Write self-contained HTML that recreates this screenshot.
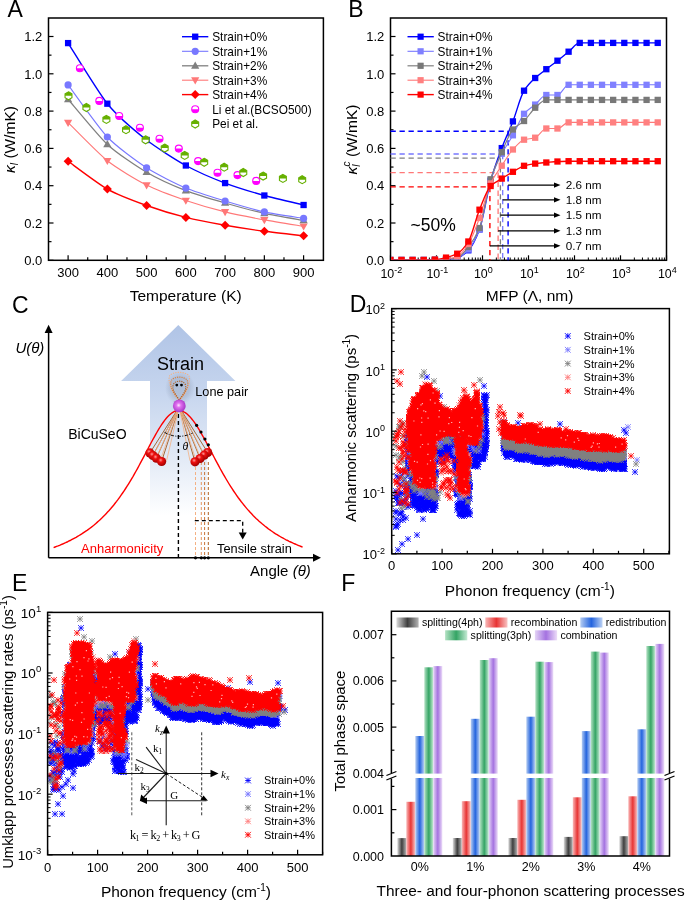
<!DOCTYPE html>
<html><head><meta charset="utf-8"><style>
html,body{margin:0;padding:0;background:#fff;}
svg{display:block;will-change:transform;}
svg text{font-family:"Liberation Sans", sans-serif;fill:#000;}
</style></head><body>
<svg width="685" height="901" viewBox="0 0 685 901">
<text x="7.4" y="16.6" font-size="23" text-anchor="start" >A</text>
<line x1="48.5" y1="260.3" x2="53.5" y2="260.3" stroke="#000" stroke-width="1.2" />
<text x="42.3" y="265" font-size="13" text-anchor="end" >0.0</text>
<line x1="48.5" y1="223" x2="53.5" y2="223" stroke="#000" stroke-width="1.2" />
<text x="42.3" y="227.7" font-size="13" text-anchor="end" >0.2</text>
<line x1="48.5" y1="185.7" x2="53.5" y2="185.7" stroke="#000" stroke-width="1.2" />
<text x="42.3" y="190.4" font-size="13" text-anchor="end" >0.4</text>
<line x1="48.5" y1="148.4" x2="53.5" y2="148.4" stroke="#000" stroke-width="1.2" />
<text x="42.3" y="153.1" font-size="13" text-anchor="end" >0.6</text>
<line x1="48.5" y1="111.1" x2="53.5" y2="111.1" stroke="#000" stroke-width="1.2" />
<text x="42.3" y="115.8" font-size="13" text-anchor="end" >0.8</text>
<line x1="48.5" y1="73.8" x2="53.5" y2="73.8" stroke="#000" stroke-width="1.2" />
<text x="42.3" y="78.5" font-size="13" text-anchor="end" >1.0</text>
<line x1="48.5" y1="36.5" x2="53.5" y2="36.5" stroke="#000" stroke-width="1.2" />
<text x="42.3" y="41.2" font-size="13" text-anchor="end" >1.2</text>
<line x1="48.5" y1="241.65" x2="51.5" y2="241.65" stroke="#000" stroke-width="1.2" />
<line x1="48.5" y1="204.35" x2="51.5" y2="204.35" stroke="#000" stroke-width="1.2" />
<line x1="48.5" y1="167.05" x2="51.5" y2="167.05" stroke="#000" stroke-width="1.2" />
<line x1="48.5" y1="129.75" x2="51.5" y2="129.75" stroke="#000" stroke-width="1.2" />
<line x1="48.5" y1="92.45" x2="51.5" y2="92.45" stroke="#000" stroke-width="1.2" />
<line x1="48.5" y1="55.15" x2="51.5" y2="55.15" stroke="#000" stroke-width="1.2" />
<line x1="68.1" y1="260.3" x2="68.1" y2="255.3" stroke="#000" stroke-width="1.2" />
<text x="68.1" y="277.1" font-size="13" text-anchor="middle" >300</text>
<line x1="107.35" y1="260.3" x2="107.35" y2="255.3" stroke="#000" stroke-width="1.2" />
<text x="107.35" y="277.1" font-size="13" text-anchor="middle" >400</text>
<line x1="146.6" y1="260.3" x2="146.6" y2="255.3" stroke="#000" stroke-width="1.2" />
<text x="146.6" y="277.1" font-size="13" text-anchor="middle" >500</text>
<line x1="185.85" y1="260.3" x2="185.85" y2="255.3" stroke="#000" stroke-width="1.2" />
<text x="185.85" y="277.1" font-size="13" text-anchor="middle" >600</text>
<line x1="225.1" y1="260.3" x2="225.1" y2="255.3" stroke="#000" stroke-width="1.2" />
<text x="225.1" y="277.1" font-size="13" text-anchor="middle" >700</text>
<line x1="264.35" y1="260.3" x2="264.35" y2="255.3" stroke="#000" stroke-width="1.2" />
<text x="264.35" y="277.1" font-size="13" text-anchor="middle" >800</text>
<line x1="303.6" y1="260.3" x2="303.6" y2="255.3" stroke="#000" stroke-width="1.2" />
<text x="303.6" y="277.1" font-size="13" text-anchor="middle" >900</text>
<line x1="87.72" y1="260.3" x2="87.72" y2="257.3" stroke="#000" stroke-width="1.2" />
<line x1="126.97" y1="260.3" x2="126.97" y2="257.3" stroke="#000" stroke-width="1.2" />
<line x1="166.22" y1="260.3" x2="166.22" y2="257.3" stroke="#000" stroke-width="1.2" />
<line x1="205.47" y1="260.3" x2="205.47" y2="257.3" stroke="#000" stroke-width="1.2" />
<line x1="244.72" y1="260.3" x2="244.72" y2="257.3" stroke="#000" stroke-width="1.2" />
<line x1="283.98" y1="260.3" x2="283.98" y2="257.3" stroke="#000" stroke-width="1.2" />
<rect x="48.5" y="18" width="274.9" height="242.3" fill="none" stroke="#000" stroke-width="1.5"/>
<text x="129.7" y="300.7" font-size="15.5" text-anchor="start" >Temperature (K)</text>
<text transform="translate(15,139.5) rotate(-90)" font-size="15.5" text-anchor="middle"><tspan font-style="italic">κ</tspan><tspan font-style="italic" font-size="10" dy="3">l</tspan><tspan dy="-3"> (W/mK)</tspan></text>
<path d="M68.1,161.3C72.68,164.54 98.19,183.94 107.35,189.1C116.51,194.26 137.44,202.2 146.6,205.5C155.76,208.8 176.69,215.09 185.85,217.4C195.01,219.71 215.94,223.68 225.1,225.3C234.26,226.92 255.19,230.08 264.35,231.3C273.51,232.53 299.02,235.28 303.6,235.8" fill="none" stroke="#ff0000" stroke-width="1.4"/>
<polygon points="68.1,156.8 72.6,161.3 68.1,165.8 63.6,161.3" fill="#ff0000"/>
<polygon points="107.35,184.6 111.85,189.1 107.35,193.6 102.85,189.1" fill="#ff0000"/>
<polygon points="146.6,201 151.1,205.5 146.6,210 142.1,205.5" fill="#ff0000"/>
<polygon points="185.85,212.9 190.35,217.4 185.85,221.9 181.35,217.4" fill="#ff0000"/>
<polygon points="225.1,220.8 229.6,225.3 225.1,229.8 220.6,225.3" fill="#ff0000"/>
<polygon points="264.35,226.8 268.85,231.3 264.35,235.8 259.85,231.3" fill="#ff0000"/>
<polygon points="303.6,231.3 308.1,235.8 303.6,240.3 299.1,235.8" fill="#ff0000"/>
<path d="M68.1,122.6C72.68,127.06 98.19,153.51 107.35,160.8C116.51,168.09 137.44,180.47 146.6,185.1C155.76,189.73 176.69,197.37 185.85,200.5C195.01,203.63 215.94,209.64 225.1,211.9C234.26,214.16 255.19,218.22 264.35,219.9C273.51,221.58 299.02,225.55 303.6,226.3" fill="none" stroke="#ff7878" stroke-width="1.1"/>
<polygon points="68.1,126.88 72.2,119.75 64,119.75" fill="#ff7878"/>
<polygon points="107.35,165.08 111.45,157.95 103.25,157.95" fill="#ff7878"/>
<polygon points="146.6,189.38 150.7,182.25 142.5,182.25" fill="#ff7878"/>
<polygon points="185.85,204.78 189.95,197.65 181.75,197.65" fill="#ff7878"/>
<polygon points="225.1,216.18 229.2,209.05 221,209.05" fill="#ff7878"/>
<polygon points="264.35,224.18 268.45,217.05 260.25,217.05" fill="#ff7878"/>
<polygon points="303.6,230.58 307.7,223.45 299.5,223.45" fill="#ff7878"/>
<path d="M68.1,99.3C72.68,104.56 98.19,135.9 107.35,144.4C116.51,152.91 137.44,166.81 146.6,172.2C155.76,177.59 176.69,187.01 185.85,190.6C195.01,194.19 215.94,200.34 225.1,203C234.26,205.66 255.19,211.37 264.35,213.4C273.51,215.43 299.02,219.58 303.6,220.4" fill="none" stroke="#808080" stroke-width="1.3"/>
<polygon points="68.1,95.02 72.2,102.15 64,102.15" fill="#808080"/>
<polygon points="107.35,140.12 111.45,147.25 103.25,147.25" fill="#808080"/>
<polygon points="146.6,167.92 150.7,175.05 142.5,175.05" fill="#808080"/>
<polygon points="185.85,186.32 189.95,193.45 181.75,193.45" fill="#808080"/>
<polygon points="225.1,198.72 229.2,205.85 221,205.85" fill="#808080"/>
<polygon points="264.35,209.12 268.45,216.25 260.25,216.25" fill="#808080"/>
<polygon points="303.6,216.12 307.7,223.25 299.5,223.25" fill="#808080"/>
<path d="M68.1,84.9C72.68,90.98 98.19,127.33 107.35,137C116.51,146.67 137.44,161.84 146.6,167.8C155.76,173.76 176.69,184.23 185.85,188.1C195.01,191.97 215.94,198.22 225.1,201C234.26,203.78 255.19,209.87 264.35,211.9C273.51,213.93 299.02,217.64 303.6,218.4" fill="none" stroke="#7878ff" stroke-width="1.1"/>
<circle cx="68.1" cy="84.9" r="3.6" fill="#7878ff"/>
<circle cx="107.35" cy="137" r="3.6" fill="#7878ff"/>
<circle cx="146.6" cy="167.8" r="3.6" fill="#7878ff"/>
<circle cx="185.85" cy="188.1" r="3.6" fill="#7878ff"/>
<circle cx="225.1" cy="201" r="3.6" fill="#7878ff"/>
<circle cx="264.35" cy="211.9" r="3.6" fill="#7878ff"/>
<circle cx="303.6" cy="218.4" r="3.6" fill="#7878ff"/>
<path d="M68.1,43.1C72.68,50.17 98.19,92.4 107.35,103.7C116.51,115 137.44,132.79 146.6,140C155.76,147.21 176.69,160.47 185.85,165.5C195.01,170.53 215.94,179.6 225.1,183.1C234.26,186.6 255.19,192.94 264.35,195.5C273.51,198.06 299.02,203.89 303.6,205" fill="none" stroke="#0000ff" stroke-width="1.4"/>
<rect x="64.95" y="39.95" width="6.3" height="6.3" fill="#0000ff"/>
<rect x="104.2" y="100.55" width="6.3" height="6.3" fill="#0000ff"/>
<rect x="143.45" y="136.85" width="6.3" height="6.3" fill="#0000ff"/>
<rect x="182.7" y="162.35" width="6.3" height="6.3" fill="#0000ff"/>
<rect x="221.95" y="179.95" width="6.3" height="6.3" fill="#0000ff"/>
<rect x="261.2" y="192.35" width="6.3" height="6.3" fill="#0000ff"/>
<rect x="300.45" y="201.85" width="6.3" height="6.3" fill="#0000ff"/>
<circle cx="79.9" cy="68.2" r="3.5" fill="#fff" stroke="#ff00ff" stroke-width="1.1"/><path d="M76.4,68.2 A3.5,3.5 0 0 0 83.4,68.2Z" fill="#ff00ff"/>
<circle cx="99.3" cy="100.9" r="3.5" fill="#fff" stroke="#ff00ff" stroke-width="1.1"/><path d="M95.8,100.9 A3.5,3.5 0 0 0 102.8,100.9Z" fill="#ff00ff"/>
<circle cx="119.2" cy="116" r="3.5" fill="#fff" stroke="#ff00ff" stroke-width="1.1"/><path d="M115.7,116 A3.5,3.5 0 0 0 122.7,116Z" fill="#ff00ff"/>
<circle cx="139.9" cy="127.7" r="3.5" fill="#fff" stroke="#ff00ff" stroke-width="1.1"/><path d="M136.4,127.7 A3.5,3.5 0 0 0 143.4,127.7Z" fill="#ff00ff"/>
<circle cx="159.5" cy="138.8" r="3.5" fill="#fff" stroke="#ff00ff" stroke-width="1.1"/><path d="M156,138.8 A3.5,3.5 0 0 0 163,138.8Z" fill="#ff00ff"/>
<circle cx="178.8" cy="148.6" r="3.5" fill="#fff" stroke="#ff00ff" stroke-width="1.1"/><path d="M175.3,148.6 A3.5,3.5 0 0 0 182.3,148.6Z" fill="#ff00ff"/>
<circle cx="198.1" cy="161.1" r="3.5" fill="#fff" stroke="#ff00ff" stroke-width="1.1"/><path d="M194.6,161.1 A3.5,3.5 0 0 0 201.6,161.1Z" fill="#ff00ff"/>
<circle cx="217.5" cy="172.8" r="3.5" fill="#fff" stroke="#ff00ff" stroke-width="1.1"/><path d="M214,172.8 A3.5,3.5 0 0 0 221,172.8Z" fill="#ff00ff"/>
<circle cx="237.5" cy="175.1" r="3.5" fill="#fff" stroke="#ff00ff" stroke-width="1.1"/><path d="M234,175.1 A3.5,3.5 0 0 0 241,175.1Z" fill="#ff00ff"/>
<circle cx="256.2" cy="180.9" r="3.5" fill="#fff" stroke="#ff00ff" stroke-width="1.1"/><path d="M252.7,180.9 A3.5,3.5 0 0 0 259.7,180.9Z" fill="#ff00ff"/>
<polygon points="68.5,91.8 71.96,93.8 71.96,97.8 68.5,99.8 65.04,97.8 65.04,93.8" fill="#fff" stroke="#66b000" stroke-width="1.1"/><polygon points="65.04,95.8 65.04,93.8 68.5,91.8 71.96,93.8 71.96,95.8" fill="#66b000"/>
<polygon points="86.4,103.5 89.86,105.5 89.86,109.5 86.4,111.5 82.94,109.5 82.94,105.5" fill="#fff" stroke="#66b000" stroke-width="1.1"/><polygon points="82.94,107.5 82.94,105.5 86.4,103.5 89.86,105.5 89.86,107.5" fill="#66b000"/>
<polygon points="106.4,115.4 109.86,117.4 109.86,121.4 106.4,123.4 102.94,121.4 102.94,117.4" fill="#fff" stroke="#66b000" stroke-width="1.1"/><polygon points="102.94,119.4 102.94,117.4 106.4,115.4 109.86,117.4 109.86,119.4" fill="#66b000"/>
<polygon points="126,125.7 129.46,127.7 129.46,131.7 126,133.7 122.54,131.7 122.54,127.7" fill="#fff" stroke="#66b000" stroke-width="1.1"/><polygon points="122.54,129.7 122.54,127.7 126,125.7 129.46,127.7 129.46,129.7" fill="#66b000"/>
<polygon points="145.6,135.8 149.06,137.8 149.06,141.8 145.6,143.8 142.14,141.8 142.14,137.8" fill="#fff" stroke="#66b000" stroke-width="1.1"/><polygon points="142.14,139.8 142.14,137.8 145.6,135.8 149.06,137.8 149.06,139.8" fill="#66b000"/>
<polygon points="164.7,144.1 168.16,146.1 168.16,150.1 164.7,152.1 161.24,150.1 161.24,146.1" fill="#fff" stroke="#66b000" stroke-width="1.1"/><polygon points="161.24,148.1 161.24,146.1 164.7,144.1 168.16,146.1 168.16,148.1" fill="#66b000"/>
<polygon points="184.7,151.4 188.16,153.4 188.16,157.4 184.7,159.4 181.24,157.4 181.24,153.4" fill="#fff" stroke="#66b000" stroke-width="1.1"/><polygon points="181.24,155.4 181.24,153.4 184.7,151.4 188.16,153.4 188.16,155.4" fill="#66b000"/>
<polygon points="204.2,158.3 207.66,160.3 207.66,164.3 204.2,166.3 200.74,164.3 200.74,160.3" fill="#fff" stroke="#66b000" stroke-width="1.1"/><polygon points="200.74,162.3 200.74,160.3 204.2,158.3 207.66,160.3 207.66,162.3" fill="#66b000"/>
<polygon points="224.2,163.2 227.66,165.2 227.66,169.2 224.2,171.2 220.74,169.2 220.74,165.2" fill="#fff" stroke="#66b000" stroke-width="1.1"/><polygon points="220.74,167.2 220.74,165.2 224.2,163.2 227.66,165.2 227.66,167.2" fill="#66b000"/>
<polygon points="243.3,168.5 246.76,170.5 246.76,174.5 243.3,176.5 239.84,174.5 239.84,170.5" fill="#fff" stroke="#66b000" stroke-width="1.1"/><polygon points="239.84,172.5 239.84,170.5 243.3,168.5 246.76,170.5 246.76,172.5" fill="#66b000"/>
<polygon points="263.1,172.1 266.56,174.1 266.56,178.1 263.1,180.1 259.64,178.1 259.64,174.1" fill="#fff" stroke="#66b000" stroke-width="1.1"/><polygon points="259.64,176.1 259.64,174.1 263.1,172.1 266.56,174.1 266.56,176.1" fill="#66b000"/>
<polygon points="282.9,174.4 286.36,176.4 286.36,180.4 282.9,182.4 279.44,180.4 279.44,176.4" fill="#fff" stroke="#66b000" stroke-width="1.1"/><polygon points="279.44,178.4 279.44,176.4 282.9,174.4 286.36,176.4 286.36,178.4" fill="#66b000"/>
<polygon points="302.2,175.7 305.66,177.7 305.66,181.7 302.2,183.7 298.74,181.7 298.74,177.7" fill="#fff" stroke="#66b000" stroke-width="1.1"/><polygon points="298.74,179.7 298.74,177.7 302.2,175.7 305.66,177.7 305.66,179.7" fill="#66b000"/>
<line x1="182" y1="36.7" x2="208.3" y2="36.7" stroke="#0000ff" stroke-width="1.4" />
<rect x="192.05" y="33.55" width="6.3" height="6.3" fill="#0000ff"/>
<line x1="182" y1="51.3" x2="208.3" y2="51.3" stroke="#7878ff" stroke-width="1.1" />
<circle cx="195.2" cy="51.3" r="3.6" fill="#7878ff"/>
<line x1="182" y1="65.8" x2="208.3" y2="65.8" stroke="#808080" stroke-width="1.3" />
<polygon points="195.2,61.52 199.3,68.65 191.1,68.65" fill="#808080"/>
<line x1="182" y1="80.2" x2="208.3" y2="80.2" stroke="#ff7878" stroke-width="1.1" />
<polygon points="195.2,84.48 199.3,77.35 191.1,77.35" fill="#ff7878"/>
<line x1="182" y1="94.6" x2="208.3" y2="94.6" stroke="#ff0000" stroke-width="1.4" />
<polygon points="195.2,90.1 199.7,94.6 195.2,99.1 190.7,94.6" fill="#ff0000"/>
<circle cx="195.2" cy="109.2" r="3.5" fill="#fff" stroke="#ff00ff" stroke-width="1.1"/><path d="M191.7,109.2 A3.5,3.5 0 0 0 198.7,109.2Z" fill="#ff00ff"/>
<polygon points="195.2,120 198.66,122 198.66,126 195.2,128 191.74,126 191.74,122" fill="#fff" stroke="#66b000" stroke-width="1.1"/><polygon points="191.74,124 191.74,122 195.2,120 198.66,122 198.66,124" fill="#66b000"/>
<text x="212.2" y="41" font-size="11.85" text-anchor="start" >Strain+0%</text>
<text x="212.2" y="55.6" font-size="11.85" text-anchor="start" >Strain+1%</text>
<text x="212.2" y="70.1" font-size="11.85" text-anchor="start" >Strain+2%</text>
<text x="212.2" y="84.5" font-size="11.85" text-anchor="start" >Strain+3%</text>
<text x="212.2" y="98.9" font-size="11.85" text-anchor="start" >Strain+4%</text>
<text x="212.2" y="113.5" font-size="11.85" text-anchor="start" >Li et al.(BCSO500)</text>
<text x="212.2" y="128.3" font-size="11.85" text-anchor="start" >Pei et al.</text>
<text x="348.3" y="16.6" font-size="23" text-anchor="start" >B</text>
<line x1="390.5" y1="260.3" x2="395.5" y2="260.3" stroke="#000" stroke-width="1.2" />
<text x="384.3" y="265" font-size="13" text-anchor="end" >0.0</text>
<line x1="390.5" y1="223" x2="395.5" y2="223" stroke="#000" stroke-width="1.2" />
<text x="384.3" y="227.7" font-size="13" text-anchor="end" >0.2</text>
<line x1="390.5" y1="185.7" x2="395.5" y2="185.7" stroke="#000" stroke-width="1.2" />
<text x="384.3" y="190.4" font-size="13" text-anchor="end" >0.4</text>
<line x1="390.5" y1="148.4" x2="395.5" y2="148.4" stroke="#000" stroke-width="1.2" />
<text x="384.3" y="153.1" font-size="13" text-anchor="end" >0.6</text>
<line x1="390.5" y1="111.1" x2="395.5" y2="111.1" stroke="#000" stroke-width="1.2" />
<text x="384.3" y="115.8" font-size="13" text-anchor="end" >0.8</text>
<line x1="390.5" y1="73.8" x2="395.5" y2="73.8" stroke="#000" stroke-width="1.2" />
<text x="384.3" y="78.5" font-size="13" text-anchor="end" >1.0</text>
<line x1="390.5" y1="36.5" x2="395.5" y2="36.5" stroke="#000" stroke-width="1.2" />
<text x="384.3" y="41.2" font-size="13" text-anchor="end" >1.2</text>
<line x1="390.5" y1="241.65" x2="393.5" y2="241.65" stroke="#000" stroke-width="1.2" />
<line x1="390.5" y1="204.35" x2="393.5" y2="204.35" stroke="#000" stroke-width="1.2" />
<line x1="390.5" y1="167.05" x2="393.5" y2="167.05" stroke="#000" stroke-width="1.2" />
<line x1="390.5" y1="129.75" x2="393.5" y2="129.75" stroke="#000" stroke-width="1.2" />
<line x1="390.5" y1="92.45" x2="393.5" y2="92.45" stroke="#000" stroke-width="1.2" />
<line x1="390.5" y1="55.15" x2="393.5" y2="55.15" stroke="#000" stroke-width="1.2" />
<line x1="390.5" y1="260.3" x2="390.5" y2="255.3" stroke="#000" stroke-width="1.2" />
<line x1="404.35" y1="260.3" x2="404.35" y2="257.5" stroke="#000" stroke-width="1" />
<line x1="412.45" y1="260.3" x2="412.45" y2="257.5" stroke="#000" stroke-width="1" />
<line x1="418.19" y1="260.3" x2="418.19" y2="257.5" stroke="#000" stroke-width="1" />
<line x1="422.65" y1="260.3" x2="422.65" y2="257.5" stroke="#000" stroke-width="1" />
<line x1="426.29" y1="260.3" x2="426.29" y2="257.5" stroke="#000" stroke-width="1" />
<line x1="429.37" y1="260.3" x2="429.37" y2="257.5" stroke="#000" stroke-width="1" />
<line x1="432.04" y1="260.3" x2="432.04" y2="257.5" stroke="#000" stroke-width="1" />
<line x1="434.4" y1="260.3" x2="434.4" y2="257.5" stroke="#000" stroke-width="1" />
<text x="391.3" y="278.2" font-size="12.4" text-anchor="middle">10<tspan font-size="9" dy="-5">-2</tspan></text>
<line x1="436.5" y1="260.3" x2="436.5" y2="255.3" stroke="#000" stroke-width="1.2" />
<line x1="450.35" y1="260.3" x2="450.35" y2="257.5" stroke="#000" stroke-width="1" />
<line x1="458.45" y1="260.3" x2="458.45" y2="257.5" stroke="#000" stroke-width="1" />
<line x1="464.19" y1="260.3" x2="464.19" y2="257.5" stroke="#000" stroke-width="1" />
<line x1="468.65" y1="260.3" x2="468.65" y2="257.5" stroke="#000" stroke-width="1" />
<line x1="472.29" y1="260.3" x2="472.29" y2="257.5" stroke="#000" stroke-width="1" />
<line x1="475.37" y1="260.3" x2="475.37" y2="257.5" stroke="#000" stroke-width="1" />
<line x1="478.04" y1="260.3" x2="478.04" y2="257.5" stroke="#000" stroke-width="1" />
<line x1="480.4" y1="260.3" x2="480.4" y2="257.5" stroke="#000" stroke-width="1" />
<text x="437.3" y="278.2" font-size="12.4" text-anchor="middle">10<tspan font-size="9" dy="-5">-1</tspan></text>
<line x1="482.5" y1="260.3" x2="482.5" y2="255.3" stroke="#000" stroke-width="1.2" />
<line x1="496.35" y1="260.3" x2="496.35" y2="257.5" stroke="#000" stroke-width="1" />
<line x1="504.45" y1="260.3" x2="504.45" y2="257.5" stroke="#000" stroke-width="1" />
<line x1="510.19" y1="260.3" x2="510.19" y2="257.5" stroke="#000" stroke-width="1" />
<line x1="514.65" y1="260.3" x2="514.65" y2="257.5" stroke="#000" stroke-width="1" />
<line x1="518.29" y1="260.3" x2="518.29" y2="257.5" stroke="#000" stroke-width="1" />
<line x1="521.37" y1="260.3" x2="521.37" y2="257.5" stroke="#000" stroke-width="1" />
<line x1="524.04" y1="260.3" x2="524.04" y2="257.5" stroke="#000" stroke-width="1" />
<line x1="526.4" y1="260.3" x2="526.4" y2="257.5" stroke="#000" stroke-width="1" />
<text x="483.3" y="278.2" font-size="12.4" text-anchor="middle">10<tspan font-size="9" dy="-5">0</tspan></text>
<line x1="528.5" y1="260.3" x2="528.5" y2="255.3" stroke="#000" stroke-width="1.2" />
<line x1="542.35" y1="260.3" x2="542.35" y2="257.5" stroke="#000" stroke-width="1" />
<line x1="550.45" y1="260.3" x2="550.45" y2="257.5" stroke="#000" stroke-width="1" />
<line x1="556.19" y1="260.3" x2="556.19" y2="257.5" stroke="#000" stroke-width="1" />
<line x1="560.65" y1="260.3" x2="560.65" y2="257.5" stroke="#000" stroke-width="1" />
<line x1="564.29" y1="260.3" x2="564.29" y2="257.5" stroke="#000" stroke-width="1" />
<line x1="567.37" y1="260.3" x2="567.37" y2="257.5" stroke="#000" stroke-width="1" />
<line x1="570.04" y1="260.3" x2="570.04" y2="257.5" stroke="#000" stroke-width="1" />
<line x1="572.4" y1="260.3" x2="572.4" y2="257.5" stroke="#000" stroke-width="1" />
<text x="529.3" y="278.2" font-size="12.4" text-anchor="middle">10<tspan font-size="9" dy="-5">1</tspan></text>
<line x1="574.5" y1="260.3" x2="574.5" y2="255.3" stroke="#000" stroke-width="1.2" />
<line x1="588.35" y1="260.3" x2="588.35" y2="257.5" stroke="#000" stroke-width="1" />
<line x1="596.45" y1="260.3" x2="596.45" y2="257.5" stroke="#000" stroke-width="1" />
<line x1="602.19" y1="260.3" x2="602.19" y2="257.5" stroke="#000" stroke-width="1" />
<line x1="606.65" y1="260.3" x2="606.65" y2="257.5" stroke="#000" stroke-width="1" />
<line x1="610.29" y1="260.3" x2="610.29" y2="257.5" stroke="#000" stroke-width="1" />
<line x1="613.37" y1="260.3" x2="613.37" y2="257.5" stroke="#000" stroke-width="1" />
<line x1="616.04" y1="260.3" x2="616.04" y2="257.5" stroke="#000" stroke-width="1" />
<line x1="618.4" y1="260.3" x2="618.4" y2="257.5" stroke="#000" stroke-width="1" />
<text x="575.3" y="278.2" font-size="12.4" text-anchor="middle">10<tspan font-size="9" dy="-5">2</tspan></text>
<line x1="620.5" y1="260.3" x2="620.5" y2="255.3" stroke="#000" stroke-width="1.2" />
<line x1="634.35" y1="260.3" x2="634.35" y2="257.5" stroke="#000" stroke-width="1" />
<line x1="642.45" y1="260.3" x2="642.45" y2="257.5" stroke="#000" stroke-width="1" />
<line x1="648.19" y1="260.3" x2="648.19" y2="257.5" stroke="#000" stroke-width="1" />
<line x1="652.65" y1="260.3" x2="652.65" y2="257.5" stroke="#000" stroke-width="1" />
<line x1="656.29" y1="260.3" x2="656.29" y2="257.5" stroke="#000" stroke-width="1" />
<line x1="659.37" y1="260.3" x2="659.37" y2="257.5" stroke="#000" stroke-width="1" />
<line x1="662.04" y1="260.3" x2="662.04" y2="257.5" stroke="#000" stroke-width="1" />
<line x1="664.4" y1="260.3" x2="664.4" y2="257.5" stroke="#000" stroke-width="1" />
<text x="621.3" y="278.2" font-size="12.4" text-anchor="middle">10<tspan font-size="9" dy="-5">3</tspan></text>
<line x1="666.5" y1="260.3" x2="666.5" y2="255.3" stroke="#000" stroke-width="1.2" />
<text x="667.3" y="278.2" font-size="12.4" text-anchor="middle">10<tspan font-size="9" dy="-5">4</tspan></text>
<rect x="390.5" y="18" width="276" height="242.3" fill="none" stroke="#000" stroke-width="1.5"/>
<text x="485.8" y="301.1" font-size="15.5" text-anchor="start" >MFP (Λ, nm)</text>
<text transform="translate(357,139.5) rotate(-90)" font-size="15.5" text-anchor="middle"><tspan font-style="italic">κ</tspan><tspan font-style="italic" font-size="10" dy="3">l</tspan><tspan font-style="italic" font-size="10" dy="-10" dx="-2">c</tspan><tspan dy="7"> (W/mK)</tspan></text>
<line x1="390.5" y1="131.3" x2="508.1" y2="131.3" stroke="#0000ff" stroke-width="1.4" stroke-dasharray="5.3,3.7"/>
<line x1="508.1" y1="131.3" x2="508.1" y2="260.3" stroke="#0000ff" stroke-width="1.4" stroke-dasharray="5.3,3.7"/>
<line x1="390.5" y1="154" x2="502.7" y2="154" stroke="#7878ff" stroke-width="1.3" stroke-dasharray="5.3,3.7"/>
<line x1="502.7" y1="154" x2="502.7" y2="260.3" stroke="#7878ff" stroke-width="1.3" stroke-dasharray="5.3,3.7"/>
<line x1="390.5" y1="158.2" x2="500.4" y2="158.2" stroke="#808080" stroke-width="1.3" stroke-dasharray="5.3,3.7"/>
<line x1="500.4" y1="158.2" x2="500.4" y2="260.3" stroke="#808080" stroke-width="1.3" stroke-dasharray="5.3,3.7"/>
<line x1="390.5" y1="172.6" x2="498.1" y2="172.6" stroke="#ff7878" stroke-width="1.3" stroke-dasharray="5.3,3.7"/>
<line x1="498.1" y1="172.6" x2="498.1" y2="260.3" stroke="#ff7878" stroke-width="1.3" stroke-dasharray="5.3,3.7"/>
<line x1="390.5" y1="186.9" x2="489.9" y2="186.9" stroke="#ff0000" stroke-width="1.4" stroke-dasharray="5.3,3.7"/>
<line x1="489.9" y1="186.9" x2="489.9" y2="260.3" stroke="#ff0000" stroke-width="1.4" stroke-dasharray="5.3,3.7"/>
<defs><clipPath id="clipB"><rect x="391.25" y="18" width="274.5" height="241.55"/></clipPath></defs>
<g clip-path="url(#clipB)">
<path d="M390.36,260C394.07,260 397.79,260 401.5,260C405.21,260 408.93,260 412.64,260C416.35,260 420.07,260 423.78,260C427.49,260 431.21,259.88 434.92,259.8C438.63,259.72 442.35,259.67 446.06,259.5C449.77,259.33 453.49,258.84 457.2,258C460.91,257.16 464.63,254.05 468.34,250.3C472.05,246.55 475.77,239.13 479.48,229.4C483.19,219.67 486.91,194.06 490.62,181C494.33,167.94 498.05,157.93 501.76,148.1C505.47,138.27 509.19,130.92 512.9,121.4C516.61,111.88 520.33,96.69 524.04,90.7C527.75,84.71 531.47,81.47 535.18,78C538.89,74.53 542.61,72.08 546.32,69.2C550.03,66.32 553.75,63.61 557.46,60.7C561.17,57.79 564.89,54.67 568.6,51.7C572.31,48.73 576.03,42.9 579.74,42.9C583.45,42.9 587.17,42.9 590.88,42.9C594.59,42.9 598.31,42.9 602.02,42.9C605.73,42.9 609.45,42.9 613.16,42.9C616.87,42.9 620.59,42.9 624.3,42.9C628.01,42.9 631.73,42.9 635.44,42.9C639.15,42.9 642.87,42.9 646.58,42.9C650.29,42.9 654.01,42.9 657.72,42.9" fill="none" stroke="#0000ff" stroke-width="1.4"/>
<rect x="387.21" y="256.85" width="6.3" height="6.3" fill="#0000ff"/>
<rect x="398.35" y="256.85" width="6.3" height="6.3" fill="#0000ff"/>
<rect x="409.49" y="256.85" width="6.3" height="6.3" fill="#0000ff"/>
<rect x="420.63" y="256.85" width="6.3" height="6.3" fill="#0000ff"/>
<rect x="431.77" y="256.65" width="6.3" height="6.3" fill="#0000ff"/>
<rect x="442.91" y="256.35" width="6.3" height="6.3" fill="#0000ff"/>
<rect x="454.05" y="254.85" width="6.3" height="6.3" fill="#0000ff"/>
<rect x="465.19" y="247.15" width="6.3" height="6.3" fill="#0000ff"/>
<rect x="476.33" y="226.25" width="6.3" height="6.3" fill="#0000ff"/>
<rect x="487.47" y="177.85" width="6.3" height="6.3" fill="#0000ff"/>
<rect x="498.61" y="144.95" width="6.3" height="6.3" fill="#0000ff"/>
<rect x="509.75" y="118.25" width="6.3" height="6.3" fill="#0000ff"/>
<rect x="520.89" y="87.55" width="6.3" height="6.3" fill="#0000ff"/>
<rect x="532.03" y="74.85" width="6.3" height="6.3" fill="#0000ff"/>
<rect x="543.17" y="66.05" width="6.3" height="6.3" fill="#0000ff"/>
<rect x="554.31" y="57.55" width="6.3" height="6.3" fill="#0000ff"/>
<rect x="565.45" y="48.55" width="6.3" height="6.3" fill="#0000ff"/>
<rect x="576.59" y="39.75" width="6.3" height="6.3" fill="#0000ff"/>
<rect x="587.73" y="39.75" width="6.3" height="6.3" fill="#0000ff"/>
<rect x="598.87" y="39.75" width="6.3" height="6.3" fill="#0000ff"/>
<rect x="610.01" y="39.75" width="6.3" height="6.3" fill="#0000ff"/>
<rect x="621.15" y="39.75" width="6.3" height="6.3" fill="#0000ff"/>
<rect x="632.29" y="39.75" width="6.3" height="6.3" fill="#0000ff"/>
<rect x="643.43" y="39.75" width="6.3" height="6.3" fill="#0000ff"/>
<rect x="654.57" y="39.75" width="6.3" height="6.3" fill="#0000ff"/>
<path d="M390.36,260C394.07,260 397.79,260 401.5,260C405.21,260 408.93,260 412.64,260C416.35,260 420.07,260 423.78,260C427.49,260 431.21,259.88 434.92,259.8C438.63,259.72 442.35,259.67 446.06,259.5C449.77,259.33 453.49,258.85 457.2,258C460.91,257.15 464.63,253.47 468.34,249.5C472.05,245.53 475.77,239.07 479.48,229.6C483.19,220.13 486.91,191.43 490.62,180C494.33,168.57 498.05,161.03 501.76,153.8C505.47,146.57 509.19,141.93 512.9,135.3C516.61,128.67 520.33,118.1 524.04,113.8C527.75,109.5 531.47,107.73 535.18,104.6C538.89,101.47 542.61,95 546.32,95C550.03,95 553.75,95 557.46,95C561.17,95 564.89,84.8 568.6,84.8C572.31,84.8 576.03,84.8 579.74,84.8C583.45,84.8 587.17,84.8 590.88,84.8C594.59,84.8 598.31,84.8 602.02,84.8C605.73,84.8 609.45,84.8 613.16,84.8C616.87,84.8 620.59,84.8 624.3,84.8C628.01,84.8 631.73,84.8 635.44,84.8C639.15,84.8 642.87,84.8 646.58,84.8C650.29,84.8 654.01,84.8 657.72,84.8" fill="none" stroke="#7878ff" stroke-width="1.1"/>
<rect x="387.21" y="256.85" width="6.3" height="6.3" fill="#8080ff"/>
<rect x="398.35" y="256.85" width="6.3" height="6.3" fill="#8080ff"/>
<rect x="409.49" y="256.85" width="6.3" height="6.3" fill="#8080ff"/>
<rect x="420.63" y="256.85" width="6.3" height="6.3" fill="#8080ff"/>
<rect x="431.77" y="256.65" width="6.3" height="6.3" fill="#8080ff"/>
<rect x="442.91" y="256.35" width="6.3" height="6.3" fill="#8080ff"/>
<rect x="454.05" y="254.85" width="6.3" height="6.3" fill="#8080ff"/>
<rect x="465.19" y="246.35" width="6.3" height="6.3" fill="#8080ff"/>
<rect x="476.33" y="226.45" width="6.3" height="6.3" fill="#8080ff"/>
<rect x="487.47" y="176.85" width="6.3" height="6.3" fill="#8080ff"/>
<rect x="498.61" y="150.65" width="6.3" height="6.3" fill="#8080ff"/>
<rect x="509.75" y="132.15" width="6.3" height="6.3" fill="#8080ff"/>
<rect x="520.89" y="110.65" width="6.3" height="6.3" fill="#8080ff"/>
<rect x="532.03" y="101.45" width="6.3" height="6.3" fill="#8080ff"/>
<rect x="543.17" y="91.85" width="6.3" height="6.3" fill="#8080ff"/>
<rect x="554.31" y="91.85" width="6.3" height="6.3" fill="#8080ff"/>
<rect x="565.45" y="81.65" width="6.3" height="6.3" fill="#8080ff"/>
<rect x="576.59" y="81.65" width="6.3" height="6.3" fill="#8080ff"/>
<rect x="587.73" y="81.65" width="6.3" height="6.3" fill="#8080ff"/>
<rect x="598.87" y="81.65" width="6.3" height="6.3" fill="#8080ff"/>
<rect x="610.01" y="81.65" width="6.3" height="6.3" fill="#8080ff"/>
<rect x="621.15" y="81.65" width="6.3" height="6.3" fill="#8080ff"/>
<rect x="632.29" y="81.65" width="6.3" height="6.3" fill="#8080ff"/>
<rect x="643.43" y="81.65" width="6.3" height="6.3" fill="#8080ff"/>
<rect x="654.57" y="81.65" width="6.3" height="6.3" fill="#8080ff"/>
<path d="M390.36,260C394.07,260 397.79,260 401.5,260C405.21,260 408.93,260 412.64,260C416.35,260 420.07,260 423.78,260C427.49,260 431.21,259.9 434.92,259.8C438.63,259.7 442.35,259.55 446.06,259.3C449.77,259.05 453.49,258.68 457.2,257.8C460.91,256.92 464.63,251.59 468.34,247C472.05,242.41 475.77,237.11 479.48,228C483.19,218.89 486.91,190.91 490.62,179.3C494.33,167.69 498.05,160.44 501.76,152.2C505.47,143.96 509.19,133.62 512.9,129.5C516.61,125.38 520.33,124.46 524.04,121C527.75,117.54 531.47,110.98 535.18,107.7C538.89,104.42 542.61,99.9 546.32,99.9C550.03,99.9 553.75,99.9 557.46,99.9C561.17,99.9 564.89,99.9 568.6,99.9C572.31,99.9 576.03,99.9 579.74,99.9C583.45,99.9 587.17,99.9 590.88,99.9C594.59,99.9 598.31,99.9 602.02,99.9C605.73,99.9 609.45,99.9 613.16,99.9C616.87,99.9 620.59,99.9 624.3,99.9C628.01,99.9 631.73,99.9 635.44,99.9C639.15,99.9 642.87,99.9 646.58,99.9C650.29,99.9 654.01,99.9 657.72,99.9" fill="none" stroke="#808080" stroke-width="1.2"/>
<rect x="387.21" y="256.85" width="6.3" height="6.3" fill="#787878"/>
<rect x="398.35" y="256.85" width="6.3" height="6.3" fill="#787878"/>
<rect x="409.49" y="256.85" width="6.3" height="6.3" fill="#787878"/>
<rect x="420.63" y="256.85" width="6.3" height="6.3" fill="#787878"/>
<rect x="431.77" y="256.65" width="6.3" height="6.3" fill="#787878"/>
<rect x="442.91" y="256.15" width="6.3" height="6.3" fill="#787878"/>
<rect x="454.05" y="254.65" width="6.3" height="6.3" fill="#787878"/>
<rect x="465.19" y="243.85" width="6.3" height="6.3" fill="#787878"/>
<rect x="476.33" y="224.85" width="6.3" height="6.3" fill="#787878"/>
<rect x="487.47" y="176.15" width="6.3" height="6.3" fill="#787878"/>
<rect x="498.61" y="149.05" width="6.3" height="6.3" fill="#787878"/>
<rect x="509.75" y="126.35" width="6.3" height="6.3" fill="#787878"/>
<rect x="520.89" y="117.85" width="6.3" height="6.3" fill="#787878"/>
<rect x="532.03" y="104.55" width="6.3" height="6.3" fill="#787878"/>
<rect x="543.17" y="96.75" width="6.3" height="6.3" fill="#787878"/>
<rect x="554.31" y="96.75" width="6.3" height="6.3" fill="#787878"/>
<rect x="565.45" y="96.75" width="6.3" height="6.3" fill="#787878"/>
<rect x="576.59" y="96.75" width="6.3" height="6.3" fill="#787878"/>
<rect x="587.73" y="96.75" width="6.3" height="6.3" fill="#787878"/>
<rect x="598.87" y="96.75" width="6.3" height="6.3" fill="#787878"/>
<rect x="610.01" y="96.75" width="6.3" height="6.3" fill="#787878"/>
<rect x="621.15" y="96.75" width="6.3" height="6.3" fill="#787878"/>
<rect x="632.29" y="96.75" width="6.3" height="6.3" fill="#787878"/>
<rect x="643.43" y="96.75" width="6.3" height="6.3" fill="#787878"/>
<rect x="654.57" y="96.75" width="6.3" height="6.3" fill="#787878"/>
<path d="M390.36,260C394.07,260 397.79,260 401.5,260C405.21,260 408.93,260 412.64,260C416.35,260 420.07,260 423.78,260C427.49,260 431.21,259.91 434.92,259.8C438.63,259.69 442.35,259.4 446.06,259C449.77,258.6 453.49,257.89 457.2,256.5C460.91,255.11 464.63,249.63 468.34,244C472.05,238.37 475.77,227.88 479.48,218C483.19,208.12 486.91,191.33 490.62,183.5C494.33,175.67 498.05,171.35 501.76,165.7C505.47,160.05 509.19,153.57 512.9,149.5C516.61,145.43 520.33,140.81 524.04,139.7C527.75,138.59 531.47,138.8 535.18,137.7C538.89,136.6 542.61,128.5 546.32,128.5C550.03,128.5 553.75,128.5 557.46,128.5C561.17,128.5 564.89,122.4 568.6,122.4C572.31,122.4 576.03,122.4 579.74,122.4C583.45,122.4 587.17,122.4 590.88,122.4C594.59,122.4 598.31,122.4 602.02,122.4C605.73,122.4 609.45,122.4 613.16,122.4C616.87,122.4 620.59,122.4 624.3,122.4C628.01,122.4 631.73,122.4 635.44,122.4C639.15,122.4 642.87,122.4 646.58,122.4C650.29,122.4 654.01,122.4 657.72,122.4" fill="none" stroke="#ff7878" stroke-width="1.1"/>
<rect x="387.21" y="256.85" width="6.3" height="6.3" fill="#ff8080"/>
<rect x="398.35" y="256.85" width="6.3" height="6.3" fill="#ff8080"/>
<rect x="409.49" y="256.85" width="6.3" height="6.3" fill="#ff8080"/>
<rect x="420.63" y="256.85" width="6.3" height="6.3" fill="#ff8080"/>
<rect x="431.77" y="256.65" width="6.3" height="6.3" fill="#ff8080"/>
<rect x="442.91" y="255.85" width="6.3" height="6.3" fill="#ff8080"/>
<rect x="454.05" y="253.35" width="6.3" height="6.3" fill="#ff8080"/>
<rect x="465.19" y="240.85" width="6.3" height="6.3" fill="#ff8080"/>
<rect x="476.33" y="214.85" width="6.3" height="6.3" fill="#ff8080"/>
<rect x="487.47" y="180.35" width="6.3" height="6.3" fill="#ff8080"/>
<rect x="498.61" y="162.55" width="6.3" height="6.3" fill="#ff8080"/>
<rect x="509.75" y="146.35" width="6.3" height="6.3" fill="#ff8080"/>
<rect x="520.89" y="136.55" width="6.3" height="6.3" fill="#ff8080"/>
<rect x="532.03" y="134.55" width="6.3" height="6.3" fill="#ff8080"/>
<rect x="543.17" y="125.35" width="6.3" height="6.3" fill="#ff8080"/>
<rect x="554.31" y="125.35" width="6.3" height="6.3" fill="#ff8080"/>
<rect x="565.45" y="119.25" width="6.3" height="6.3" fill="#ff8080"/>
<rect x="576.59" y="119.25" width="6.3" height="6.3" fill="#ff8080"/>
<rect x="587.73" y="119.25" width="6.3" height="6.3" fill="#ff8080"/>
<rect x="598.87" y="119.25" width="6.3" height="6.3" fill="#ff8080"/>
<rect x="610.01" y="119.25" width="6.3" height="6.3" fill="#ff8080"/>
<rect x="621.15" y="119.25" width="6.3" height="6.3" fill="#ff8080"/>
<rect x="632.29" y="119.25" width="6.3" height="6.3" fill="#ff8080"/>
<rect x="643.43" y="119.25" width="6.3" height="6.3" fill="#ff8080"/>
<rect x="654.57" y="119.25" width="6.3" height="6.3" fill="#ff8080"/>
<path d="M390.36,260C394.07,260 397.79,260 401.5,260C405.21,260 408.93,260 412.64,260C416.35,260 420.07,260 423.78,260C427.49,260 431.21,259.88 434.92,259.7C438.63,259.52 442.35,258.51 446.06,257.6C449.77,256.69 453.49,255.67 457.2,253.7C460.91,251.73 464.63,247.38 468.34,241.5C472.05,235.62 475.77,218.75 479.48,209.7C483.19,200.65 486.91,189.76 490.62,186C494.33,182.24 498.05,180.96 501.76,178.6C505.47,176.24 509.19,173.93 512.9,171.8C516.61,169.68 520.33,166.87 524.04,165.8C527.75,164.73 531.47,164.09 535.18,163.6C538.89,163.11 542.61,162.85 546.32,162.5C550.03,162.15 553.75,161.65 557.46,161.5C561.17,161.35 564.89,161.2 568.6,161.2C572.31,161.2 576.03,161.2 579.74,161.2C583.45,161.2 587.17,161.2 590.88,161.2C594.59,161.2 598.31,161.2 602.02,161.2C605.73,161.2 609.45,161.2 613.16,161.2C616.87,161.2 620.59,161.2 624.3,161.2C628.01,161.2 631.73,161.2 635.44,161.2C639.15,161.2 642.87,161.2 646.58,161.2C650.29,161.2 654.01,161.2 657.72,161.2" fill="none" stroke="#ff0000" stroke-width="1.4"/>
<rect x="387.21" y="256.85" width="6.3" height="6.3" fill="#ff0000"/>
<rect x="398.35" y="256.85" width="6.3" height="6.3" fill="#ff0000"/>
<rect x="409.49" y="256.85" width="6.3" height="6.3" fill="#ff0000"/>
<rect x="420.63" y="256.85" width="6.3" height="6.3" fill="#ff0000"/>
<rect x="431.77" y="256.55" width="6.3" height="6.3" fill="#ff0000"/>
<rect x="442.91" y="254.45" width="6.3" height="6.3" fill="#ff0000"/>
<rect x="454.05" y="250.55" width="6.3" height="6.3" fill="#ff0000"/>
<rect x="465.19" y="238.35" width="6.3" height="6.3" fill="#ff0000"/>
<rect x="476.33" y="206.55" width="6.3" height="6.3" fill="#ff0000"/>
<rect x="487.47" y="182.85" width="6.3" height="6.3" fill="#ff0000"/>
<rect x="498.61" y="175.45" width="6.3" height="6.3" fill="#ff0000"/>
<rect x="509.75" y="168.65" width="6.3" height="6.3" fill="#ff0000"/>
<rect x="520.89" y="162.65" width="6.3" height="6.3" fill="#ff0000"/>
<rect x="532.03" y="160.45" width="6.3" height="6.3" fill="#ff0000"/>
<rect x="543.17" y="159.35" width="6.3" height="6.3" fill="#ff0000"/>
<rect x="554.31" y="158.35" width="6.3" height="6.3" fill="#ff0000"/>
<rect x="565.45" y="158.05" width="6.3" height="6.3" fill="#ff0000"/>
<rect x="576.59" y="158.05" width="6.3" height="6.3" fill="#ff0000"/>
<rect x="587.73" y="158.05" width="6.3" height="6.3" fill="#ff0000"/>
<rect x="598.87" y="158.05" width="6.3" height="6.3" fill="#ff0000"/>
<rect x="610.01" y="158.05" width="6.3" height="6.3" fill="#ff0000"/>
<rect x="621.15" y="158.05" width="6.3" height="6.3" fill="#ff0000"/>
<rect x="632.29" y="158.05" width="6.3" height="6.3" fill="#ff0000"/>
<rect x="643.43" y="158.05" width="6.3" height="6.3" fill="#ff0000"/>
<rect x="654.57" y="158.05" width="6.3" height="6.3" fill="#ff0000"/>
</g>
<line x1="508.1" y1="185.1" x2="556" y2="185.1" stroke="#000" stroke-width="1.2" />
<polygon points="554,182.5 560.5,185.1 554,187.7" fill="#000"/>
<text x="565.7" y="189.3" font-size="11.7" text-anchor="start" >2.6 nm</text>
<line x1="502.7" y1="199.8" x2="556" y2="199.8" stroke="#000" stroke-width="1.2" />
<polygon points="554,197.2 560.5,199.8 554,202.4" fill="#000"/>
<text x="565.7" y="204" font-size="11.7" text-anchor="start" >1.8 nm</text>
<line x1="500.4" y1="215.2" x2="556" y2="215.2" stroke="#000" stroke-width="1.2" />
<polygon points="554,212.6 560.5,215.2 554,217.8" fill="#000"/>
<text x="565.7" y="219.4" font-size="11.7" text-anchor="start" >1.5 nm</text>
<line x1="498.1" y1="230.8" x2="556" y2="230.8" stroke="#000" stroke-width="1.2" />
<polygon points="554,228.2 560.5,230.8 554,233.4" fill="#000"/>
<text x="565.7" y="235" font-size="11.7" text-anchor="start" >1.3 nm</text>
<line x1="489.9" y1="245.8" x2="556" y2="245.8" stroke="#000" stroke-width="1.2" />
<polygon points="554,243.2 560.5,245.8 554,248.4" fill="#000"/>
<text x="565.7" y="250" font-size="11.7" text-anchor="start" >0.7 nm</text>
<text x="410.5" y="230.6" font-size="17.5" text-anchor="start" >~50%</text>
<line x1="407.5" y1="36.7" x2="433.8" y2="36.7" stroke="#0000ff" stroke-width="1.4" />
<rect x="417.5" y="33.6" width="6.2" height="6.2" fill="#0000ff"/>
<text x="437.5" y="41" font-size="11.85" text-anchor="start" >Strain+0%</text>
<line x1="407.5" y1="51.3" x2="433.8" y2="51.3" stroke="#7878ff" stroke-width="1.1" />
<rect x="417.5" y="48.2" width="6.2" height="6.2" fill="#8080ff"/>
<text x="437.5" y="55.6" font-size="11.85" text-anchor="start" >Strain+1%</text>
<line x1="407.5" y1="65.8" x2="433.8" y2="65.8" stroke="#808080" stroke-width="1.2" />
<rect x="417.5" y="62.7" width="6.2" height="6.2" fill="#787878"/>
<text x="437.5" y="70.1" font-size="11.85" text-anchor="start" >Strain+2%</text>
<line x1="407.5" y1="80.2" x2="433.8" y2="80.2" stroke="#ff7878" stroke-width="1.1" />
<rect x="417.5" y="77.1" width="6.2" height="6.2" fill="#ff8080"/>
<text x="437.5" y="84.5" font-size="11.85" text-anchor="start" >Strain+3%</text>
<line x1="407.5" y1="94.6" x2="433.8" y2="94.6" stroke="#ff0000" stroke-width="1.4" />
<rect x="417.5" y="91.5" width="6.2" height="6.2" fill="#ff0000"/>
<text x="437.5" y="98.9" font-size="11.85" text-anchor="start" >Strain+4%</text>
<text x="12" y="312.7" font-size="23" text-anchor="start" >C</text>
<defs>
<linearGradient id="arrG" x1="0" y1="325" x2="0" y2="515" gradientUnits="userSpaceOnUse">
<stop offset="0" stop-color="#b0c4e6"/><stop offset="0.35" stop-color="#c6d5ee"/><stop offset="0.7" stop-color="#e2eaf6"/><stop offset="1" stop-color="#ffffff"/></linearGradient>
<radialGradient id="purp" cx="0.45" cy="0.45" r="0.6"><stop offset="0" stop-color="#ffe6ff"/><stop offset="0.3" stop-color="#e070f0"/><stop offset="1" stop-color="#a030c0"/></radialGradient>
<radialGradient id="redb" cx="0.4" cy="0.35" r="0.65"><stop offset="0" stop-color="#ff9a9a"/><stop offset="0.35" stop-color="#ee1010"/><stop offset="1" stop-color="#a00000"/></radialGradient>
<radialGradient id="lpshadow" cx="0.5" cy="0.5" r="0.5"><stop offset="0.6" stop-color="#8898b0" stop-opacity="0.35"/><stop offset="1" stop-color="#8898b0" stop-opacity="0"/></radialGradient>
</defs>
<polygon points="178.3,324.9 235.4,381 207,381 207,515 150,515 150,381 121.1,381" fill="url(#arrG)"/>
<text x="157" y="369.6" font-size="18" text-anchor="start" >Strain</text>
<line x1="48.6" y1="557.8" x2="48.6" y2="331" stroke="#000" stroke-width="1.5" />
<polygon points="48.6,324.8 44.6,333 52.6,333" fill="#000"/>
<line x1="48.6" y1="557.8" x2="314" y2="557.8" stroke="#000" stroke-width="1.5" />
<polygon points="321,557.8 313,553.8 313,561.8" fill="#000"/>
<text x="15.4" y="353.3" font-size="15" font-style="italic">U(θ)</text>
<text x="250.1" y="576.4" font-size="15">Angle <tspan font-style="italic">(θ)</tspan></text>
<polyline points="53.6,547.6 55.1,547.0 56.6,546.4 58.1,545.9 59.6,545.3 61.1,544.6 62.6,544.0 64.1,543.3 65.6,542.7 67.1,542.0 68.6,541.2 70.1,540.5 71.6,539.7 73.1,538.9 74.6,538.1 76.1,537.3 77.6,536.4 79.1,535.5 80.6,534.6 82.1,533.7 83.6,532.7 85.1,531.7 86.6,530.7 88.1,529.6 89.6,528.5 91.1,527.4 92.6,526.2 94.1,525.0 95.6,523.7 97.1,522.4 98.6,521.1 100.1,519.7 101.6,518.3 103.1,516.8 104.6,515.3 106.1,513.7 107.6,512.1 109.1,510.5 110.6,508.8 112.1,507.0 113.6,505.2 115.1,503.3 116.6,501.4 118.1,499.4 119.6,497.3 121.1,495.2 122.6,493.0 124.1,490.8 125.6,488.5 127.1,486.2 128.6,483.8 130.1,481.3 131.6,478.8 133.1,476.3 134.6,473.6 136.1,471.0 137.6,468.3 139.1,465.5 140.6,462.7 142.1,459.9 143.6,457.1 145.1,454.2 146.6,451.4 148.1,448.5 149.6,445.7 151.1,442.8 152.6,440.0 154.1,437.3 155.6,434.6 157.1,432.0 158.6,429.4 160.1,427.0 161.6,424.7 163.1,422.5 164.6,420.4 166.1,418.5 167.6,416.8 169.1,415.3 170.6,414.0 172.1,412.8 173.6,411.9 175.1,411.2 176.6,410.8 178.1,410.5 179.6,410.5 181.1,410.8 182.6,411.3 184.1,412.0 185.6,412.9 187.1,414.0 188.6,415.4 190.1,416.9 191.6,418.7 193.1,420.6 194.6,422.6 196.1,424.8 197.6,427.2 199.1,429.6 200.6,432.1 202.1,434.8 203.6,437.5 205.1,440.2 206.6,443.0 208.1,445.9 209.6,448.7 211.1,451.6 212.6,454.4 214.1,457.3 215.6,460.1 217.1,462.9 218.6,465.7 220.1,468.5 221.6,471.2 223.1,473.8 224.6,476.4 226.1,479.0 227.6,481.5 229.1,484.0 230.6,486.4 232.1,488.7 233.6,491.0 235.1,493.2 236.6,495.4 238.1,497.5 239.6,499.5 241.1,501.5 242.6,503.4 244.1,505.3 245.6,507.1 247.1,508.9 248.6,510.6 250.1,512.2 251.6,513.8 253.1,515.4 254.6,516.9 256.1,518.4 257.6,519.8 259.1,521.2 260.6,522.5 262.1,523.8 263.6,525.0 265.1,526.3 266.6,527.4 268.1,528.6 269.6,529.7 271.1,530.7 272.6,531.8 274.1,532.8 275.6,533.8 277.1,534.7 278.6,535.6 280.1,536.5 281.6,537.4 283.1,538.2 284.6,539.0 286.1,539.8 287.6,540.5 289.1,541.3 290.6,542.0 292.1,542.7 293.6,543.4 295.1,544.0 296.6,544.7 298.1,545.3 299.6,545.9 301.1,546.5 302.6,547.1" fill="none" stroke="#ff0000" stroke-width="1.4"/>
<line x1="178.4" y1="414" x2="178.4" y2="557.8" stroke="#000" stroke-width="1.4" stroke-dasharray="4,3"/>
<line x1="195.5" y1="462" x2="195.5" y2="557.8" stroke="#f4b183" stroke-width="1" stroke-dasharray="3,2"/>
<circle cx="195.5" cy="557.8" r="1.6" fill="#000"/>
<line x1="201.3" y1="462" x2="201.3" y2="557.8" stroke="#e59560" stroke-width="1" stroke-dasharray="3,2"/>
<circle cx="201.3" cy="557.8" r="1.6" fill="#000"/>
<line x1="204.6" y1="462" x2="204.6" y2="557.8" stroke="#c8743c" stroke-width="1" stroke-dasharray="3,2"/>
<circle cx="204.6" cy="557.8" r="1.6" fill="#000"/>
<line x1="208.3" y1="462" x2="208.3" y2="557.8" stroke="#b06020" stroke-width="1" stroke-dasharray="3,2"/>
<circle cx="208.3" cy="557.8" r="1.6" fill="#000"/>
<polyline points="194.8,520.6 242.7,520.6 242.7,533" fill="none" stroke="#000" stroke-width="1.3" stroke-dasharray="4,3"/>
<polygon points="238.7,532.5 246.7,532.5 242.7,539.5" fill="#000"/>
<line x1="179.2" y1="407" x2="149.9" y2="452.9" stroke="#9c5a24" stroke-width="0.9" />
<line x1="179.2" y1="407" x2="152.8" y2="455.5" stroke="#9c5a24" stroke-width="0.9" />
<line x1="179.2" y1="407" x2="156.4" y2="458.2" stroke="#9c5a24" stroke-width="0.9" />
<line x1="179.2" y1="407" x2="161.6" y2="461.5" stroke="#9c5a24" stroke-width="0.9" />
<line x1="179.2" y1="407" x2="207.7" y2="452.5" stroke="#9c5a24" stroke-width="0.9" />
<line x1="179.2" y1="407" x2="204.2" y2="455.2" stroke="#9c5a24" stroke-width="0.9" />
<line x1="179.2" y1="407" x2="200.1" y2="458.5" stroke="#9c5a24" stroke-width="0.9" />
<line x1="179.2" y1="407" x2="195" y2="461.8" stroke="#9c5a24" stroke-width="0.9" />
<line x1="179.2" y1="407" x2="154.9" y2="451.9" stroke="#f4b183" stroke-width="0.8" />
<line x1="179.2" y1="407" x2="157.8" y2="454.5" stroke="#f4b183" stroke-width="0.8" />
<line x1="179.2" y1="407" x2="161.4" y2="457.2" stroke="#f4b183" stroke-width="0.8" />
<line x1="179.2" y1="407" x2="166.6" y2="460.5" stroke="#f4b183" stroke-width="0.8" />
<line x1="179.2" y1="407" x2="202.7" y2="451.5" stroke="#f4b183" stroke-width="0.8" />
<line x1="179.2" y1="407" x2="199.2" y2="454.2" stroke="#f4b183" stroke-width="0.8" />
<line x1="179.2" y1="407" x2="195.1" y2="457.5" stroke="#f4b183" stroke-width="0.8" />
<line x1="179.2" y1="407" x2="190" y2="460.8" stroke="#f4b183" stroke-width="0.8" />
<circle cx="149.9" cy="452.9" r="4.6" fill="url(#redb)"/>
<circle cx="152.8" cy="455.5" r="4.6" fill="url(#redb)"/>
<circle cx="156.4" cy="458.2" r="4.6" fill="url(#redb)"/>
<circle cx="161.6" cy="461.5" r="4.6" fill="url(#redb)"/>
<circle cx="207.7" cy="452.5" r="4.6" fill="url(#redb)"/>
<circle cx="204.2" cy="455.2" r="4.6" fill="url(#redb)"/>
<circle cx="200.1" cy="458.5" r="4.6" fill="url(#redb)"/>
<circle cx="195" cy="461.8" r="4.6" fill="url(#redb)"/>
<path d="M164.5,432.3 Q178,440 192.6,433" fill="none" stroke="#000" stroke-width="1" stroke-dasharray="3,1.5,1,1.5"/>
<text x="182.5" y="449.5" font-size="10.5" font-style="italic">θ</text>
<circle cx="196.6" cy="425.3" r="1.6" fill="#000"/>
<circle cx="201" cy="432" r="1.6" fill="#000"/>
<circle cx="204.9" cy="439" r="1.6" fill="#000"/>
<circle cx="208.3" cy="444.8" r="1.6" fill="#000"/>
<ellipse cx="180" cy="388" rx="15" ry="17" fill="url(#lpshadow)"/>
<path d="M179.3,400 C172.10000000000002,393 167.3,381.7 169.70000000000002,375.7 C173.3,371.2 185.3,371.2 188.9,375.7 C191.3,381.7 186.5,393 179.3,400" fill="none" stroke="#f4b183" stroke-width="1.1" stroke-dasharray="1.2,1.2"/>
<path d="M179.3,400 C173.3,393 169.3,386.5 171.3,380.5 C174.3,376.0 184.3,376.0 187.3,380.5 C189.3,386.5 185.3,393 179.3,400" fill="none" stroke="#d98040" stroke-width="1.2" stroke-dasharray="1.2,1.0"/>
<path d="M179.3,400 C174.8,393 171.8,390.5 173.3,384.5 C175.55,380.0 183.05,380.0 185.3,384.5 C186.8,390.5 183.8,393 179.3,400" fill="none" stroke="#b06020" stroke-width="1.1" stroke-dasharray="1.2,1.0"/>
<circle cx="176.8" cy="385.1" r="1.4" fill="#000"/><circle cx="181.5" cy="385.1" r="1.4" fill="#000"/>
<circle cx="179.3" cy="405.9" r="6.4" fill="url(#purp)"/>
<text x="195.3" y="396.4" font-size="12.7" text-anchor="start" >Lone pair</text>
<text x="68.2" y="439" font-size="14" text-anchor="start" >BiCuSeO</text>
<text x="81" y="553.3" font-size="13" text-anchor="start" fill="#ff0000" style="fill:#ff0000">Anharmonicity</text>
<text x="217.1" y="553.3" font-size="12.8" text-anchor="start" >Tensile strain</text>
<text x="349.8" y="312.3" font-size="23" text-anchor="start" >D</text>
<defs><clipPath id="clipmD"><rect x="392.45" y="309.35" width="276.2" height="243.69999999999993"/></clipPath><marker id="mD0" markerWidth="10" markerHeight="10" refX="0" refY="0" viewBox="-5 -5 10 10" markerUnits="userSpaceOnUse" overflow="visible"><path d="M-3,-3L3,3M-3,3L3,-3M0,-2.85V2.85M-2.85,0H2.85" stroke="#0000ff" stroke-width="0.75" fill="none"/></marker><marker id="mD1" markerWidth="10" markerHeight="10" refX="0" refY="0" viewBox="-5 -5 10 10" markerUnits="userSpaceOnUse" overflow="visible"><path d="M-3,-3L3,3M-3,3L3,-3M0,-2.85V2.85M-2.85,0H2.85" stroke="#7a7aff" stroke-width="0.75" fill="none"/></marker><marker id="mD2" markerWidth="10" markerHeight="10" refX="0" refY="0" viewBox="-5 -5 10 10" markerUnits="userSpaceOnUse" overflow="visible"><path d="M-3,-3L3,3M-3,3L3,-3M0,-2.85V2.85M-2.85,0H2.85" stroke="#808080" stroke-width="0.75" fill="none"/></marker><marker id="mD3" markerWidth="10" markerHeight="10" refX="0" refY="0" viewBox="-5 -5 10 10" markerUnits="userSpaceOnUse" overflow="visible"><path d="M-3,-3L3,3M-3,3L3,-3M0,-2.85V2.85M-2.85,0H2.85" stroke="#ff8080" stroke-width="0.75" fill="none"/></marker><marker id="mD4" markerWidth="10" markerHeight="10" refX="0" refY="0" viewBox="-5 -5 10 10" markerUnits="userSpaceOnUse" overflow="visible"><path d="M-3,-3L3,3M-3,3L3,-3M0,-2.85V2.85M-2.85,0H2.85" stroke="#ff0000" stroke-width="0.75" fill="none"/></marker></defs>
<g clip-path="url(#clipmD)">
<polygon points="502.7,431.7 502.8,432.1 503.4,435.1 503.8,439.0 505.8,442.2 509.2,445.3 513.1,445.8 516.7,446.4 520.5,445.8 523.9,444.4 526.9,443.7 530.1,443.5 532.8,444.0 535.4,444.9 538.1,446.5 541.2,448.1 544.9,448.5 547.9,448.2 550.8,448.6 554.1,448.6 556.9,448.2 559.2,449.0 562.2,450.5 565.6,451.1 568.9,451.3 572.0,451.1 574.7,451.4 577.6,452.2 580.6,452.6 583.5,453.6 586.9,454.2 590.1,453.6 592.6,453.8 595.6,455.0 599.3,454.8 602.4,453.7 605.0,453.5 607.2,454.5 610.1,456.6 613.8,457.2 616.6,457.1 619.4,458.5 623.3,459.3 624.2,458.8 624.3,459.5 624.6,462.7 625.3,465.7 625.1,468.4 624.7,469.5 623.0,469.4 620.1,469.6 616.9,469.2 613.6,469.1 610.2,468.5 606.5,468.5 603.0,469.4 600.0,469.6 597.2,469.3 594.3,468.8 591.2,468.2 588.0,468.0 585.1,468.0 582.4,467.4 579.3,466.4 576.1,466.3 573.3,466.2 570.5,465.3 567.2,464.7 564.0,464.4 560.9,464.0 557.6,463.9 554.4,463.9 551.1,464.0 548.1,464.2 545.1,463.8 541.9,463.7 539.1,463.2 536.0,462.0 532.7,461.8 529.8,461.3 526.6,460.3 523.1,460.2 520.2,460.3 517.1,459.3 513.6,458.0 509.8,457.3 506.3,457.1 503.2,455.4 502.9,452.7 502.9,449.2 503.6,446.1 503.6,442.7 503.7,439.7 504.3,436.6 504.3,433.0 503.2,430.1" fill="#0000ff"/>
<polygon points="483.8,394.1 486.7,394.5 486.7,445.9 485.4,459.2 479.6,459.2 477.9,446.4 482.8,437.5" fill="#0000ff"/>
<polyline points="425,505 434,499 428,506 411,452 413,481 413,451 407,440 423,502 413,503 431,490 428,504 435,464 414,455 439,451 426,494 433,510 420,494 434,473 409,484 413,452 417,508 410,447 436,475 435,499 435,473 435,492 412,461 426,494 429,500 433,479 410,433 437,471 436,437 409,433 433,479 415,506 412,461 439,459 416,501 419,495 442,436 418,505 421,507 431,502 435,453 436,474 418,484 415,502 429,500 436,449 409,434 442,455 422,504 432,487 416,503 441,455 433,504 415,486 418,507 433,506 409,447 443,440 414,505 421,493 439,451 409,455 421,503 423,492 442,432 414,485 408,464 419,510 410,458 434,452 436,495 413,499 425,492 408,436 443,444 440,453 417,488 407,440 413,479 419,507 423,492 422,499 432,502 410,471 427,504 411,457 443,446 422,495 435,501 408,465 412,451 410,452 435,488 435,492 426,507 409,442 442,434 426,503 413,505 433,501 413,489 411,461 429,499 421,487 432,510 427,501 410,473 416,501 408,461 409,488 436,454 436,453 420,485 434,495 437,461 436,506 436,439 441,440 416,502 433,510 425,495 434,496 434,472 434,484 409,468 421,492 431,493 408,449 424,487 426,490 420,494 417,506 434,458 411,473 410,489 434,489 442,458 421,499 427,485 436,474 413,495 412,454 441,430 434,495 435,451 414,473 422,489 434,458 412,469 442,451 435,499 410,449 433,504 414,475 437,446 426,509 408,463 413,488 443,460 411,466 439,460 423,506 415,478 422,486 407,449 415,484 415,490 412,488 439,442 412,494 416,488 413,500 430,488 433,500 414,479 424,499 428,497 433,495 433,504 420,510 435,472 420,497 427,487 439,448 426,509 432,489 431,489 409,437 432,489 434,468 432,505 409,465 442,452 407,446 430,505 409,488 434,496 425,505 413,497 412,490 422,489 434,493 423,500 430,501 433,503 428,490 414,485 417,485 437,454 410,491 429,501 441,460 414,480 411,472 440,457 437,450 428,498 425,506 432,507 432,510 430,486 415,505 412,452 439,456 434,464 439,440 413,457 419,501 438,441 439,461 414,487 435,448 438,440 442,456 441,433 414,494 411,481 416,492 430,497 439,461 422,505 437,441 424,510 409,460 428,504 411,468 410,463 415,481 407,442 440,430 418,487 441,452 409,446 431,496 439,460 435,484 436,455 426,508 442,439 423,502 433,446 420,506 433,461 429,499 427,492 441,450 423,489 407,437 427,493 431,491 437,439 435,442 429,507 419,501 430,507 426,506 419,498 426,490 411,493 413,480 410,433 424,494 421,507 417,487 414,496 411,465 412,481 440,442 408,438 411,489 415,503 434,447 436,493 444,450 435,494 434,491 409,443 434,476 443,442 418,499 420,492 428,486 413,476 409,435 414,480 411,457 431,505 414,473 413,489 439,439 421,494 424,509 437,450 433,493 420,499 411,459 424,497 434,450 413,484 420,486 433,493 435,506 428,491 411,490 441,462 434,491 426,498 414,492 433,447 440,447 410,440 415,500 427,507 429,487 419,486 435,459 409,441 435,464 443,441 421,488 423,498 409,456 442,434 430,497 435,508 419,485 409,449 438,450 434,486 437,438 427,505 437,443 409,458 443,444 435,503 438,454 419,501 411,483 422,497 409,465 423,503 436,473 413,497 441,433 436,493 426,500 413,478 429,499 415,499 421,488 413,483 420,503 435,499 416,489 419,499 411,457 412,450 414,478 412,484 442,442 408,459 433,475 434,510 423,509 430,504 419,509 440,459 436,445 434,447 417,502 443,461 413,493 422,494 438,460 434,453 425,490 433,444 431,497 438,442 436,445 408,468 439,449 425,500 427,493 433,464 434,456 409,437 409,438 417,490 424,505 424,499 409,451 438,458 433,477 417,502 442,439 466,442 441,445 471,457 479,456 453,457 439,456 461,456 439,452 459,454 472,452 436,447 475,462 452,441 466,440 436,442 450,453 478,437 460,453 464,448 478,449 471,443 439,451 470,449 447,439 472,447 479,416 465,441 438,435 467,460 438,440 478,464 455,451 480,443 481,435 441,457 460,441 439,438 438,442 481,455 440,442 469,445 447,436 454,440 471,457 452,453 481,446 476,464 436,455 466,455 460,445 447,457 481,449 456,435 438,427 478,451 455,442 481,441 472,463 465,450 445,447 469,444 458,435 476,457 435,439 480,434 467,461 437,439 446,453 480,454 465,445 460,455 437,439 441,453 463,445 480,415 464,453 438,453 465,453 456,436 452,455 450,454 479,436 460,441 465,452 462,441 446,441 438,448 459,442 476,447 480,450 479,418 479,456 482,454 454,441 461,443 464,453 453,450 460,439 448,433 436,433 462,450 460,454 467,439 472,464 446,448 456,437 446,450 443,436 448,449 470,466 482,435 469,454 438,446 436,453 474,466 454,435 474,466 471,451 475,463 481,441 473,449 467,439 439,458 462,457 459,438 458,453 478,464 452,436 470,452 477,452 445,439 458,437 482,447 443,455 453,445 462,453 449,449 452,455 459,448 460,448 475,461 454,452 451,435 462,447 449,454 466,437 447,453 452,453 461,444 468,442 482,446 478,445 435,446 455,444 453,447 452,449 463,452 480,450 442,434 479,454 466,444 459,448 459,434 454,450 482,431 456,434 463,455 440,439 444,448 477,456 454,437 444,437 468,440 474,452 447,445 462,455 468,438 450,442 463,437 474,451 459,442 462,453 471,446 443,442 457,437 435,441 470,461 466,454 442,452 479,462 482,450 481,435 438,456 453,450 470,448 436,450 455,445 477,461 467,450 466,456 474,447 481,449 480,427 458,440 480,428 478,452 478,453 445,448 440,448 475,459 480,446 471,450 458,458 480,450 443,437 441,438 439,452 440,447 465,442 437,438 460,436 449,437 475,454 438,429 460,454 454,443 471,455 436,450 457,441 471,452 472,451 462,453 468,457 478,455 453,437 463,457 445,441 462,446 454,456 461,450 467,460 475,466 482,434 467,445 454,452 456,451 444,457 478,453 447,434 455,451 455,453 451,443 446,433 439,443 461,434 464,454 468,443 451,450 479,438 470,451 479,435 438,457 447,452 458,436 478,457 453,438 467,447 439,444 452,436 478,455 452,457 456,433 466,450 440,435 451,438 452,450 443,442 468,458 462,446 441,458 466,448 449,454 468,459 478,458 464,438 457,436 437,429 458,444 445,448 471,457 463,459 465,445 455,458 459,438 444,449 475,448 459,450 443,445 460,452 471,460 443,452 453,451 481,436 457,452 470,453 437,444 438,452 474,448 469,449 465,440 481,454 478,467 459,439 453,456 454,438 446,458 456,453 483,450 447,434 438,434 443,442 478,448 440,436 446,457 455,436 449,442 475,443 470,444 458,451 477,440 456,455 457,452 460,453 459,444 446,455 447,451 448,445 462,453 446,447 454,454 464,448 446,449 470,446 453,450 472,450 479,436 446,439 480,432 475,457 466,442 452,451 445,446 474,454 456,437 442,443 480,451 475,463 441,435 461,442 473,460 440,451 447,452 457,444 449,445 440,435 442,442 463,446 478,446 477,464 463,458 461,436 442,438 469,456 478,440 481,432 435,435 461,455 476,443 441,441 442,445 468,445 437,442 452,434 448,450 469,450 461,448 474,460 455,458 437,445 482,452 448,455 479,423 454,455 456,437 478,456 475,465 482,427 480,436 475,449 444,443 457,446 475,466 474,464 482,432 461,435 445,437 439,441 464,458 450,445 466,452 468,449 453,452 439,442 460,442 454,442 436,435 465,436 473,450 440,442 447,453 455,436 468,455 482,429 478,444 459,457 455,446 462,512 469,475 456,462 467,512 457,491 465,514 455,469 462,512 458,478 458,466 460,499 457,464 468,489 458,486 461,514 470,499 464,497 457,494 462,505 464,516 455,465 462,505 466,483 457,461 467,488 463,499 467,482 460,513 459,477 468,501 459,476 458,494 462,516 469,495 469,487 462,499 457,493 468,475 458,507 458,462 458,470 461,493 463,499 469,466 458,458 470,511 461,508 463,514 469,477 458,482 470,486 460,459 460,513 461,505 469,514 468,502 459,485 458,464 458,476 464,501 461,501 464,506 466,504 460,466 465,505 460,508 463,499 468,499 469,485 466,511 462,507 458,467 469,491 458,464 456,489 466,492 470,487 459,503 466,500 458,475 459,478 469,482 461,506 468,513 467,488 461,501 457,510 467,481 467,490 467,497 461,504 458,504 458,479 467,496 460,499 469,489 465,509 460,490 468,464 464,498 460,462 461,495 460,501 459,507 457,493 456,467 465,496 467,486 468,510 469,480 467,479 459,464 458,474 464,516 454,463 462,491 468,461 455,463 460,514 457,477 458,475 457,478 464,491 461,515 464,501 466,510 467,486 470,515 459,460 458,504 459,492 469,496 468,514 458,468 459,513 455,471 469,463 467,465 462,492 463,510 469,489 458,506 467,504 468,487 463,509 459,459 458,479 470,486 464,502 460,473 459,476 456,493 456,470 466,470 468,514 459,506 469,498 465,514 462,510 457,492 454,463 466,503 468,490 467,505 464,507 458,479 457,464 469,477 465,506 457,490 458,468 457,505 470,483 457,468 459,480 469,489 462,495 459,492 456,457 467,509 458,480 461,492 457,471 456,471 457,488 463,506 458,495 460,488 467,503 467,483 584,466 611,460 575,459 557,451 584,455 516,446 521,458 624,464 605,468 517,456 623,462 509,448 527,444 600,455 591,468 523,447 573,465 598,458 543,449 546,450 589,455 503,448 617,460 514,449 540,460 559,449 588,454 599,468 535,445 602,467 618,466 618,469 571,465 546,463 584,457 541,448 533,451 574,463 624,466 522,459 552,461 614,469 567,462 618,460 583,467 555,451 511,448 601,455 540,449 530,450 578,465 550,461 504,445 567,464 564,454 600,469 609,457 593,455 540,462 585,457 506,456 603,466 517,459 566,462 575,465 592,466 527,446 605,454 519,457 530,451 613,465 504,444 518,449 592,466 612,466 541,460 598,457 583,465 505,446 538,462 539,462 545,450 583,464 567,454 606,466 555,461 596,465 587,456 587,467 572,453 526,446 564,461 552,463 593,457 504,445 514,447 562,452 592,456 521,457 547,451 543,451 618,463 545,461 539,448 540,461 504,453 578,456 617,468 588,466 567,463 504,449 530,460 525,447 508,455 578,464 575,452 550,463 540,451 589,466 540,461 581,456 613,468 611,467 589,466 576,463 582,466 505,446 618,460 529,458 545,462 557,462 619,460 621,460 615,458 592,466 524,445 516,448 540,450 622,463 624,468 582,456 563,453 601,468 516,450 570,451 583,464 597,456 551,455 623,463 584,457 565,453 607,466 596,466 537,461 567,454 616,458 566,462 623,469 593,457 569,462 602,457 546,461 535,461 519,446 514,457 592,464 552,463 563,463 605,456 612,466 568,453 564,452 593,455 614,459 576,454 566,457 576,466 558,463 598,467 573,465 612,468 528,448 578,454 551,464 566,455 622,467 518,458 603,468 595,468 525,445 513,447 524,459 573,453 567,454 621,467 591,467 616,458 512,446 513,448 603,455 538,461 592,467 569,453 565,460 523,445 519,457 561,452 594,463 529,445 550,451 589,457 600,458 600,458 508,448 591,467 521,459 614,458 617,461 511,446 546,449 614,467 591,467 519,459 516,449 596,457 616,460 545,460 587,457 595,455 625,469 602,467 545,464 546,463 621,467 518,458 516,449 521,448 530,446 603,456 603,457 549,462 624,469 609,460 617,466 596,457 516,459 599,455 585,466 525,448 603,454 612,467 519,459 537,462 550,450 562,463 602,454 614,468 573,464 566,461 624,464 623,460 515,448 568,453 504,448 602,469 535,462 624,463 575,452 604,469 588,465 544,462 509,445 508,457 581,464 544,450 604,455 534,461 524,448 579,452 538,449 517,453 621,460 561,462 592,455 510,446 620,459 614,457 621,467 624,463 575,454 515,452 568,465 585,457 604,469 523,454 623,468 519,458 585,457 619,459 546,452 540,461 525,457 538,450 601,467 575,453 622,468 543,462 575,452 562,463 510,454 546,449 504,437 509,446 506,453 571,453 506,443 560,451 613,458 616,467 522,460 599,457 599,467 585,460 602,469 519,446 556,451 558,449 525,446 531,447 531,460 563,461 526,460 589,457 613,467 590,465 518,450 575,465 508,455 533,461 596,466 512,456 519,449 539,449 602,468 569,462 623,468 617,467 544,461 511,447 622,469 506,449 551,450 614,469 615,459 553,450 574,452 580,465 547,461 592,465 541,462 565,451 624,462 569,453 573,465 526,449 515,449 569,451 564,454 524,454 532,459 594,457 618,466 594,468 537,449 614,463 613,466 507,454 507,457 569,454 523,458 545,450 519,449 624,461 547,464 538,447 582,456 600,466 543,452 527,446 597,455 536,445 510,447 605,454 525,459 542,451 522,448 538,446 581,464 552,450 590,467 606,466 565,453 514,449 578,464 518,449 579,455 527,446 520,457 565,463 536,445 621,467 554,461 505,444 569,454 570,464 561,452 505,443 515,448 596,458 521,449 538,462 519,450 553,462 505,447 486,446 484,431 484,450 486,413 482,449 485,407 484,399 484,422 483,455 483,419 487,395 486,420 485,423 483,457 486,438 484,451 480,455 483,439 484,396 482,458 485,441 481,459 484,438 483,421 484,441 478,447 483,453 483,424 484,442 484,402 482,456 485,397 481,451 483,453 485,409 482,449 482,442 484,439 483,439 486,431 478,449 480,444 481,448 486,449 486,417 485,457 487,434 484,411 481,451 483,459 485,444 479,450 486,438 481,451 484,418 485,429 483,458 486,445 481,455 480,445 484,399 486,400 485,435 485,425 481,454 485,452 487,410 484,446 485,403 483,421 484,416 484,423 485,422 486,396 486,415 484,395 483,433 485,397 482,442 486,443 487,443 484,418 486,423 484,413 481,450 483,458 484,422 485,425 485,419 487,439 478,445 486,423 485,422 481,453 485,400 485,414 486,429 483,448 482,456 486,433 485,439 481,459 485,453 484,449 485,452 484,410 484,422 483,435 486,445 484,440 484,443 486,435 482,442 482,459 481,448 486,449 484,447 484,448 486,407 481,459 484,432 481,445 484,430 486,438 484,446 485,449 487,431 485,444 485,435 485,434 484,445 405,485 397,525 397,499 408,495 409,505 402,475 396,511 396,491 399,495 396,527 403,517 400,493 406,518 398,503 403,501 402,503 405,502 406,499 405,471 400,520 402,493 397,476 398,497 396,519 397,494 399,502 403,471 397,499 396,513 398,478 408,484 404,494 396,526 395,497 405,488 403,520 402,512 408,496 401,514 404,480 408,507 400,484 400,513 408,476 399,503 427,377 398,550 402,544 408,539 417,535 423,519 398,524 484,386 560,424 624,430 626,433 635,472 612,466 518,423 440,396" fill="none" stroke="none" marker-start="url(#mD0)" marker-mid="url(#mD0)" marker-end="url(#mD0)"/>
<polygon points="502.7,420.7 502.8,421.1 503.4,424.1 503.8,428.0 505.8,431.2 509.2,434.3 513.1,434.8 516.7,435.4 520.5,434.8 523.9,433.4 526.9,432.7 530.1,432.5 532.8,433.0 535.4,433.9 538.1,435.5 541.2,437.1 544.9,437.5 547.9,437.2 550.8,437.6 554.1,437.6 556.9,437.2 559.2,438.0 562.2,439.5 565.6,440.1 568.9,440.3 572.0,440.1 574.7,440.4 577.6,441.2 580.6,441.6 583.5,442.6 586.9,443.2 590.1,442.6 592.6,442.8 595.6,444.0 599.3,443.8 602.4,442.7 605.0,442.5 607.2,443.5 610.1,445.6 613.8,446.2 616.6,446.1 619.4,447.5 623.3,448.3 624.2,447.8 624.3,448.5 624.6,451.7 625.3,454.7 625.1,457.4 624.7,458.5 623.0,458.4 620.1,458.6 616.9,458.2 613.6,458.1 610.2,457.5 606.5,457.5 603.0,458.4 600.0,458.6 597.2,458.3 594.3,457.8 591.2,457.2 588.0,457.0 585.1,457.0 582.4,456.4 579.3,455.4 576.1,455.3 573.3,455.2 570.5,454.3 567.2,453.7 564.0,453.4 560.9,453.0 557.6,452.9 554.4,452.9 551.1,453.0 548.1,453.2 545.1,452.8 541.9,452.7 539.1,452.2 536.0,451.0 532.7,450.8 529.8,450.3 526.6,449.3 523.1,449.2 520.2,449.3 517.1,448.3 513.6,447.0 509.8,446.3 506.3,446.1 503.2,444.4 502.9,441.7 502.9,438.2 503.6,435.1 503.6,431.7 503.7,428.7 504.3,425.6 504.3,422.0 503.2,419.1" fill="#7a7aff"/>
<polyline points="410,438 436,442 417,484 430,492 420,490 414,473 408,444 410,458 412,450 441,440 416,482 408,431 438,438 443,433 420,493 436,457 410,465 436,403 426,486 433,465 411,462 444,427 415,484 411,448 440,444 421,488 410,455 424,491 442,442 421,493 412,451 421,492 434,463 480,425 457,433 437,424 480,435 469,439 470,444 437,413 479,440 481,417 467,446 452,434 479,451 473,448 458,442 439,437 472,442 468,441 481,421 439,436 448,441 483,434 449,440 474,450 456,452 459,475 456,474 457,491 460,498 459,453 466,445 457,479 460,478 458,449 466,492 455,452 456,450 456,443 461,498 454,450 467,477 459,491 605,445 509,434 524,437 538,450 553,452 522,446 602,458 609,446 504,436 530,435 508,435 549,451 575,443 562,453 526,447 545,439 595,446 508,435 522,435 586,454 614,455 538,450 605,443 567,452 552,440 618,458 522,437 534,435 530,436 549,441 572,454 618,458 503,441 554,450 594,445 567,452 538,439 571,443 556,451 596,446 513,445 621,455 575,443 574,452 570,443 544,438 573,454 556,451 573,452 558,452 571,453 539,449 575,443 511,438 533,435 579,442 512,437 544,439 617,447 620,449 589,444 541,438 537,436 617,449 609,457 531,447 533,450 520,435 570,442 620,456 594,445 548,452 593,443 537,448 552,450 521,437 506,443 521,447 559,440 550,440 553,452 536,449 604,443 605,457 573,454 618,450 612,448 505,435 520,435 602,445 545,440 618,458 617,455 568,441 598,447 507,446 598,450 624,456 546,451 511,435 580,444 505,441 611,455 621,458 609,454 548,452 618,455 596,457 583,443 524,436 518,447 622,450 521,441 580,453 576,442 611,455 505,445 584,454 587,447 527,449 621,458 597,451 598,456 574,452 606,444 514,445 541,452 598,447 623,452 550,453 624,457 504,436 616,449 508,446 537,437 591,445 624,452 584,443 599,444 525,445 521,447 551,440 607,454 552,438 604,456 549,441 590,445 606,454 546,438 521,437 504,432 534,449 534,449 522,448 506,437 539,450 540,438 504,422 557,451 535,434 559,451 549,451 587,445 547,438 596,444 609,447 556,439 617,449 544,444 505,443 561,442 527,435 555,452 575,445 565,442 506,439 528,434 548,450 588,446 522,446 538,439 512,445 536,438 609,445 542,452 575,449 573,455 594,456 617,456 528,447 578,443 593,446 545,450 515,446 577,441 562,452 595,457 550,446 553,439 506,432 511,443 530,437 583,455 549,453 598,447 567,453 570,451 521,438 614,449 518,437 551,439 581,455 579,454 593,456 514,447 613,448 623,457 623,453 624,457 540,451 543,452 506,439 527,442 525,446 529,448 559,451 599,446 516,436 535,434 576,453 610,455 506,433 568,443 611,449 617,447 559,451 578,443 575,443 573,447 616,457 522,448 554,439 623,457 588,455 524,434 612,456 587,456 544,441 547,451 507,437 522,449 537,436 568,453 571,442 579,455 557,448 567,441 515,445 506,440 557,438 607,447 586,445 534,436 610,448 574,441 581,444 615,456 537,435 590,457 537,448 609,446 548,438 601,446 527,448 503,443 613,458 546,438 510,437 557,450 584,454 624,454 591,456 571,443 600,458 580,442 504,429 537,451 535,450 551,440 528,435 605,446 527,434 617,447 551,442 587,455 619,457 576,452 518,436 542,452 561,440 506,444 538,449 515,446 572,442 543,438 578,444 506,440 541,440 574,441 534,435 616,458 565,441 599,456 506,442 591,456 604,444 547,437 542,452 531,441 573,440 534,447 601,458 533,434 578,454 578,449 608,444 519,448 587,454 506,444 517,437 614,456 538,445 621,448 546,439 520,447 553,438 567,442 558,439 608,448 607,444 594,446 610,457 567,452 564,452 547,439 623,449 541,450 576,454 617,449 582,454 514,437 525,433 617,448 621,449 619,448 534,450 580,455 581,442 568,441 505,442 594,446 533,450 559,440 614,447 572,454 504,424 567,450 520,435 576,443 561,451 562,452 619,458 617,457 561,448 523,437 601,456 528,447 539,452 507,445 559,441 549,450 564,451 609,448 540,440 586,455 614,457 530,434 592,457 532,448 554,445 565,453 595,445 620,449 506,440 624,448 623,457 550,440 518,448 545,450 504,423 532,434 514,437 541,440 516,445 602,458 572,443 564,451 505,441 565,440 609,446 605,456 522,435 605,444 545,451 578,445 510,436 537,450 622,456 607,447 568,440 610,447 576,449 637,460 628,427" fill="none" stroke="none" marker-start="url(#mD1)" marker-mid="url(#mD1)" marker-end="url(#mD1)"/>
<polygon points="502.7,422.7 502.8,423.1 503.4,426.1 503.8,430.0 505.8,433.2 509.2,436.3 513.1,436.8 516.7,437.4 520.5,436.8 523.9,435.4 526.9,434.7 530.1,434.5 532.8,435.0 535.4,435.9 538.1,437.5 541.2,439.1 544.9,439.5 547.9,439.2 550.8,439.6 554.1,439.6 556.9,439.2 559.2,440.0 562.2,441.5 565.6,442.1 568.9,442.3 572.0,442.1 574.7,442.4 577.6,443.2 580.6,443.6 583.5,444.6 586.9,445.2 590.1,444.6 592.6,444.8 595.6,446.0 599.3,445.8 602.4,444.7 605.0,444.5 607.2,445.5 610.1,447.6 613.8,448.2 616.6,448.1 619.4,449.5 623.3,450.3 624.2,449.8 624.3,450.5 624.6,453.7 625.3,456.7 625.1,459.4 624.7,460.5 623.0,460.4 620.1,460.6 616.9,460.2 613.6,460.1 610.2,459.5 606.5,459.5 603.0,460.4 600.0,460.6 597.2,460.3 594.3,459.8 591.2,459.2 588.0,459.0 585.1,459.0 582.4,458.4 579.3,457.4 576.1,457.3 573.3,457.2 570.5,456.3 567.2,455.7 564.0,455.4 560.9,455.0 557.6,454.9 554.4,454.9 551.1,455.0 548.1,455.2 545.1,454.8 541.9,454.7 539.1,454.2 536.0,453.0 532.7,452.8 529.8,452.3 526.6,451.3 523.1,451.2 520.2,451.3 517.1,450.3 513.6,449.0 509.8,448.3 506.3,448.1 503.2,446.4 502.9,443.7 502.9,440.2 503.6,437.1 503.6,433.7 503.7,430.7 504.3,427.6 504.3,424.0 503.2,421.1" fill="#808080"/>
<polyline points="415,487 436,440 421,488 420,490 409,448 432,493 414,483 433,486 409,434 436,443 436,478 434,455 433,494 409,437 415,475 415,480 438,447 408,444 415,483 435,467 435,457 413,457 421,486 438,438 413,473 434,491 441,447 409,424 442,430 411,453 433,466 412,487 416,489 442,418 436,401 414,476 411,474 435,481 430,494 434,454 432,488 435,475 433,481 414,491 410,437 438,447 428,490 423,488 434,493 418,487 435,496 433,464 443,426 445,431 412,474 454,436 448,438 457,441 446,441 445,435 483,418 467,440 465,442 479,417 461,434 460,436 435,428 446,441 441,438 479,447 482,440 445,436 480,444 451,443 453,436 473,443 482,416 438,432 446,440 438,417 466,440 476,451 437,438 447,437 482,421 465,438 477,400 453,438 442,437 446,442 477,398 446,435 458,439 441,438 456,453 469,479 458,481 468,501 468,469 469,478 467,483 456,477 469,494 460,464 460,458 457,447 460,492 468,470 468,488 469,464 458,487 466,453 464,497 461,494 459,457 460,492 467,453 468,502 459,490 466,480 469,462 535,452 554,441 600,457 583,458 585,445 571,444 562,453 519,448 530,451 518,449 580,446 588,448 594,446 565,445 542,441 619,451 562,442 514,446 561,453 519,438 511,448 546,455 598,446 566,453 510,439 612,459 602,445 599,449 555,452 525,435 511,438 583,458 624,454 514,446 547,442 582,446 538,450 506,445 571,456 523,438 611,449 596,458 517,449 594,459 512,438 545,442 595,447 579,456 598,457 607,448 524,450 513,445 607,447 534,436 609,458 563,444 528,436 608,459 505,432 581,446 616,450 525,449 503,423 506,448 551,454 544,454 541,441 606,448 511,447 610,449 616,458 587,459 607,447 575,445 618,452 616,451 504,438 603,460 578,447 556,442 612,449 618,449 549,452 610,450 559,453 559,452 552,440 566,454 575,454 624,452 613,459 568,455 550,451 532,437 539,454 544,443 587,447 592,445 508,445 599,460 611,458 590,457 505,437 569,452 607,446 566,445 519,438 541,454 593,459 503,422 547,455 506,444 580,456 538,440 624,453 619,451 619,452 617,452 598,447 521,450 574,445 582,444 582,446 605,445 589,456 550,453 532,452 622,452 600,449 522,449 557,455 590,448 605,446 515,439 611,449 534,451 521,439 582,446 616,459 531,435 597,459 603,451 615,449 612,458 513,447 593,446 621,452 561,454 532,449 558,440 527,437 504,431 548,440 540,439 540,441 581,445 559,454 544,442 517,441 576,455 540,439 530,436 539,452 539,454 504,441 507,447 525,437 528,451 583,446 516,438 570,453 503,443 619,450 540,442 597,449 612,448 620,451 513,440 575,457 583,458 587,447 507,445 623,452 540,451 573,445 529,448 519,447 554,443 520,450 584,445 568,453 580,455 513,437 522,437 574,454 575,457 532,435 612,450 616,457 573,453 524,436 539,439 546,453 564,443 512,447 506,448 525,438 542,442 580,447 603,457 542,452 516,439 556,452 605,460 504,441 506,436 578,444 599,460 616,450 555,440 544,452 586,456 537,440 597,449 503,443 575,443 557,441 515,448 533,436 544,454 580,444 541,452 533,452 526,438 593,447 570,443 562,453 504,442 547,442 567,455 559,454 525,442 520,451 601,448 615,460 561,444 524,438 599,459 587,457 610,458 586,447 535,437 598,449 624,457 563,442 544,442 520,449 560,441 553,453 577,454 518,450 590,448 619,451 623,455 530,436 549,441 506,439 622,452 602,458 547,451 560,441 537,438 557,452 542,452 619,460 600,461 561,443 519,447 622,453 570,455 504,427 519,439 586,458 579,445 607,449 620,451 513,447 528,437 576,445 578,454 599,458 550,442 506,445 546,453 534,438 533,438 565,453 603,446 557,440 568,454 507,435 577,445 566,442 611,448 575,443 552,454 596,447 606,445 511,438 571,445 598,458 506,442 504,437 582,448 537,452 570,445 509,446 531,436 601,447 600,446 539,438 510,439 585,450 623,453 512,437 555,441 541,452 504,424 522,448 551,442 540,453 613,457 519,440 508,435 569,444 579,444 524,449 621,460 520,439 603,446 616,457 579,446 617,459 548,454 518,449 505,441 584,457 568,445 563,453 578,454 586,447 548,442 610,448 526,448 539,440 599,447 594,446 544,442 552,450 595,446 539,439 526,435 619,450 572,455 623,455 559,440 602,455 511,439 523,439 564,444 582,445 559,453 611,449 534,437 591,445 591,459 575,456 592,446 573,455 541,453 598,459 570,455 569,456 573,456 526,446 535,436 623,458 505,445 602,447 598,458 612,448 576,455 611,449 621,458 608,450 581,445 515,447 510,447 605,456 574,445 504,437 572,454 591,458 608,456 594,458 612,459 619,451 525,451 535,451 585,456 538,441 572,444 584,447 612,459 545,442 603,450 553,443 571,445 594,459 560,454 406,484 419,487 425,490 412,484 405,484 432,491 431,492 437,498 438,498 425,494 409,483 419,485 427,497 407,494 433,496 412,487 407,493 434,499 431,497 416,489 440,492 404,446 400,427 399,427 401,499 405,468 396,446 404,479 403,424 403,462 401,456 402,423 403,436 399,458 404,507 401,477 408,474 401,508 424,372 422,376 434,381 437,391 480,380 396,455 636,464 608,452 444,407" fill="none" stroke="none" marker-start="url(#mD2)" marker-mid="url(#mD2)" marker-end="url(#mD2)"/>
<polyline points="436,443 440,405 410,411 443,432 435,390 436,440 412,469 439,404 408,423 413,471 412,408 443,426 411,409 410,462 433,468 433,459 423,486 442,407 412,406 410,445 425,384 421,486 434,486 413,457 412,403 413,407 435,485 409,448 435,439 437,394 409,424 434,465 482,427 465,393 435,419 438,429 467,396 459,405 469,440 436,430 477,391 455,411 479,438 479,406 467,439 461,400 472,400 438,427 438,426 437,403 471,404 441,436 480,419 472,401 481,425 468,487 466,485 469,455 470,441 457,488 463,493 466,446 468,455 461,490 467,479 460,467 470,460 457,454 457,473 467,494 459,454 459,466 464,495 459,472 448,481 451,472 442,469 450,462 447,483 441,473 449,481 450,471 441,460 448,495 446,472 446,494" fill="none" stroke="none" marker-start="url(#mD3)" marker-mid="url(#mD3)" marker-end="url(#mD3)"/>
<polygon points="408.9,444.8 409.1,442.2 409.5,439.0 409.2,436.0 409.5,433.0 409.2,429.8 408.7,426.9 408.9,424.0 408.7,420.9 408.7,417.8 408.5,414.8 408.8,412.4 410.7,409.9 412.8,406.2 412.6,402.2 413.4,399.5 416.5,396.4 419.0,392.9 420.5,389.3 422.0,386.9 424.4,385.9 426.3,384.4 430.4,386.1 433.4,389.0 435.9,391.2 437.2,393.9 436.7,397.4 436.5,402.3 439.6,405.6 441.2,408.4 440.8,411.2 441.3,414.7 442.0,418.1 443.3,421.3 443.7,423.8 442.7,426.5 441.2,430.1 441.4,433.8 441.8,436.7 441.5,438.4 440.0,438.5 436.1,438.1 434.1,442.6 434.3,446.3 435.3,449.2 435.0,451.6 434.0,454.4 432.9,457.8 433.5,461.2 433.9,464.0 433.7,467.2 434.7,470.2 434.4,473.0 433.4,476.5 433.9,480.3 434.2,483.4 433.8,486.2 433.2,487.5 430.6,486.5 426.0,485.9 422.7,486.2 420.6,486.8 418.8,485.2 416.1,482.9 414.0,481.8 413.8,480.0 414.5,476.8 414.2,473.1 412.5,470.0 410.9,467.3 410.1,464.9 410.8,462.2 412.2,458.8 412.9,454.9 411.8,450.9 409.8,447.6" fill="#ff0000"/>
<polygon points="439.3,406.5 439.2,406.4 442.3,409.1 448.1,409.3 451.6,414.7 454.6,410.0 457.0,408.7 460.2,405.8 461.4,402.2 461.9,399.0 464.0,396.1 464.3,394.9 466.4,395.9 467.8,398.1 471.1,403.7 474.6,397.7 476.2,393.5 475.6,392.0 477.6,391.5 478.1,392.8 478.0,395.5 477.0,399.2 478.1,402.8 480.3,406.0 481.2,408.6 481.1,411.4 480.7,414.4 479.8,417.6 479.7,421.4 481.0,424.8 481.5,427.4 480.9,430.2 480.2,433.3 479.3,436.1 477.5,439.0 477.1,442.8 477.2,443.3 476.1,443.1 472.6,443.2 470.5,442.4 468.7,440.0 466.2,437.4 463.1,435.6 459.7,434.6 455.9,434.2 452.6,434.9 449.8,434.6 446.4,434.0 442.9,434.6 440.3,434.8 437.0,433.0 437.2,430.9 437.2,427.4 436.5,424.1 436.2,421.2 436.5,418.2 436.9,415.0 437.1,411.8 437.7,408.9 439.1,405.4" fill="#ff0000"/>
<polygon points="456.3,437.1 458.5,437.5 461.9,438.2 465.1,439.6 468.3,441.1 468.1,442.3 466.0,445.2 465.0,449.2 466.7,452.8 468.1,455.7 469.2,458.4 469.4,460.9 468.8,463.5 467.7,466.5 467.0,470.2 468.4,473.6 468.4,476.0 466.2,479.3 466.7,483.4 467.9,486.6 468.0,489.6 468.1,492.4 467.6,493.6 464.2,492.1 463.6,493.2 461.9,491.7 458.9,489.0 458.2,486.9 458.3,484.4 459.3,481.3 459.6,477.8 458.9,474.3 457.4,471.5 457.1,469.4 458.6,466.6 459.7,462.9 459.2,459.7 458.8,456.9 458.7,453.6 457.5,450.3 456.3,447.6 456.2,444.8 455.6,441.7 455.3,439.3" fill="#ff0000"/>
<polygon points="502.7,412.7 502.8,413.1 503.4,416.1 503.8,420.0 505.8,423.2 509.2,426.3 513.1,426.8 516.7,427.4 520.5,426.8 523.9,425.4 526.9,424.7 530.1,424.5 532.8,425.0 535.4,425.9 538.1,427.5 541.2,429.1 544.9,429.5 547.9,429.2 550.8,429.6 554.1,429.6 556.9,429.2 559.2,430.0 562.2,431.5 565.6,432.1 568.9,432.3 572.0,432.1 574.7,432.4 577.6,433.2 580.6,433.6 583.5,434.6 586.9,435.2 590.1,434.6 592.6,434.8 595.6,436.0 599.3,435.8 602.4,434.7 605.0,434.5 607.2,435.5 610.1,437.6 613.8,438.2 616.6,438.1 619.4,439.5 623.3,440.3 624.2,439.8 624.3,440.5 624.6,443.7 625.3,446.7 625.1,449.4 624.7,450.5 623.0,450.4 620.1,450.6 616.9,450.2 613.6,450.1 610.2,449.5 606.5,449.5 603.0,450.4 600.0,450.6 597.2,450.3 594.3,449.8 591.2,449.2 588.0,449.0 585.1,449.0 582.4,448.4 579.3,447.4 576.1,447.3 573.3,447.2 570.5,446.3 567.2,445.7 564.0,445.4 560.9,445.0 557.6,444.9 554.4,444.9 551.1,445.0 548.1,445.2 545.1,444.8 541.9,444.7 539.1,444.2 536.0,443.0 532.7,442.8 529.8,442.3 526.6,441.3 523.1,441.2 520.2,441.3 517.1,440.3 513.6,439.0 509.8,438.3 506.3,438.1 503.2,436.4 502.9,433.7 502.9,430.2 503.6,427.1 503.6,423.7 503.7,420.7 504.3,417.6 504.3,414.0 503.2,411.1" fill="#ff0000"/>
<polyline points="412,425 410,414 436,398 413,409 425,483 434,398 412,468 439,418 415,461 417,478 417,479 432,452 435,405 440,433 419,475 429,470 410,445 437,407 434,480 437,403 431,467 409,420 414,407 424,485 433,484 441,426 409,418 414,456 414,408 411,412 422,394 430,485 433,449 432,484 421,485 424,425 433,402 415,400 411,439 414,402 436,438 423,483 414,473 414,463 436,395 418,396 439,430 434,451 412,435 435,399 432,390 435,398 410,434 415,399 441,433 439,430 414,455 414,399 443,424 431,442 419,484 433,480 410,428 429,385 415,470 443,426 433,391 412,461 418,400 434,441 417,399 414,400 438,409 412,434 432,470 411,419 417,400 414,449 411,437 420,395 433,487 411,440 412,436 426,404 433,456 429,485 437,396 434,396 436,438 417,480 433,469 432,454 431,456 432,484 420,396 420,485 415,401 409,425 416,473 441,408 413,406 417,473 422,388 410,424 437,395 412,432 433,438 416,475 442,423 413,452 442,422 432,453 424,426 415,451 432,441 430,388 438,438 433,439 439,405 440,419 409,419 438,410 442,422 421,406 441,433 415,459 412,413 432,468 412,427 416,474 429,451 426,410 419,432 434,396 420,396 433,465 415,426 440,426 432,442 438,433 432,452 409,430 413,460 443,424 431,470 418,396 410,431 439,405 423,388 434,391 409,423 413,433 435,395 442,427 433,445 412,467 413,437 440,413 430,404 425,458 412,433 431,455 442,425 433,461 415,482 438,409 439,412 414,400 420,395 414,458 416,472 443,423 415,457 441,423 412,419 433,480 431,453 412,448 433,476 411,431 423,483 433,484 429,386 412,460 413,446 433,482 409,417 431,467 409,412 414,471 420,401 433,444 413,467 416,481 437,408 433,472 440,409 433,454 413,465 412,413 411,462 411,410 432,474 410,420 434,465 439,411 418,395 413,450 441,434 439,427 434,394 421,396 411,438 415,481 424,485 440,409 432,455 411,441 410,435 415,403 412,419 417,471 443,423 428,424 428,462 426,388 432,406 434,405 412,420 415,460 413,462 409,418 440,413 423,486 415,458 410,413 437,394 413,407 441,419 423,483 421,484 409,435 430,386 441,430 416,400 439,428 425,451 409,418 420,397 423,388 441,434 431,465 432,445 433,467 413,446 432,433 417,480 434,397 415,459 420,482 442,418 440,438 414,404 413,406 416,403 411,411 416,469 433,476 440,415 431,455 410,448 415,409 440,433 409,417 436,398 433,396 433,466 413,401 437,393 413,411 427,395 433,466 414,470 440,421 432,450 436,400 427,464 418,483 427,483 411,443 421,485 432,442 410,432 409,421 421,446 411,440 427,483 409,427 427,486 434,453 416,473 441,430 434,398 429,486 437,403 412,449 412,461 413,448 431,461 431,474 435,449 410,429 439,427 442,421 426,388 427,386 412,459 436,397 429,486 433,438 433,476 419,397 434,448 431,481 415,412 426,385 435,435 440,432 416,469 422,392 411,464 416,473 422,395 437,403 417,400 411,421 411,464 442,425 434,450 419,395 428,484 429,484 431,446 422,451 440,407 411,427 436,397 440,421 440,434 418,400 434,437 414,409 434,440 426,484 440,431 412,431 439,408 411,424 443,421 412,444 410,412 431,484 413,466 413,407 413,447 412,466 436,438 413,407 412,410 421,484 429,486 435,436 411,450 429,395 442,435 433,446 410,431 414,457 431,468 412,432 411,442 420,400 425,389 432,451 433,402 440,435 468,401 477,422 446,433 439,422 442,432 457,432 445,410 479,409 469,406 463,405 472,403 462,434 474,401 463,402 475,436 460,409 468,438 455,434 450,417 461,433 455,413 470,436 455,434 448,432 448,412 475,440 442,409 447,431 469,403 454,415 448,411 481,413 463,406 456,433 476,435 455,411 452,418 439,416 479,436 439,421 462,428 477,395 474,408 439,416 439,411 448,413 454,414 470,432 438,427 476,404 478,428 452,416 479,423 476,402 462,433 481,411 475,404 447,434 461,403 475,439 478,422 443,411 437,425 480,424 457,412 467,437 472,441 438,415 466,400 439,420 480,425 475,400 444,422 479,416 475,442 478,423 476,399 455,411 456,413 455,414 477,438 449,415 439,408 463,403 460,428 437,417 467,435 452,420 449,416 463,408 457,421 476,438 437,415 479,421 459,412 472,404 474,440 470,407 439,418 440,415 477,400 454,420 458,409 438,418 452,430 438,419 447,409 473,443 479,428 478,424 471,409 477,432 477,423 462,408 460,408 477,393 440,420 477,420 468,435 472,442 457,422 439,407 456,411 476,402 452,433 439,422 477,396 462,404 476,403 478,421 480,411 448,433 440,412 480,423 466,401 473,402 440,422 440,419 451,416 481,430 459,431 469,439 472,407 439,416 477,419 479,433 443,431 461,408 476,401 477,443 458,409 479,435 479,417 441,411 476,399 439,426 478,403 473,405 446,431 462,408 453,432 466,436 438,414 445,431 450,426 465,403 480,414 455,433 478,424 440,419 478,437 454,411 465,435 479,434 475,406 445,433 444,433 449,416 480,424 445,423 466,397 477,392 445,434 443,425 457,426 454,434 439,420 472,404 479,431 463,406 477,422 437,421 478,416 479,407 453,432 446,433 438,413 455,434 475,403 452,433 442,412 477,417 467,397 466,437 442,411 473,402 463,436 439,417 474,442 452,415 443,433 477,407 438,424 478,432 478,424 479,406 437,427 453,434 459,434 475,399 472,440 478,435 475,404 462,407 439,407 450,414 440,413 445,434 464,433 479,427 449,411 444,411 455,430 476,393 439,407 448,411 472,440 453,416 474,441 451,433 477,395 473,442 470,441 451,433 468,399 466,398 475,438 480,411 476,440 469,410 452,416 468,414 440,426 456,414 463,398 479,423 472,403 460,432 477,397 480,406 479,413 438,411 446,410 443,434 440,426 469,440 467,399 440,426 479,407 471,438 457,410 450,412 475,443 441,410 463,405 462,450 467,464 460,454 465,469 460,440 464,477 467,491 463,440 464,447 461,451 465,491 460,466 464,480 460,452 465,455 463,492 460,449 461,488 458,450 466,476 460,483 460,483 466,467 464,440 465,491 462,463 462,476 466,454 467,466 465,452 457,444 465,490 461,458 469,460 463,480 465,476 468,461 461,449 461,489 461,465 468,460 467,441 465,444 459,442 468,488 466,465 466,455 459,469 459,489 459,482 459,473 456,439 467,488 459,457 460,473 460,464 464,453 461,485 468,474 460,477 459,466 464,481 466,459 461,472 463,492 467,476 460,440 465,450 465,474 462,456 460,452 467,463 463,444 459,468 461,489 468,462 461,472 460,451 468,473 462,463 466,479 459,455 461,440 465,456 460,449 459,450 468,463 461,488 466,481 463,448 464,470 457,440 463,489 460,473 465,479 461,487 465,466 463,469 460,458 458,441 462,448 464,491 460,481 464,469 461,440 459,467 461,452 462,453 469,463 466,489 463,479 466,483 466,459 460,485 468,458 465,456 459,453 458,445 467,490 466,485 464,487 462,455 459,465 462,465 467,488 464,480 460,446 466,489 464,449 463,445 466,490 460,467 464,446 461,475 467,484 461,483 457,442 462,465 458,451 461,483 465,450 461,480 460,438 462,450 460,456 467,442 457,445 461,462 459,445 467,470 461,466 468,464 464,479 467,493 462,489 462,485 461,477 460,466 462,456 456,439 464,445 459,456 467,469 466,483 461,483 465,469 461,464 464,485 460,469 461,454 462,490 461,476 458,452 465,458 461,489 466,490 467,487 465,475 468,490 460,456 461,451 459,453 466,442 459,474 464,484 465,478 462,490 458,472 570,434 560,444 514,427 559,444 594,437 532,426 509,437 505,433 552,443 548,431 525,428 550,442 535,442 583,436 511,428 578,436 596,439 595,448 517,438 511,436 581,447 520,429 581,447 510,435 595,449 622,441 558,431 518,440 564,445 574,434 564,443 538,443 615,449 615,450 503,433 559,431 606,437 556,445 517,430 535,442 612,449 598,449 624,443 571,440 619,440 565,434 544,432 601,448 547,431 531,425 523,438 530,425 550,445 505,425 591,447 604,436 537,442 579,444 586,444 619,440 505,437 575,433 566,433 605,447 613,438 612,441 525,426 548,430 615,441 525,434 577,435 564,435 509,428 525,436 607,446 582,447 570,445 520,441 570,432 575,446 504,432 608,447 560,434 512,429 604,449 569,445 518,430 580,447 519,429 601,448 610,447 570,445 565,445 597,447 554,443 540,430 520,439 593,435 525,440 610,440 533,426 572,435 507,433 602,447 558,442 510,429 514,431 596,437 620,441 550,431 505,423 583,448 589,446 587,438 562,442 544,431 584,446 609,448 545,443 568,445 538,440 564,434 532,442 548,444 597,438 590,445 534,426 593,447 578,446 553,444 590,449 540,430 611,439 562,445 513,427 588,438 593,436 521,440 589,449 609,438 506,427 509,428 552,432 621,442 571,435 510,429 512,437 517,429 604,437 518,440 584,445 604,445 587,446 536,427 529,425 504,427 543,431 619,440 551,443 529,427 510,429 504,430 512,429 511,437 607,447 520,439 525,439 603,437 610,438 540,430 536,440 624,440 532,440 595,437 585,436 548,432 590,446 524,426 581,435 598,438 622,442 588,437 615,449 578,433 624,443 541,431 606,436 616,448 576,434 578,446 504,423 615,441 581,447 555,432 608,438 520,429 608,449 567,442 557,433 560,444 595,439 588,448 544,442 584,435 586,436 541,444 525,428 517,438 522,441 507,437 564,442 518,441 600,436 605,449 504,421 539,430 532,426 614,449 557,430 576,447 589,447 565,444 617,448 530,440 596,437 565,445 522,440 559,432 582,435 566,433 557,430 562,433 505,436 507,426 550,444 594,447 574,434 623,448 623,443 572,434 591,446 557,445 618,449 589,449 598,439 575,433 552,431 506,426 519,440 540,432 533,440 609,439 512,437 504,436 580,446 518,439 552,430 610,447 559,444 578,445 515,430 559,433 539,431 603,437 546,442 602,436 514,427 552,432 571,434 601,438 528,441 531,439 613,449 509,437 610,437 533,429 600,439 546,431 515,430 545,444 577,436 573,444 608,437 579,433 617,450 571,446 504,432 514,429 546,432 582,448 558,430 594,439 503,432 622,441 537,441 516,438 510,429 607,438 512,429 548,443 572,445 531,427 567,445 536,429 597,449 567,432 605,450 621,450 505,431 570,433 530,434 545,433 553,443 512,438 593,446 552,445 557,431 524,428 504,431 606,438 618,448 545,443 584,445 568,433 514,437 610,447 528,439 592,446 503,413 615,441 577,436 534,428 517,428 608,438 509,427 580,445 528,428 524,426 575,447 568,432 512,428 608,440 518,429 551,432 565,435 569,443 569,434 585,447 548,430 534,428 569,435 578,446 608,439 613,446 583,435 579,447 585,435 589,449 535,428 518,429 537,443 549,443 544,443 545,432 504,415 587,437 546,436 505,429 508,436 535,427 616,449 607,448 581,437 614,448 610,448 543,433 616,448 505,425 591,437 524,426 512,438 583,447 530,441 618,447 559,431 551,444 548,429 559,444 609,439 615,449 554,432 504,423 584,447 610,441 543,443 543,442 576,447 624,447 546,441 583,435 534,427 557,432 589,447 505,434 625,446 507,425 619,448 590,449 504,428 577,446 510,436 521,429 572,434 559,431 623,446 539,443 524,429 518,437 580,435 613,449 530,441 405,432 396,441 404,456 405,472 408,496 403,471 403,453 403,451 408,457 404,444 404,446 404,446 406,491 400,478 406,484 400,471 400,503 398,470 397,493 403,424 409,457 409,429 408,450 409,450 406,489 397,482 406,499 407,489 402,459 395,481 397,483 399,431 409,434 405,429 399,462 408,504 402,501 406,472 403,442 406,492 401,486 398,436 405,503 408,442 396,437 397,467 403,470 399,448 408,446 401,448 399,489 398,433 444,464 450,489 442,487 447,467 446,480 448,461 454,474 442,471 450,498 448,471 450,480 444,483 453,489 444,469 441,464 448,495 451,483 454,461 447,455 447,459 445,457 449,480 451,471 456,486 441,488 443,484 444,463 441,459 450,485 446,488 401,372 397,381 400,384 400,421 401,427 397,435 404,436 464,390 474,385 500,407 499,412 498,416 500,422 502,426 499,429 501,433 521,416 520,415 540,424 566,429 577,434 631,456" fill="none" stroke="none" marker-start="url(#mD4)" marker-mid="url(#mD4)" marker-end="url(#mD4)"/>
<path d="M429.9 460.1h1.2v1.2h-1.2zM425.1 411.1h1.2v1.2h-1.2zM427.5 443.5h1.2v1.2h-1.2zM419.2 477.4h1.2v1.2h-1.2zM434.4 402.5h1.2v1.2h-1.2zM429.8 399.3h1.2v1.2h-1.2zM417.0 408.0h1.2v1.2h-1.2zM419.5 481.8h1.2v1.2h-1.2zM427.3 453.8h1.2v1.2h-1.2zM416.9 479.8h1.2v1.2h-1.2zM432.0 482.3h1.2v1.2h-1.2zM438.4 416.3h1.2v1.2h-1.2zM421.8 403.1h1.2v1.2h-1.2zM419.9 446.4h1.2v1.2h-1.2zM421.0 417.4h1.2v1.2h-1.2zM436.0 434.3h1.2v1.2h-1.2zM420.3 434.3h1.2v1.2h-1.2zM432.5 392.4h1.2v1.2h-1.2zM421.9 443.9h1.2v1.2h-1.2zM416.6 461.5h1.2v1.2h-1.2zM421.2 421.8h1.2v1.2h-1.2zM426.9 463.4h1.2v1.2h-1.2zM413.9 460.8h1.2v1.2h-1.2zM413.3 420.4h1.2v1.2h-1.2zM429.5 477.5h1.2v1.2h-1.2zM421.1 478.1h1.2v1.2h-1.2zM427.5 417.6h1.2v1.2h-1.2zM420.4 404.3h1.2v1.2h-1.2zM432.0 485.3h1.2v1.2h-1.2zM423.2 410.2h1.2v1.2h-1.2zM462.6 430.0h1.2v1.2h-1.2zM476.9 425.4h1.2v1.2h-1.2zM459.0 421.7h1.2v1.2h-1.2zM458.8 426.8h1.2v1.2h-1.2zM474.7 408.0h1.2v1.2h-1.2zM448.2 423.1h1.2v1.2h-1.2zM471.3 417.0h1.2v1.2h-1.2zM448.8 417.1h1.2v1.2h-1.2zM468.3 435.2h1.2v1.2h-1.2zM451.1 421.9h1.2v1.2h-1.2zM443.5 430.7h1.2v1.2h-1.2zM458.2 431.7h1.2v1.2h-1.2zM439.5 430.4h1.2v1.2h-1.2zM470.4 435.9h1.2v1.2h-1.2zM438.8 410.1h1.2v1.2h-1.2zM463.6 478.4h1.2v1.2h-1.2zM465.3 489.0h1.2v1.2h-1.2zM464.7 487.9h1.2v1.2h-1.2zM577.2 437.8h1.2v1.2h-1.2zM598.4 446.5h1.2v1.2h-1.2zM591.6 445.6h1.2v1.2h-1.2zM502.2 414.9h1.2v1.2h-1.2zM621.5 443.5h1.2v1.2h-1.2zM566.9 435.0h1.2v1.2h-1.2zM537.6 431.7h1.2v1.2h-1.2zM592.8 442.3h1.2v1.2h-1.2zM524.7 438.4h1.2v1.2h-1.2zM615.0 446.5h1.2v1.2h-1.2zM565.1 439.2h1.2v1.2h-1.2zM598.7 442.9h1.2v1.2h-1.2zM573.7 441.5h1.2v1.2h-1.2zM590.6 446.8h1.2v1.2h-1.2zM578.2 439.8h1.2v1.2h-1.2zM560.6 437.2h1.2v1.2h-1.2zM596.8 443.3h1.2v1.2h-1.2z" fill="#ffb4b4"/>
</g>
<line x1="391.7" y1="308.6" x2="396.7" y2="308.6" stroke="#000" stroke-width="1.2" />
<text x="385" y="314.2" font-size="13" text-anchor="end">10<tspan font-size="9" dy="-5.5">2</tspan></text>
<line x1="391.7" y1="351.45" x2="394.7" y2="351.45" stroke="#000" stroke-width="1" />
<line x1="391.7" y1="340.65" x2="394.7" y2="340.65" stroke="#000" stroke-width="1" />
<line x1="391.7" y1="332.99" x2="394.7" y2="332.99" stroke="#000" stroke-width="1" />
<line x1="391.7" y1="327.05" x2="394.7" y2="327.05" stroke="#000" stroke-width="1" />
<line x1="391.7" y1="322.2" x2="394.7" y2="322.2" stroke="#000" stroke-width="1" />
<line x1="391.7" y1="318.1" x2="394.7" y2="318.1" stroke="#000" stroke-width="1" />
<line x1="391.7" y1="314.54" x2="394.7" y2="314.54" stroke="#000" stroke-width="1" />
<line x1="391.7" y1="311.4" x2="394.7" y2="311.4" stroke="#000" stroke-width="1" />
<line x1="391.7" y1="369.9" x2="396.7" y2="369.9" stroke="#000" stroke-width="1.2" />
<text x="385" y="375.5" font-size="13" text-anchor="end">10<tspan font-size="9" dy="-5.5">1</tspan></text>
<line x1="391.7" y1="412.75" x2="394.7" y2="412.75" stroke="#000" stroke-width="1" />
<line x1="391.7" y1="401.95" x2="394.7" y2="401.95" stroke="#000" stroke-width="1" />
<line x1="391.7" y1="394.29" x2="394.7" y2="394.29" stroke="#000" stroke-width="1" />
<line x1="391.7" y1="388.35" x2="394.7" y2="388.35" stroke="#000" stroke-width="1" />
<line x1="391.7" y1="383.5" x2="394.7" y2="383.5" stroke="#000" stroke-width="1" />
<line x1="391.7" y1="379.4" x2="394.7" y2="379.4" stroke="#000" stroke-width="1" />
<line x1="391.7" y1="375.84" x2="394.7" y2="375.84" stroke="#000" stroke-width="1" />
<line x1="391.7" y1="372.7" x2="394.7" y2="372.7" stroke="#000" stroke-width="1" />
<line x1="391.7" y1="431.2" x2="396.7" y2="431.2" stroke="#000" stroke-width="1.2" />
<text x="385" y="436.8" font-size="13" text-anchor="end">10<tspan font-size="9" dy="-5.5">0</tspan></text>
<line x1="391.7" y1="474.05" x2="394.7" y2="474.05" stroke="#000" stroke-width="1" />
<line x1="391.7" y1="463.25" x2="394.7" y2="463.25" stroke="#000" stroke-width="1" />
<line x1="391.7" y1="455.59" x2="394.7" y2="455.59" stroke="#000" stroke-width="1" />
<line x1="391.7" y1="449.65" x2="394.7" y2="449.65" stroke="#000" stroke-width="1" />
<line x1="391.7" y1="444.8" x2="394.7" y2="444.8" stroke="#000" stroke-width="1" />
<line x1="391.7" y1="440.7" x2="394.7" y2="440.7" stroke="#000" stroke-width="1" />
<line x1="391.7" y1="437.14" x2="394.7" y2="437.14" stroke="#000" stroke-width="1" />
<line x1="391.7" y1="434" x2="394.7" y2="434" stroke="#000" stroke-width="1" />
<line x1="391.7" y1="492.5" x2="396.7" y2="492.5" stroke="#000" stroke-width="1.2" />
<text x="385" y="498.1" font-size="13" text-anchor="end">10<tspan font-size="9" dy="-5.5">-1</tspan></text>
<line x1="391.7" y1="535.35" x2="394.7" y2="535.35" stroke="#000" stroke-width="1" />
<line x1="391.7" y1="524.55" x2="394.7" y2="524.55" stroke="#000" stroke-width="1" />
<line x1="391.7" y1="516.89" x2="394.7" y2="516.89" stroke="#000" stroke-width="1" />
<line x1="391.7" y1="510.95" x2="394.7" y2="510.95" stroke="#000" stroke-width="1" />
<line x1="391.7" y1="506.1" x2="394.7" y2="506.1" stroke="#000" stroke-width="1" />
<line x1="391.7" y1="502" x2="394.7" y2="502" stroke="#000" stroke-width="1" />
<line x1="391.7" y1="498.44" x2="394.7" y2="498.44" stroke="#000" stroke-width="1" />
<line x1="391.7" y1="495.3" x2="394.7" y2="495.3" stroke="#000" stroke-width="1" />
<line x1="391.7" y1="553.8" x2="396.7" y2="553.8" stroke="#000" stroke-width="1.2" />
<text x="385" y="559.4" font-size="13" text-anchor="end">10<tspan font-size="9" dy="-5.5">-2</tspan></text>
<line x1="391.7" y1="553.8" x2="391.7" y2="548.8" stroke="#000" stroke-width="1.2" />
<text x="391.7" y="570.3" font-size="13" text-anchor="middle" >0</text>
<line x1="442.1" y1="553.8" x2="442.1" y2="548.8" stroke="#000" stroke-width="1.2" />
<text x="442.1" y="570.3" font-size="13" text-anchor="middle" >100</text>
<line x1="492.5" y1="553.8" x2="492.5" y2="548.8" stroke="#000" stroke-width="1.2" />
<text x="492.5" y="570.3" font-size="13" text-anchor="middle" >200</text>
<line x1="542.9" y1="553.8" x2="542.9" y2="548.8" stroke="#000" stroke-width="1.2" />
<text x="542.9" y="570.3" font-size="13" text-anchor="middle" >300</text>
<line x1="593.3" y1="553.8" x2="593.3" y2="548.8" stroke="#000" stroke-width="1.2" />
<text x="593.3" y="570.3" font-size="13" text-anchor="middle" >400</text>
<line x1="643.7" y1="553.8" x2="643.7" y2="548.8" stroke="#000" stroke-width="1.2" />
<text x="643.7" y="570.3" font-size="13" text-anchor="middle" >500</text>
<line x1="416.9" y1="553.8" x2="416.9" y2="550.8" stroke="#000" stroke-width="1.2" />
<line x1="467.3" y1="553.8" x2="467.3" y2="550.8" stroke="#000" stroke-width="1.2" />
<line x1="517.7" y1="553.8" x2="517.7" y2="550.8" stroke="#000" stroke-width="1.2" />
<line x1="568.1" y1="553.8" x2="568.1" y2="550.8" stroke="#000" stroke-width="1.2" />
<line x1="618.5" y1="553.8" x2="618.5" y2="550.8" stroke="#000" stroke-width="1.2" />
<line x1="668.9" y1="553.8" x2="668.9" y2="550.8" stroke="#000" stroke-width="1.2" />
<rect x="391.7" y="308.6" width="277.7" height="245.2" fill="none" stroke="#000" stroke-width="1.5"/>
<text x="444.8" y="596.2" font-size="15.5">Phonon frequency (cm<tspan font-size="10" dy="-6">-1</tspan><tspan dy="6">)</tspan></text>
<text transform="translate(356.3,428) rotate(-90)" font-size="15" text-anchor="middle">Anharmonic scattering (ps<tspan font-size="10" dy="-6">-1</tspan><tspan dy="6">)</tspan></text>
<path d="M564.9 333.1l5.8 5.8m0-5.8l-5.8 5.8m2.9 -5.65v5.51m-2.75 -2.75h5.51" fill="none" stroke="#0000ff" stroke-width="0.9"/>
<text x="583.6" y="339.9" font-size="11" text-anchor="start" >Strain+0%</text>
<path d="M564.9 346.9l5.8 5.8m0-5.8l-5.8 5.8m2.9 -5.65v5.51m-2.75 -2.75h5.51" fill="none" stroke="#7a7aff" stroke-width="0.9"/>
<text x="583.6" y="353.7" font-size="11" text-anchor="start" >Strain+1%</text>
<path d="M564.9 360.7l5.8 5.8m0-5.8l-5.8 5.8m2.9 -5.65v5.51m-2.75 -2.75h5.51" fill="none" stroke="#808080" stroke-width="0.9"/>
<text x="583.6" y="367.5" font-size="11" text-anchor="start" >Strain+2%</text>
<path d="M564.9 374.4l5.8 5.8m0-5.8l-5.8 5.8m2.9 -5.65v5.51m-2.75 -2.75h5.51" fill="none" stroke="#ff8080" stroke-width="0.9"/>
<text x="583.6" y="381.2" font-size="11" text-anchor="start" >Strain+3%</text>
<path d="M564.9 388.1l5.8 5.8m0-5.8l-5.8 5.8m2.9 -5.65v5.51m-2.75 -2.75h5.51" fill="none" stroke="#ff0000" stroke-width="0.9"/>
<text x="583.6" y="394.9" font-size="11" text-anchor="start" >Strain+4%</text>
<text x="12" y="591" font-size="23" text-anchor="start" >E</text>
<defs><clipPath id="clipmE"><rect x="48.35" y="613.15" width="273.5" height="240.89999999999998"/></clipPath><marker id="mE0" markerWidth="10" markerHeight="10" refX="0" refY="0" viewBox="-5 -5 10 10" markerUnits="userSpaceOnUse" overflow="visible"><path d="M-3,-3L3,3M-3,3L3,-3M0,-2.85V2.85M-2.85,0H2.85" stroke="#0000ff" stroke-width="0.75" fill="none"/></marker><marker id="mE1" markerWidth="10" markerHeight="10" refX="0" refY="0" viewBox="-5 -5 10 10" markerUnits="userSpaceOnUse" overflow="visible"><path d="M-3,-3L3,3M-3,3L3,-3M0,-2.85V2.85M-2.85,0H2.85" stroke="#7a7aff" stroke-width="0.75" fill="none"/></marker><marker id="mE2" markerWidth="10" markerHeight="10" refX="0" refY="0" viewBox="-5 -5 10 10" markerUnits="userSpaceOnUse" overflow="visible"><path d="M-3,-3L3,3M-3,3L3,-3M0,-2.85V2.85M-2.85,0H2.85" stroke="#808080" stroke-width="0.75" fill="none"/></marker><marker id="mE3" markerWidth="10" markerHeight="10" refX="0" refY="0" viewBox="-5 -5 10 10" markerUnits="userSpaceOnUse" overflow="visible"><path d="M-3,-3L3,3M-3,3L3,-3M0,-2.85V2.85M-2.85,0H2.85" stroke="#ff8080" stroke-width="0.75" fill="none"/></marker><marker id="mE4" markerWidth="10" markerHeight="10" refX="0" refY="0" viewBox="-5 -5 10 10" markerUnits="userSpaceOnUse" overflow="visible"><path d="M-3,-3L3,3M-3,3L3,-3M0,-2.85V2.85M-2.85,0H2.85" stroke="#ff0000" stroke-width="0.75" fill="none"/></marker></defs>
<g clip-path="url(#clipmE)">
<polygon points="154.3,690.7 154.3,690.7 159.2,693.0 164.3,694.6 167.7,696.4 172.3,697.8 176.2,694.8 180.0,694.4 183.8,695.6 187.8,694.6 191.0,692.5 192.9,691.4 195.1,692.4 198.3,693.3 201.3,694.2 204.4,695.1 207.7,695.8 210.7,696.9 213.6,697.9 216.3,699.7 219.5,701.4 222.9,702.1 225.8,703.8 229.1,705.2 232.3,706.7 236.3,708.1 240.6,706.8 243.5,706.0 246.0,707.4 249.8,709.1 253.4,708.6 256.0,709.2 260.0,712.0 264.3,710.8 267.5,709.4 271.3,708.5 275.5,705.2 279.5,705.7 279.8,707.1 279.3,709.6 277.5,712.7 276.3,716.5 277.3,720.3 278.6,723.3 278.8,724.8 276.7,725.4 273.8,726.1 270.8,725.2 266.9,723.7 263.0,723.7 260.1,724.1 256.7,724.3 253.3,726.0 250.9,726.5 248.2,725.7 244.9,725.5 242.3,725.3 239.7,724.1 236.4,722.7 233.1,722.7 230.7,722.3 227.9,720.4 223.9,719.3 220.1,721.6 217.5,723.2 215.6,722.5 212.5,720.7 209.2,720.7 206.4,719.8 203.2,719.2 200.0,719.2 196.5,719.1 193.2,720.5 190.6,720.6 187.8,719.8 184.8,719.2 181.4,717.8 177.7,718.4 174.4,719.3 172.6,718.3 170.3,715.7 167.5,713.8 164.7,712.3 162.2,710.6 159.3,708.5 158.1,708.3 155.1,704.9 153.7,702.4 153.3,699.6 152.5,696.7 152.3,694.5 154.1,691.7" fill="#0000ff"/>
<polygon points="137.1,644.8 140.0,646.1 140.5,699.9 139.4,710.5 135.5,710.3 133.8,702.9" fill="#0000ff"/>
<polyline points="84,742 76,746 67,709 85,758 96,710 88,749 70,757 81,746 74,758 66,708 82,743 74,745 92,735 96,714 92,721 70,752 77,747 67,707 91,757 66,739 92,726 89,748 74,760 70,768 92,706 87,759 80,742 65,763 79,743 87,751 87,753 72,758 89,744 87,743 63,699 71,762 87,742 71,758 84,742 96,706 71,665 76,757 65,758 81,761 67,756 90,728 71,766 66,733 89,751 91,728 89,760 66,755 66,693 95,708 92,721 82,745 88,757 66,729 68,741 81,743 95,705 92,732 92,756 73,765 67,730 65,710 83,758 91,712 72,756 82,763 64,762 72,767 76,746 93,716 66,690 68,750 65,693 66,703 79,764 92,731 63,701 92,671 92,724 95,706 89,749 66,701 80,745 92,726 94,720 68,737 88,750 70,762 66,687 74,760 67,765 67,758 91,725 67,749 73,757 89,741 92,752 82,758 78,758 88,757 67,709 65,735 86,754 77,747 82,758 66,746 73,760 94,682 69,755 87,761 86,746 94,724 66,766 71,747 66,691 69,757 76,760 80,751 78,744 90,746 83,754 63,714 72,746 65,758 66,749 65,705 80,742 94,676 89,739 79,761 93,724 94,710 76,751 76,745 76,760 89,738 66,755 74,743 70,665 82,747 86,759 86,763 65,702 65,704 65,714 64,698 94,721 84,763 72,750 93,702 82,750 75,756 66,736 67,709 68,754 67,701 83,762 64,737 91,751 84,743 95,688 74,663 70,754 65,720 72,761 78,750 81,748 90,740 77,747 92,743 96,704 86,748 66,697 81,763 70,755 67,767 78,764 84,756 93,728 67,751 77,754 67,767 92,730 93,737 71,747 93,682 65,720 71,747 82,758 64,698 76,752 84,757 93,739 78,749 80,762 73,754 73,752 95,702 89,725 78,763 91,752 66,757 66,700 92,730 65,710 70,767 68,703 72,748 88,744 67,711 64,698 67,745 92,672 92,677 68,749 88,737 73,764 85,752 65,689 67,759 86,756 80,758 64,750 65,717 83,764 81,742 93,704 74,749 90,730 65,743 82,760 67,750 74,763 82,760 81,751 67,754 86,760 76,744 66,740 65,749 94,710 73,752 64,736 89,723 73,753 93,678 86,759 65,761 75,745 96,715 71,763 67,762 63,713 81,764 92,735 89,747 71,755 72,755 65,743 90,745 75,746 79,749 70,755 75,761 68,737 67,733 93,739 96,709 72,761 95,715 92,711 69,762 70,746 94,723 95,686 93,678 66,734 80,760 66,714 72,758 82,762 73,751 87,746 88,748 71,759 75,746 84,758 65,732 67,766 90,754 83,762 86,744 87,762 74,760 85,761 89,730 79,763 65,690 67,706 64,737 65,703 74,766 70,754 77,756 72,746 93,709 76,757 70,759 65,723 91,751 88,742 73,747 83,763 75,742 65,693 90,740 91,753 78,748 68,764 78,750 64,735 65,751 75,766 84,753 63,735 92,711 90,756 90,727 65,687 93,716 82,762 78,743 65,742 74,763 91,738 64,746 79,764 92,736 65,713 124,707 114,718 125,719 132,719 131,706 136,717 99,702 136,666 102,720 134,669 133,681 113,700 137,665 113,705 130,700 135,697 128,721 116,701 135,665 113,718 128,703 122,720 122,719 126,714 125,710 132,705 102,720 124,711 133,705 97,702 107,714 97,706 132,701 109,707 136,695 122,698 113,703 103,707 120,709 137,667 134,667 107,701 136,715 130,718 114,718 128,711 115,701 130,713 97,718 128,701 137,675 112,711 137,684 115,713 135,713 110,719 111,707 136,698 106,717 124,701 130,719 115,708 129,714 136,707 98,679 106,710 130,700 134,692 122,708 134,711 100,702 130,700 97,686 95,703 101,718 104,701 136,708 100,705 116,713 117,720 121,719 104,712 100,679 104,720 133,674 98,720 97,691 131,718 134,688 110,700 99,700 136,686 105,718 134,702 135,674 109,705 117,710 110,713 137,718 134,675 133,679 108,718 105,706 137,678 101,706 113,711 127,715 107,706 131,708 98,715 121,702 115,708 138,674 135,669 117,710 116,706 119,707 126,715 126,715 100,714 103,718 125,715 111,713 129,702 121,702 98,703 126,710 121,720 98,711 122,705 121,709 100,722 136,673 117,706 126,713 120,704 108,721 126,715 133,708 133,696 97,694 97,691 130,722 123,699 134,665 100,709 123,705 97,717 131,707 104,716 104,706 103,706 97,684 95,714 122,713 126,707 113,712 123,712 134,675 133,713 134,712 99,697 137,685 126,714 132,708 136,717 134,672 134,721 136,680 124,712 132,707 123,714 132,714 136,665 130,719 99,699 133,702 135,676 134,720 112,708 105,709 96,683 115,713 106,705 115,720 98,718 113,708 111,711 137,703 134,697 98,703 106,711 135,690 120,702 136,665 103,708 134,668 105,702 97,708 108,710 130,718 118,715 128,710 97,691 113,706 134,661 133,681 118,721 129,716 124,714 126,699 102,706 121,706 135,705 126,705 102,706 130,718 120,703 128,716 97,686 135,665 134,676 127,713 134,693 97,700 121,708 110,700 110,703 139,672 125,710 122,708 109,711 133,715 117,707 95,705 117,720 105,699 107,709 114,710 137,665 124,718 106,708 124,712 114,709 104,699 130,708 110,717 101,703 128,701 136,688 134,679 117,710 99,721 135,721 97,681 128,711 109,712 98,702 116,718 128,721 135,681 112,704 98,688 118,706 104,714 136,688 112,721 115,701 119,720 113,701 98,714 135,720 109,715 115,718 123,705 98,700 100,713 115,706 107,717 97,707 108,719 122,706 119,708 113,707 124,716 95,712 135,709 128,718 97,721 133,680 101,713 133,671 133,717 133,693 137,679 100,722 109,719 116,705 135,718 133,691 134,702 115,714 98,711 116,701 103,717 136,682 125,708 135,699 131,701 106,702 119,701 138,706 123,715 135,717 99,712 136,680 123,709 134,702 112,720 136,684 130,716 130,704 112,711 125,703 105,716 111,703 105,701 108,709 112,717 126,716 98,703 109,718 108,716 135,696 124,702 115,708 131,716 98,715 132,709 106,708 98,709 132,705 128,706 130,709 117,707 106,717 119,716 134,675 98,689 109,709 118,716 136,697 122,720 98,708 119,702 132,702 134,702 110,719 109,717 106,719 136,671 134,705 122,715 108,709 96,715 96,684 125,712 109,714 136,687 103,700 105,715 125,708 111,704 134,692 136,679 109,702 122,714 112,709 105,711 134,667 108,703 127,715 122,713 135,673 98,707 126,713 136,664 131,721 134,711 101,717 123,707 119,700 103,703 114,721 130,713 135,671 97,683 116,719 101,715 121,760 117,731 116,745 124,724 116,754 115,718 116,724 116,746 118,764 113,718 119,768 124,772 115,771 123,727 113,761 123,752 115,728 115,748 122,727 116,752 127,757 121,756 115,742 123,722 117,752 125,719 125,731 124,727 124,727 122,761 123,759 116,766 116,729 116,749 125,729 115,723 126,734 112,720 125,750 120,771 117,750 116,731 121,764 122,743 122,765 114,734 122,742 114,749 118,751 115,723 123,768 121,750 126,760 126,751 117,744 122,750 124,730 115,739 121,755 121,719 121,772 122,721 124,745 116,719 115,767 116,729 120,721 118,756 119,756 116,728 122,766 117,727 117,750 114,734 114,724 119,755 124,756 123,746 115,752 120,765 121,763 123,727 127,719 120,763 122,723 120,754 123,718 123,758 116,729 122,771 116,759 117,767 124,732 118,758 116,736 118,748 119,764 118,764 113,718 121,751 115,739 117,729 115,757 120,758 119,751 124,732 125,725 123,772 115,726 125,751 124,760 122,747 122,754 117,734 116,760 115,751 124,758 124,723 126,723 123,745 119,771 123,761 113,722 123,755 119,771 120,770 122,750 121,767 120,755 115,756 117,767 117,746 125,758 116,729 121,759 115,739 117,750 116,762 114,762 123,759 122,728 114,758 115,771 123,725 121,724 117,760 115,745 115,734 119,752 125,722 116,736 123,754 115,720 121,720 127,756 123,758 123,748 117,766 122,753 123,767 124,748 119,752 117,763 118,762 120,763 125,721 123,723 126,731 117,763 201,696 200,697 257,722 206,697 175,717 219,722 268,723 219,720 224,706 209,718 218,701 192,720 250,723 157,696 165,696 215,722 192,719 263,719 156,694 170,698 276,710 277,718 258,714 237,722 277,712 155,702 216,707 255,712 159,695 237,709 211,720 222,705 236,710 154,693 266,723 234,707 199,697 250,726 194,694 203,717 261,713 275,707 234,720 274,722 165,710 223,718 206,698 190,719 189,719 153,695 202,703 249,710 270,712 266,720 198,717 266,721 227,706 277,708 212,720 219,722 185,719 189,697 215,719 268,711 175,717 235,720 164,697 182,718 198,695 226,707 194,694 202,699 191,696 170,712 157,700 235,710 175,700 257,712 239,709 205,696 188,697 193,695 162,709 193,692 271,724 203,695 172,717 201,716 175,718 265,721 155,697 241,709 276,722 183,696 220,705 163,711 227,705 268,712 190,696 209,699 195,694 198,695 183,696 205,697 181,716 156,694 250,716 276,722 216,722 210,699 172,698 186,718 257,723 220,703 206,717 264,721 155,703 193,719 173,718 256,722 217,703 268,712 166,711 170,698 236,720 183,697 161,708 256,712 261,723 266,716 170,698 167,713 157,705 257,721 200,695 183,696 176,717 245,707 230,709 205,695 198,717 280,707 179,709 178,718 224,705 179,696 165,699 231,716 169,712 220,720 205,698 257,723 208,699 254,711 231,708 200,697 214,701 220,720 232,709 168,712 276,724 251,710 206,695 230,720 249,724 213,719 262,723 175,704 206,717 183,716 247,724 163,710 271,724 209,720 227,707 164,694 164,696 211,700 193,692 209,698 237,720 183,696 217,722 196,717 168,711 181,696 166,698 237,708 233,721 198,700 176,717 192,719 216,721 232,707 186,698 160,697 227,718 234,710 230,709 249,712 228,706 275,720 234,711 226,720 236,710 274,719 243,710 277,711 232,707 250,725 273,708 191,718 221,721 206,699 192,719 202,717 276,723 245,711 190,697 212,699 230,709 155,701 242,724 233,710 200,716 176,697 170,714 276,710 234,710 181,716 242,722 173,700 166,697 190,694 171,715 163,697 209,720 179,718 181,715 255,722 264,713 195,694 267,723 269,721 230,719 216,703 274,717 156,694 279,707 158,694 253,711 268,723 253,725 257,711 252,711 175,698 168,711 254,711 273,723 181,696 231,722 167,710 190,719 161,696 196,719 250,725 184,697 218,702 215,720 231,721 214,699 276,719 196,716 240,724 273,722 165,709 249,711 215,721 181,698 173,698 253,712 219,701 206,716 166,712 262,714 274,709 237,710 244,708 274,722 227,718 279,708 216,702 167,713 168,711 163,696 207,719 243,722 268,721 253,710 236,721 210,698 209,720 164,696 165,697 228,708 204,708 191,720 275,715 192,693 252,726 245,711 182,699 158,704 257,721 203,718 272,723 229,717 247,723 167,698 159,708 260,715 187,695 205,719 216,719 224,717 215,702 194,719 167,712 179,697 157,704 200,694 204,696 193,719 169,712 261,713 234,708 264,721 260,715 183,718 172,715 255,710 156,705 277,711 249,709 154,692 204,718 254,713 201,697 230,718 165,711 244,707 204,697 191,719 223,706 188,720 211,719 217,712 248,709 279,706 222,705 230,707 277,711 245,724 160,708 238,723 252,723 170,712 274,709 219,721 275,719 174,712 273,719 274,715 161,697 194,695 239,708 277,722 228,720 164,703 276,718 154,699 272,725 169,713 272,724 168,711 190,695 233,711 156,695 196,719 187,696 238,710 233,709 215,716 278,706 163,696 273,724 170,715 165,699 274,708 173,718 207,718 172,714 172,700 178,695 183,717 194,717 190,719 267,721 159,695 165,711 231,706 267,722 172,714 206,699 206,719 264,723 250,710 173,717 154,692 278,708 167,697 182,696 240,707 163,707 246,724 260,721 158,697 221,704 262,722 207,698 182,697 204,697 215,717 201,696 200,697 274,718 267,723 266,722 248,710 278,708 206,705 165,697 256,711 231,708 275,721 196,716 220,703 257,714 257,723 273,726 203,719 201,694 278,724 155,698 201,695 249,710 241,708 252,709 223,705 158,708 247,723 180,716 274,715 209,718 229,721 190,701 212,699 241,709 205,719 275,720 220,703 221,721 173,700 207,718 248,725 256,712 258,716 183,715 260,715 261,712 166,711 219,722 279,709 165,709 186,719 273,717 180,697 259,712 231,709 137,674 136,704 137,699 136,671 139,661 137,696 136,684 138,667 140,686 137,701 140,682 139,699 140,683 140,679 139,700 139,651 137,700 139,693 139,666 139,669 139,707 139,662 139,681 136,693 135,677 136,676 140,652 137,689 139,646 140,650 135,703 138,658 137,667 137,664 137,700 136,681 138,654 138,653 137,672 138,675 138,669 135,676 139,690 139,662 137,670 140,697 139,665 138,699 138,698 139,648 139,654 136,690 138,683 135,695 137,706 138,652 138,662 136,682 137,673 139,707 137,673 138,684 136,678 138,646 139,657 137,667 137,693 138,710 138,657 139,688 136,678 139,680 138,678 138,657 137,683 138,658 139,681 139,697 135,685 137,652 136,702 139,706 137,657 137,651 135,685 137,662 137,699 140,649 138,673 140,704 138,700 139,681 140,694 134,700 134,702 137,666 138,707 137,702 139,676 136,702 138,667 138,667 138,688 140,704 137,649 139,690 139,666 136,661 139,653 138,675 139,669 137,652 134,703 139,677 136,663 136,684 135,680 138,678 140,665 136,690 138,680 140,649 135,687 138,685 135,698 139,710 137,654 139,657 138,699 136,674 139,688 135,692 136,684 137,692 140,665 136,707 136,698 138,652 136,694 140,667 138,645 59,790 54,757 50,780 63,749 62,772 63,757 63,761 61,771 50,776 57,743 54,773 50,763 53,760 69,747 59,772 51,752 55,789 61,759 55,786 54,790 51,760 58,748 60,777 55,745 69,751 72,759 58,749 58,789 54,752 58,750 56,763 62,769 52,744 68,764 58,750 66,761 60,754 53,773 49,758 53,780 71,761 73,774 52,763 54,774 68,752 51,754 62,787 54,756 54,787 68,780 74,771 51,750 57,770 59,776 55,742 63,754 68,754 53,777 57,767 55,781 68,748 71,764 104,719 100,741 105,749 110,740 110,748 104,718 112,740 111,729 111,722 100,714 102,746 105,745 105,719 111,744 111,723 108,719 107,717 100,724 104,736 53,789 63,796 58,804 55,814 62,814 73,788 66,784 81,628 115,654 148,689 166,700 228,688 250,682 278,683 285,710 270,723 120,766" fill="none" stroke="none" marker-start="url(#mE0)" marker-mid="url(#mE0)" marker-end="url(#mE0)"/>
<polygon points="154.3,679.7 154.3,679.7 159.2,682.0 164.3,683.6 167.7,685.4 172.3,686.8 176.2,683.8 180.0,683.4 183.8,684.6 187.8,683.6 191.0,681.5 192.9,680.4 195.1,681.4 198.3,682.3 201.3,683.2 204.4,684.1 207.7,684.8 210.7,685.9 213.6,686.9 216.3,688.7 219.5,690.4 222.9,691.1 225.8,692.8 229.1,694.2 232.3,695.7 236.3,697.1 240.6,695.8 243.5,695.0 246.0,696.4 249.8,698.1 253.4,697.6 256.0,698.2 260.0,701.0 264.3,699.8 267.5,698.4 271.3,697.5 275.5,694.2 279.5,694.7 279.8,696.1 279.3,698.6 277.5,701.7 276.3,705.5 277.3,709.3 278.6,712.3 278.8,713.8 276.7,714.4 273.8,715.1 270.8,714.2 266.9,712.7 263.0,712.7 260.1,713.1 256.7,713.3 253.3,715.0 250.9,715.5 248.2,714.7 244.9,714.5 242.3,714.3 239.7,713.1 236.4,711.7 233.1,711.7 230.7,711.3 227.9,709.4 223.9,708.3 220.1,710.6 217.5,712.2 215.6,711.5 212.5,709.7 209.2,709.7 206.4,708.8 203.2,708.2 200.0,708.2 196.5,708.1 193.2,709.5 190.6,709.6 187.8,708.8 184.8,708.2 181.4,706.8 177.7,707.4 174.4,708.3 172.6,707.3 170.3,704.7 167.5,702.8 164.7,701.3 162.2,699.6 159.3,697.5 158.1,697.3 155.1,693.9 153.7,691.4 153.3,688.6 152.5,685.7 152.3,683.5 154.1,680.7" fill="#7a7aff"/>
<polyline points="74,662 83,744 65,738 89,723 65,734 92,710 67,676 68,707 94,709 89,730 87,745 67,751 89,739 86,749 68,689 90,652 72,752 91,719 75,659 94,705 76,744 94,697 65,718 65,745 64,700 68,704 89,727 66,731 99,703 96,675 99,706 110,706 120,703 98,705 135,698 133,681 134,670 114,700 135,674 99,697 134,671 136,668 104,701 129,652 111,702 104,705 121,705 113,705 135,681 120,699 126,700 129,706 99,701 137,669 136,654 119,702 117,699 116,744 116,732 118,754 125,742 127,745 115,724 121,720 118,752 124,754 124,753 116,723 113,722 113,710 123,746 118,751 115,754 124,757 266,700 205,708 155,680 221,693 177,705 214,707 249,712 256,700 263,711 192,683 223,708 201,684 171,689 197,690 161,696 232,696 155,687 224,695 200,685 269,700 223,694 222,691 232,697 273,700 275,710 227,694 155,688 197,706 265,711 221,706 217,692 198,707 272,714 178,685 216,689 263,711 222,694 199,689 215,690 177,705 275,706 163,686 208,709 200,686 260,703 215,709 206,693 157,683 156,691 209,689 187,706 261,704 153,683 271,712 175,706 165,698 238,709 156,695 188,706 228,696 163,699 234,710 230,695 178,704 238,710 158,684 251,712 242,712 233,710 237,698 276,707 234,698 245,698 203,707 227,695 217,711 191,684 178,704 253,698 199,683 187,707 170,704 251,699 213,700 172,688 257,700 238,711 183,688 259,709 161,685 276,714 154,687 208,689 203,702 187,692 185,687 254,714 243,714 171,688 276,710 186,708 179,685 252,714 275,698 259,711 257,711 256,701 161,696 165,687 169,703 194,682 259,713 155,683 213,709 250,712 160,694 187,685 230,710 260,704 209,685 156,683 271,699 223,691 221,706 236,709 249,713 175,688 156,686 191,683 274,710 224,707 234,709 239,696 198,683 274,709 261,704 158,682 221,708 199,683 240,696 177,705 257,703 239,697 195,683 273,700 160,684 226,696 186,701 260,703 236,709 230,696 253,698 192,682 245,711 157,689 217,693 262,712 185,691 153,684 192,682 189,692 175,707 198,708 208,706 170,688 277,696 175,685 234,696 188,686 179,684 260,712 174,686 214,692 170,702 266,699 188,707 268,710 165,699 157,695 278,695 181,707 229,707 230,710 205,687 208,686 274,715 155,688 193,682 202,685 178,690 162,699 238,698 250,707 204,685 224,693 187,706 229,697 245,709 154,682 272,713 242,698 155,683 247,700 238,701 248,698 246,714 262,712 274,706 276,697 273,699 256,712 155,684 168,687 240,710 221,692 191,707 251,699 234,700 156,684 223,706 240,712 260,702 189,686 167,702 271,711 248,712 201,694 254,714 242,697 176,707 254,712 232,709 194,706 176,707 261,703 168,702 177,687 239,712 163,697 249,699 154,682 159,683 156,681 214,709 168,701 263,700 273,707 174,704 242,712 269,710 275,698 276,706 243,696 270,699 173,697 185,687 258,712 256,702 177,685 218,711 197,688 197,707 275,709 163,697 233,699 163,684 224,707 273,699 262,713 259,713 220,693 185,687 264,700 189,708 157,681 178,684 168,699 153,685 266,702 183,686 275,715 246,698 238,709 158,693 248,712 225,708 158,681 189,707 244,711 220,692 205,708 178,684 167,686 168,688 252,715 225,706 266,702 216,692 179,686 195,684 237,710 213,709 221,706 214,710 171,702 273,704 211,709 177,685 184,708 215,688 236,699 273,706 223,707 167,700 237,711 246,706 205,692 251,701 196,705 164,697 217,691 231,709 219,693 165,686 280,696 199,685 173,687 231,699 189,685 235,711 208,708 192,682 168,688 272,711 269,713 266,702 154,689 276,695 278,697 239,698 201,705 162,683 275,704 217,693 277,697 277,694 189,709 239,711 273,713 262,701 204,684 243,695 243,713 269,712 190,686 241,698 237,702 197,683 236,697 193,681 238,711 244,698 238,698 254,700 266,701 200,685 215,709 274,714 184,685 175,708 155,693 185,687 229,696 264,701 213,689 158,685 197,685 178,685 274,698 184,706 200,684 184,706 254,712 187,687 170,701 191,685 230,708 248,700 252,713 202,707 208,709 217,689 263,710 164,697 255,701 170,696 213,708 203,687 161,695 279,698 155,685 254,698 159,685 159,693 187,708 206,686 276,708 236,710 171,690 174,707 217,692 194,684 202,684 245,714 279,699 235,700 196,686 266,710 169,686 176,705 203,706 191,684 211,706 250,700 175,686 158,695 200,706 188,709 167,700 241,713 214,711 238,697 267,700 234,706 179,707 272,712 277,697 230,694 250,700 256,712 155,688 185,687 176,707 178,684 261,711 155,691 260,704 218,690 240,713 248,712 220,694 234,697 233,697 252,713 162,698 244,714 203,686 165,697 263,702 193,682 254,698 192,707 273,714 278,713 256,700 211,686 205,687 155,690 266,709 245,700 239,711 172,689 238,710 189,686 277,700 161,696 214,709 157,692 236,711 199,684 241,711 227,695 193,682 197,684 158,697 179,704 254,711 255,700 270,700 270,698 188,686" fill="none" stroke="none" marker-start="url(#mE1)" marker-mid="url(#mE1)" marker-end="url(#mE1)"/>
<polygon points="154.3,680.7 154.3,680.7 159.2,683.0 164.3,684.6 167.7,686.4 172.3,687.8 176.2,684.8 180.0,684.4 183.8,685.6 187.8,684.6 191.0,682.5 192.9,681.4 195.1,682.4 198.3,683.3 201.3,684.2 204.4,685.1 207.7,685.8 210.7,686.9 213.6,687.9 216.3,689.7 219.5,691.4 222.9,692.1 225.8,693.8 229.1,695.2 232.3,696.7 236.3,698.1 240.6,696.8 243.5,696.0 246.0,697.4 249.8,699.1 253.4,698.6 256.0,699.2 260.0,702.0 264.3,700.8 267.5,699.4 271.3,698.5 275.5,695.2 279.5,695.7 279.8,697.1 279.3,699.6 277.5,702.7 276.3,706.5 277.3,710.3 278.6,713.3 278.8,714.8 276.7,715.4 273.8,716.1 270.8,715.2 266.9,713.7 263.0,713.7 260.1,714.1 256.7,714.3 253.3,716.0 250.9,716.5 248.2,715.7 244.9,715.5 242.3,715.3 239.7,714.1 236.4,712.7 233.1,712.7 230.7,712.3 227.9,710.4 223.9,709.3 220.1,711.6 217.5,713.2 215.6,712.5 212.5,710.7 209.2,710.7 206.4,709.8 203.2,709.2 200.0,709.2 196.5,709.1 193.2,710.5 190.6,710.6 187.8,709.8 184.8,709.2 181.4,707.8 177.7,708.4 174.4,709.3 172.6,708.3 170.3,705.7 167.5,703.8 164.7,702.3 162.2,700.6 159.3,698.5 158.1,698.3 155.1,694.9 153.7,692.4 153.3,689.6 152.5,686.7 152.3,684.5 154.1,681.7" fill="#808080"/>
<polyline points="90,710 75,750 75,745 93,707 67,732 66,705 90,734 66,741 65,674 95,668 94,697 67,683 64,687 66,691 68,709 90,725 90,674 84,749 92,719 93,700 91,653 72,651 90,735 94,724 84,743 64,697 76,747 88,740 66,722 95,702 64,697 75,657 90,742 72,657 89,728 68,750 65,724 80,742 97,694 94,723 86,743 93,711 92,713 97,695 67,710 75,751 91,728 93,725 68,707 67,750 65,717 66,708 65,741 104,706 110,702 134,691 137,669 122,705 113,706 135,695 107,702 100,707 105,706 101,705 137,668 129,708 97,674 135,657 111,706 99,671 110,700 122,703 98,667 96,668 128,707 133,700 126,699 132,702 116,699 113,701 116,703 124,697 97,672 111,706 113,704 97,701 98,682 132,702 135,682 118,700 122,702 97,688 115,701 135,667 116,729 123,730 127,741 123,708 116,726 115,711 116,706 124,749 119,753 118,750 116,727 123,720 112,703 115,725 124,704 122,724 117,751 122,743 115,708 116,746 115,738 267,713 241,713 256,702 221,694 210,690 250,699 259,702 158,683 200,708 156,691 263,713 189,707 225,697 164,701 174,709 237,700 255,711 239,700 253,701 187,687 224,693 218,712 208,708 212,710 187,686 221,708 201,685 264,703 225,709 252,713 225,706 273,715 221,694 208,687 256,714 208,688 182,705 278,696 251,715 236,700 271,714 267,703 186,688 175,687 154,684 268,713 225,699 248,716 220,708 180,706 177,688 278,701 154,690 244,698 174,688 198,707 239,708 174,709 258,702 163,699 261,702 170,697 204,708 226,709 196,683 178,687 242,714 223,695 190,685 169,695 205,708 270,713 157,682 204,708 267,701 191,683 158,684 153,686 174,687 227,707 218,711 200,708 261,713 156,694 190,710 197,708 244,704 159,696 269,699 200,696 254,714 177,707 184,706 208,687 275,707 179,703 246,713 271,713 204,707 163,698 259,704 241,698 179,688 155,688 213,688 178,685 276,708 267,701 206,709 198,684 274,707 165,700 246,712 240,703 162,687 175,687 194,708 229,710 228,707 207,688 233,699 205,686 199,707 189,690 213,707 154,685 189,687 244,705 159,683 171,689 227,709 269,701 263,702 236,712 258,702 240,700 227,709 262,711 245,714 176,707 195,685 194,708 273,699 255,713 158,697 203,688 249,701 259,712 237,701 210,689 186,709 211,710 256,711 269,700 279,699 260,704 275,711 242,698 160,698 204,709 198,707 228,696 275,705 170,688 235,712 276,701 183,685 184,707 200,685 186,707 182,699 195,709 166,686 157,696 279,701 225,695 227,695 179,690 194,709 180,685 214,691 176,700 274,700 257,714 212,710 277,711 158,698 266,712 236,701 195,690 162,684 195,685 184,705 252,715 223,692 164,688 218,706 266,713 176,706 216,691 276,712 205,688 241,713 266,711 212,710 170,705 243,697 238,711 182,686 154,684 247,713 266,708 237,712 246,699 195,707 253,716 170,703 221,693 225,707 195,689 230,699 210,690 168,690 199,686 276,711 221,711 213,691 216,691 272,714 275,696 169,703 234,713 183,705 228,696 273,698 164,685 198,685 184,707 156,689 212,687 268,713 269,714 166,689 230,696 277,701 274,706 169,687 260,711 245,698 258,702 240,714 255,715 217,692 277,706 176,708 195,709 236,700 192,710 184,687 277,703 273,701 257,702 212,689 173,707 234,701 233,699 193,708 182,689 167,686 160,687 212,691 245,713 155,686 247,713 183,708 239,698 205,687 154,683 255,703 259,704 187,687 189,709 243,703 267,703 225,707 248,701 242,699 218,710 188,709 232,697 160,684 239,701 173,706 181,687 181,685 190,686 241,711 257,713 166,703 187,708 275,705 220,692 202,688 201,706 245,714 209,709 175,708 269,700 227,698 270,712 190,684 224,706 176,686 157,695 172,703 215,711 166,700 162,686 161,687 157,684 171,693 200,693 221,695 225,695 235,699 244,715 218,697 278,696 259,713 184,687 272,701 175,687 260,705 277,696 264,711 156,696 179,707 234,712 245,697 165,686 227,696 272,699 162,697 208,688 222,707 244,698 197,690 265,704 176,708 179,696 176,706 240,712 229,708 238,712 260,713 217,692 211,709 276,699 211,709 166,702 273,714 254,700 229,709 242,697 182,707 278,701 223,693 264,711 155,692 186,709 264,713 255,703 168,689 155,682 252,713 189,684 220,694 200,708 227,697 225,694 200,687 235,712 167,702 220,711 266,700 162,697 168,701 172,691 198,708 207,688 220,708 215,690 158,694 252,713 242,699 192,684 219,695 165,686 164,701 238,700 250,700 163,700 233,700 166,700 224,693 244,715 159,686 216,693 236,712 210,688 276,700 176,708 193,689 272,700 238,713 192,683 187,690 178,688 195,683 237,713 173,705 194,707 237,699 156,690 262,702 279,714 212,688 277,697 155,682 172,704 245,699 193,683 243,698 153,687 166,687 268,712 276,712 242,713 164,688 175,687 223,707 234,710 241,714 209,707 179,688 224,708 247,700 246,714 216,691 181,705 165,700 255,706 237,711 210,709 189,686 176,707 167,687 212,707 207,707 191,710 155,693 246,715 232,710 158,693 211,699 218,712 266,702 159,683 274,710 266,702 224,696 261,705 217,712 247,700 239,710 167,702 154,684 154,682 193,682 229,708 261,711 198,695 259,712 52,717 50,695 55,704 55,782 50,782 50,760 54,702 56,724 59,727 52,776 53,781 57,761 59,757 57,736 55,777 53,780 60,767 51,696 49,723 53,703 54,753 80,619 84,637 92,641 88,645 136,639 110,657 284,712 148,700" fill="none" stroke="none" marker-start="url(#mE2)" marker-mid="url(#mE2)" marker-end="url(#mE2)"/>
<polyline points="78,644 71,664 76,743 68,744 88,742 66,715 67,741 92,735 96,663 66,727 67,710 91,729 68,673 65,713 96,695 65,690 66,685 91,720 92,706 93,700 72,646 95,663 93,657 75,743 66,724 64,680 67,688 72,662 100,676 118,698 108,666 99,667 135,667 137,659 98,668 134,676 107,666 134,641 136,677 97,689 135,646 96,703 97,699 134,663 133,673 98,660 106,700 137,659 110,702 101,701 136,698 102,663 96,665 117,729 122,747 114,720 114,697 118,749 116,742 116,747 124,705 115,715 116,731 125,738 109,735 100,751 107,739 100,714 104,735 111,738 107,714 110,751 113,727 103,727 100,713 110,733" fill="none" stroke="none" marker-start="url(#mE3)" marker-mid="url(#mE3)" marker-end="url(#mE3)"/>
<polygon points="65.4,712.5 66.6,709.5 67.2,705.9 66.4,702.6 66.0,699.8 65.7,696.7 65.1,694.0 65.5,691.5 66.7,688.3 66.4,684.6 65.1,681.4 64.6,679.0 65.2,676.7 67.1,673.5 66.9,669.8 66.6,667.7 69.7,665.7 74.1,660.8 73.4,656.3 72.5,652.5 71.5,649.1 71.8,645.8 74.7,643.4 77.2,642.9 80.2,642.4 83.3,642.8 86.4,643.2 89.3,644.4 90.3,647.0 90.3,650.0 91.1,653.2 92.0,656.0 92.6,658.9 93.3,662.0 94.4,664.7 94.2,667.1 92.5,670.2 91.6,674.0 92.3,677.7 93.5,681.2 94.9,684.3 95.5,687.2 95.8,690.1 95.4,692.9 94.3,696.1 93.6,699.6 93.5,702.7 92.9,705.7 91.4,709.2 91.5,713.4 93.0,716.9 92.3,719.3 90.3,722.2 89.5,725.6 89.1,729.1 90.3,732.5 90.8,734.8 89.4,737.4 89.1,739.4 86.6,741.3 83.7,742.8 80.2,742.5 75.4,743.2 73.8,745.6 71.3,746.2 68.8,746.0 65.8,744.3 66.1,742.5 67.0,739.1 66.5,735.8 66.2,732.8 65.8,729.8 65.6,727.0 65.9,724.0 65.6,720.9 65.4,717.8 65.1,715.0" fill="#ff0000"/>
<polygon points="97.8,663.8 98.1,660.8 99.2,659.8 100.6,662.8 108.2,666.1 111.0,662.0 112.9,660.3 115.7,659.5 118.8,659.8 123.6,659.9 128.3,656.7 128.8,652.9 130.7,650.0 130.7,646.2 131.6,643.6 134.4,642.6 135.8,644.0 136.9,646.7 137.6,649.3 137.2,651.9 136.0,655.1 135.7,658.5 135.4,661.7 135.4,664.7 134.8,667.6 133.5,671.1 134.2,674.5 134.3,677.5 134.3,681.1 136.3,684.2 136.3,686.2 133.9,689.0 133.2,693.4 135.0,697.2 134.9,699.6 134.2,700.5 131.8,700.2 129.1,701.1 127.2,700.2 123.6,698.5 119.4,699.1 115.6,699.9 113.2,700.5 110.2,700.3 106.2,699.0 102.3,699.8 99.0,700.8 98.5,700.9 98.7,700.1 98.3,696.4 96.7,693.5 96.7,691.2 97.3,687.9 96.2,684.7 96.2,682.5 98.0,679.8 99.5,676.1 98.4,672.6 98.0,670.1 98.8,666.9" fill="#ff0000"/>
<polygon points="113.9,699.1 115.3,698.7 118.2,699.3 121.5,699.6 125.0,700.4 125.0,701.8 124.1,704.9 123.9,708.4 124.5,711.4 123.9,713.8 121.9,717.0 121.3,720.8 122.2,724.2 122.8,727.4 123.8,730.7 125.4,733.8 126.2,736.3 125.4,738.6 123.1,741.7 121.7,745.7 122.8,749.3 123.1,750.6 122.3,750.5 118.6,749.7 117.0,749.9 116.8,748.7 116.3,745.3 114.8,742.6 114.7,740.3 116.0,737.3 116.5,733.7 116.1,730.3 115.9,727.4 116.2,724.2 115.7,720.6 114.7,717.7 115.1,715.1 116.1,711.7 115.5,708.0 114.6,704.9 114.2,701.9" fill="#ff0000"/>
<polygon points="154.3,674.7 154.3,674.7 159.2,677.0 164.3,678.6 167.7,680.4 172.3,681.8 176.2,678.8 180.0,678.4 183.8,679.6 187.8,678.6 191.0,676.5 192.9,675.4 195.1,676.4 198.3,677.3 201.3,678.2 204.4,679.1 207.7,679.8 210.7,680.9 213.6,681.9 216.3,683.7 219.5,685.4 222.9,686.1 225.8,687.8 229.1,689.2 232.3,690.7 236.3,692.1 240.6,690.8 243.5,690.0 246.0,691.4 249.8,693.1 253.4,692.6 256.0,693.2 260.0,696.0 264.3,694.8 267.5,693.4 271.3,692.5 275.5,689.2 279.5,689.7 279.8,691.1 279.3,693.6 277.5,696.7 276.3,700.5 277.3,704.3 278.6,707.3 278.8,708.8 276.7,709.4 273.8,710.1 270.8,709.2 266.9,707.7 263.0,707.7 260.1,708.1 256.7,708.3 253.3,710.0 250.9,710.5 248.2,709.7 244.9,709.5 242.3,709.3 239.7,708.1 236.4,706.7 233.1,706.7 230.7,706.3 227.9,704.4 223.9,703.3 220.1,705.6 217.5,707.2 215.6,706.5 212.5,704.7 209.2,704.7 206.4,703.8 203.2,703.2 200.0,703.2 196.5,703.1 193.2,704.5 190.6,704.6 187.8,703.8 184.8,703.2 181.4,701.8 177.7,702.4 174.4,703.3 172.6,702.3 170.3,699.7 167.5,697.8 164.7,696.3 162.2,694.6 159.3,692.5 158.1,692.3 155.1,688.9 153.7,686.4 153.3,683.6 152.5,680.7 152.3,678.5 154.1,675.7" fill="#ff0000"/>
<polyline points="67,712 95,692 76,660 92,661 67,732 93,689 68,698 75,741 83,671 70,666 89,726 72,744 83,697 67,745 90,671 91,704 93,693 90,671 83,652 96,690 67,709 67,699 69,713 87,729 89,653 69,695 73,740 94,689 85,738 68,694 94,692 89,649 91,698 84,687 89,726 76,644 89,671 68,682 69,669 78,740 92,661 83,742 94,691 69,669 86,661 70,684 67,725 92,716 94,685 84,643 88,650 91,708 69,712 77,742 74,742 81,712 74,661 74,654 68,718 89,695 68,687 67,740 70,709 68,722 92,699 88,645 91,695 85,739 90,710 67,718 68,720 67,680 91,708 67,731 91,721 84,724 83,740 92,678 84,742 66,724 88,729 89,649 79,648 67,701 73,720 88,725 75,648 68,733 67,724 89,708 88,655 68,738 76,657 67,686 79,644 69,695 70,673 93,665 79,742 65,715 91,665 67,733 67,668 70,686 68,717 90,705 86,738 67,706 71,667 92,717 73,653 70,669 86,727 68,696 89,719 67,709 67,675 85,741 84,738 69,706 69,688 67,701 76,643 66,723 76,664 87,651 91,714 65,679 69,733 68,688 71,668 66,699 72,745 89,719 85,645 75,647 74,652 69,682 67,737 82,660 90,734 69,734 67,702 90,652 79,741 88,652 68,736 67,698 75,741 89,675 68,700 92,671 91,670 67,677 90,673 85,645 89,712 81,644 81,646 68,741 69,710 91,675 87,740 88,724 82,645 94,687 89,710 89,719 91,659 66,716 90,662 91,721 70,737 93,688 91,676 90,646 70,666 65,682 91,667 88,711 67,691 90,713 73,741 80,741 78,713 95,693 79,743 89,732 66,694 68,718 92,699 83,740 92,692 88,738 93,666 69,706 75,661 67,689 69,738 68,715 67,698 75,741 68,674 68,690 94,694 92,667 89,646 82,687 88,711 73,663 81,643 84,646 74,644 68,667 70,666 82,698 89,674 75,674 93,704 74,744 81,687 93,693 90,669 92,699 67,680 68,736 66,734 81,710 91,669 76,643 87,728 88,654 68,734 89,658 85,646 91,698 92,717 68,668 69,730 89,673 68,729 93,689 91,717 88,647 68,697 69,730 67,691 74,662 70,740 92,684 89,722 75,664 79,740 75,741 88,726 79,741 78,741 74,696 68,737 67,681 81,697 67,689 90,712 66,728 66,696 70,674 74,658 91,680 66,693 94,701 69,671 90,670 82,713 69,685 68,703 95,689 80,646 73,653 69,707 67,731 81,644 69,721 65,713 91,709 90,654 75,664 90,708 72,647 85,701 73,650 73,666 78,645 75,743 70,686 74,659 82,650 91,722 70,745 87,645 85,742 68,712 86,646 89,710 90,717 76,644 96,689 71,726 88,708 88,733 67,714 70,709 83,741 92,670 93,680 70,707 66,721 70,733 90,679 71,744 69,743 69,667 70,672 73,654 67,737 69,745 93,692 81,645 92,689 68,682 67,727 88,739 79,741 92,679 89,732 74,644 92,698 69,667 94,667 68,719 69,667 67,690 92,700 93,683 85,645 72,745 76,645 67,740 88,714 90,659 67,701 87,729 90,716 69,673 71,667 67,735 75,661 68,742 70,675 73,745 68,715 80,645 84,704 87,739 91,697 66,720 80,741 93,690 90,712 74,654 83,646 89,733 69,733 90,663 90,660 75,667 70,706 77,644 81,711 66,713 68,710 92,716 88,652 89,673 88,710 90,654 89,737 93,680 68,694 83,714 77,658 125,697 131,657 99,683 119,697 132,673 136,649 132,671 128,699 104,698 129,660 101,695 99,671 126,697 104,667 114,663 119,696 112,662 115,663 130,700 98,664 123,690 110,698 134,645 132,696 135,652 102,677 122,699 125,698 133,653 133,671 126,661 132,645 125,660 101,674 133,690 133,651 132,682 101,668 103,681 129,652 133,669 132,675 127,661 134,657 127,683 124,662 135,654 133,692 132,650 130,670 132,687 132,672 131,654 127,671 99,695 100,678 100,668 118,698 101,679 134,696 123,698 101,669 127,658 99,693 108,666 134,656 100,675 131,692 104,698 106,666 122,696 101,678 131,693 105,697 125,698 118,697 106,665 132,664 133,650 135,662 135,654 110,664 97,691 137,649 108,666 99,669 100,673 133,677 97,689 121,697 109,698 104,667 136,685 103,666 132,677 99,671 135,648 127,660 134,650 116,700 98,691 134,666 130,693 125,697 119,661 101,666 113,661 135,657 131,697 105,697 108,696 133,681 131,692 128,688 133,681 115,695 131,649 98,662 128,684 135,643 117,683 136,647 102,679 104,692 106,695 97,687 129,657 134,653 110,664 98,685 101,697 133,682 131,699 132,678 99,698 133,695 108,682 101,697 131,697 121,698 133,644 125,662 131,692 101,668 131,670 112,664 100,663 119,661 119,677 113,673 103,666 130,658 132,699 126,666 132,670 108,698 134,681 101,679 105,668 100,662 116,661 124,663 108,699 130,670 128,697 97,692 99,685 112,700 99,689 134,698 132,697 133,666 121,662 136,651 132,682 136,651 136,684 101,687 105,665 114,699 129,658 100,663 100,681 136,655 128,660 131,670 114,661 116,661 126,696 101,696 125,699 133,681 104,668 98,670 100,678 102,667 100,674 113,698 113,663 130,653 114,678 109,696 125,697 133,667 101,674 101,664 113,662 111,665 133,679 126,699 103,677 132,692 132,676 101,671 128,660 115,698 111,663 99,689 124,661 126,660 132,697 100,688 100,685 132,677 133,694 100,674 101,676 111,663 134,678 137,648 124,698 120,661 133,652 100,666 127,697 124,661 107,668 134,688 134,646 133,677 101,664 129,659 101,695 130,698 102,698 131,677 102,697 135,685 98,672 116,697 132,689 136,645 127,698 131,675 132,663 112,671 100,678 110,667 134,654 111,698 120,698 131,700 133,666 99,661 106,668 133,694 132,673 125,688 132,695 101,680 97,686 112,665 115,661 115,660 119,685 134,643 113,698 118,663 133,654 100,698 103,666 108,667 101,666 131,674 101,668 131,668 128,690 132,658 112,662 119,699 135,665 111,684 100,685 99,661 133,650 98,682 130,693 133,656 132,694 134,664 134,681 133,658 113,664 124,697 131,657 101,666 132,666 126,659 134,679 131,654 126,680 135,687 130,699 98,689 121,697 119,698 100,667 111,699 124,736 124,733 119,744 122,713 120,743 118,740 116,710 116,700 119,715 121,747 118,747 122,731 116,738 116,739 122,731 116,740 121,702 117,723 124,732 121,712 117,723 122,713 116,702 122,728 121,750 123,731 118,730 124,735 123,732 120,709 121,708 116,727 121,712 116,729 124,707 118,744 124,736 122,750 123,709 120,749 117,743 123,733 115,699 122,740 117,739 122,734 119,714 118,733 122,718 116,717 121,704 116,744 118,720 116,701 120,724 121,719 117,744 125,736 117,744 123,710 118,708 119,725 118,724 118,713 116,702 117,723 116,699 121,750 117,727 120,742 117,732 121,713 125,737 117,719 121,748 119,723 119,748 116,703 122,744 121,748 123,703 117,707 117,708 117,730 118,726 120,734 117,749 118,710 115,718 117,739 117,745 116,710 115,716 125,734 121,719 123,706 123,740 123,711 123,737 120,748 122,726 119,715 117,711 117,706 123,713 118,714 119,709 116,718 118,738 116,731 118,706 121,715 118,729 122,743 124,702 116,703 118,712 122,710 116,712 118,722 121,728 119,724 120,702 123,715 120,744 118,712 120,733 116,723 116,708 116,742 117,703 118,719 121,726 121,722 116,700 118,734 117,727 118,720 116,703 119,737 116,737 117,732 120,743 120,724 120,720 121,706 116,743 122,750 123,742 118,739 118,722 121,743 116,702 118,729 118,705 120,726 119,746 118,709 120,732 114,702 117,719 117,732 122,711 121,740 117,715 246,694 207,701 274,695 172,685 277,694 225,690 171,698 262,696 273,694 239,707 229,692 275,692 209,701 247,694 273,706 210,681 270,708 212,701 157,690 192,692 278,692 157,679 260,698 279,691 153,682 243,692 241,694 218,687 193,676 228,702 225,703 266,694 242,709 270,694 275,709 201,700 201,679 211,684 241,709 184,681 211,703 172,701 154,679 181,682 222,703 184,694 166,683 170,697 191,678 179,701 267,696 226,690 209,704 222,705 158,687 155,684 274,707 271,696 179,679 275,698 276,702 212,703 229,691 211,684 186,685 221,686 162,680 257,707 208,703 275,709 164,680 276,706 271,707 161,692 171,682 245,707 244,709 198,699 186,682 243,707 194,677 238,692 211,704 207,682 264,697 278,706 261,699 278,708 161,692 242,691 210,703 170,696 239,708 235,693 246,707 222,704 229,702 159,678 228,691 164,682 174,683 213,704 253,709 218,685 199,701 266,697 271,707 238,692 171,686 258,696 259,707 256,706 277,705 241,708 225,704 247,695 230,704 202,701 255,707 220,704 172,697 188,703 217,704 159,679 266,696 247,692 237,706 187,679 269,694 270,708 174,702 265,696 256,708 182,700 201,702 214,686 278,707 235,695 257,706 276,701 222,702 228,701 253,694 254,695 275,706 170,684 208,683 156,680 178,682 256,694 276,702 274,704 229,690 175,701 192,703 227,691 227,689 172,701 192,679 227,702 231,705 261,705 156,678 256,694 178,680 196,677 199,701 271,706 258,706 239,694 234,704 265,695 170,699 188,680 183,701 274,693 216,703 216,686 275,693 262,697 239,692 212,683 273,695 194,704 155,685 182,679 171,700 159,691 165,683 236,701 253,694 214,702 192,684 232,693 254,695 189,682 258,696 224,690 161,686 223,700 230,690 183,699 263,699 203,680 219,687 258,698 213,684 252,695 252,694 240,705 203,680 156,676 175,680 263,699 210,684 248,708 204,701 275,692 232,692 173,701 156,689 153,682 258,695 174,680 244,708 250,694 165,692 157,679 191,678 188,701 182,700 174,703 198,680 234,703 196,703 211,701 265,698 157,686 195,703 223,703 260,707 185,683 155,676 267,707 153,677 275,693 274,710 217,684 226,704 169,699 223,701 237,704 171,696 231,691 208,702 158,689 206,698 240,692 216,705 218,705 258,706 215,683 194,683 183,689 278,709 173,698 186,702 235,707 256,708 242,706 177,679 223,700 166,681 187,698 246,695 275,707 200,701 267,708 248,706 254,710 209,704 271,709 191,703 169,684 170,683 258,706 272,694 251,695 210,701 174,702 159,679 158,680 266,706 157,685 186,680 161,678 179,701 162,681 154,685 262,696 177,679 237,695 215,686 209,680 196,680 208,699 249,710 221,703 233,692 223,688 203,681 275,691 189,701 175,681 261,698 194,690 268,705 172,683 191,678 239,702 176,702 180,699 198,680 192,680 270,706 161,693 211,684 274,701 274,694 266,696 236,698 175,683 214,686 226,691 275,696 234,692 165,693 177,679 245,709 165,694 239,692 277,698 202,680 257,696 206,693 154,681 176,679 233,706 190,692 227,702 168,683 194,704 210,703 200,679 192,677 217,686 213,703 178,679 268,694 157,689 215,686 198,701 216,703 259,697 273,692 172,697 259,698 235,706 267,696 175,681 239,707 194,679 270,706 260,708 167,696 278,707 272,695 187,682 259,699 257,707 226,701 274,700 166,683 271,709 257,705 190,703 203,682 244,693 156,685 240,705 163,694 256,695 176,703 234,706 226,691 169,697 160,690 196,678 179,682 276,707 249,700 194,702 215,704 172,700 236,695 269,694 277,697 267,694 175,683 196,678 222,689 203,681 270,696 233,705 178,681 273,694 274,703 245,697 222,688 176,703 197,677 244,708 222,687 207,703 160,680 161,678 276,705 229,704 169,684 277,690 215,704 197,679 153,683 189,704 262,707 220,703 155,676 157,678 174,699 250,694 262,699 192,703 252,710 206,701 221,688 179,681 266,706 278,707 280,691 278,694 213,701 239,693 205,680 188,681 155,686 227,691 215,685 174,700 61,721 60,743 51,706 58,714 63,716 60,733 57,785 59,719 58,777 54,715 57,758 61,764 57,719 51,712 59,712 50,775 59,770 58,710 59,707 54,769 51,717 60,756 55,785 58,715 56,756 61,762 56,779 53,758 56,731 51,741 55,715 50,736 58,777 58,710 58,700 56,788 50,756 56,715 58,745 60,733 64,742 63,738 50,706 59,709 50,709 55,726 59,765 51,725 61,703 112,716 102,751 106,725 102,734 112,726 98,722 107,748 107,717 110,714 112,733 99,719 104,746 109,727 106,713 108,749 103,743 101,732 110,712 112,741 112,734 100,729 108,725 109,728 106,751 112,749 106,740 99,731 107,724 108,744 110,730 111,713 99,733 107,748 111,736 112,740 109,736 107,741 100,749 99,714 104,724 99,737 112,729 101,727 99,741 100,727 100,742 108,723 112,749 106,741 106,731 106,722 102,716 110,723 106,724 99,713 101,731 112,730 77,633 52,695 54,680 155,664 230,680 249,678 283,706" fill="none" stroke="none" marker-start="url(#mE4)" marker-mid="url(#mE4)" marker-end="url(#mE4)"/>
<path d="M83.5 718.4h1.2v1.2h-1.2zM86.7 736.4h1.2v1.2h-1.2zM79.4 669.1h1.2v1.2h-1.2zM81.4 701.7h1.2v1.2h-1.2zM74.2 735.8h1.2v1.2h-1.2zM87.4 660.4h1.2v1.2h-1.2zM88.3 658.3h1.2v1.2h-1.2zM83.4 657.1h1.2v1.2h-1.2zM72.3 666.0h1.2v1.2h-1.2zM74.5 740.3h1.2v1.2h-1.2zM81.3 712.1h1.2v1.2h-1.2zM72.2 738.3h1.2v1.2h-1.2zM76.4 661.0h1.2v1.2h-1.2zM74.8 704.6h1.2v1.2h-1.2zM75.8 675.4h1.2v1.2h-1.2zM88.8 692.4h1.2v1.2h-1.2zM75.2 692.4h1.2v1.2h-1.2zM85.8 650.1h1.2v1.2h-1.2zM87.0 728.7h1.2v1.2h-1.2zM76.6 702.2h1.2v1.2h-1.2zM71.5 739.7h1.2v1.2h-1.2zM72.0 719.8h1.2v1.2h-1.2zM76.0 679.8h1.2v1.2h-1.2zM80.9 721.8h1.2v1.2h-1.2zM69.6 719.1h1.2v1.2h-1.2zM69.1 678.4h1.2v1.2h-1.2zM83.2 736.0h1.2v1.2h-1.2zM75.9 736.6h1.2v1.2h-1.2zM81.4 675.6h1.2v1.2h-1.2zM121.5 686.0h1.2v1.2h-1.2zM127.9 697.1h1.2v1.2h-1.2zM125.8 696.0h1.2v1.2h-1.2zM118.5 676.7h1.2v1.2h-1.2zM108.6 695.7h1.2v1.2h-1.2zM118.3 682.5h1.2v1.2h-1.2zM105.8 697.0h1.2v1.2h-1.2zM131.6 661.5h1.2v1.2h-1.2zM109.4 678.3h1.2v1.2h-1.2zM128.8 671.5h1.2v1.2h-1.2zM110.0 671.6h1.2v1.2h-1.2zM126.2 691.7h1.2v1.2h-1.2zM111.9 677.0h1.2v1.2h-1.2zM105.5 686.8h1.2v1.2h-1.2zM117.8 687.9h1.2v1.2h-1.2zM102.2 686.4h1.2v1.2h-1.2zM128.0 692.5h1.2v1.2h-1.2zM120.8 737.1h1.2v1.2h-1.2zM119.5 712.7h1.2v1.2h-1.2zM231.2 700.2h1.2v1.2h-1.2zM252.5 706.6h1.2v1.2h-1.2zM245.7 706.0h1.2v1.2h-1.2zM270.9 697.2h1.2v1.2h-1.2zM212.2 684.3h1.2v1.2h-1.2zM221.4 694.8h1.2v1.2h-1.2zM155.8 683.3h1.2v1.2h-1.2zM180.1 683.3h1.2v1.2h-1.2zM220.9 698.1h1.2v1.2h-1.2zM198.8 681.7h1.2v1.2h-1.2zM191.4 695.7h1.2v1.2h-1.2zM195.9 686.3h1.2v1.2h-1.2zM193.2 691.8h1.2v1.2h-1.2zM246.9 703.5h1.2v1.2h-1.2zM199.4 694.9h1.2v1.2h-1.2zM155.3 677.8h1.2v1.2h-1.2zM196.7 687.7h1.2v1.2h-1.2zM219.1 701.3h1.2v1.2h-1.2zM252.8 704.0h1.2v1.2h-1.2zM165.4 687.3h1.2v1.2h-1.2zM193.3 682.0h1.2v1.2h-1.2zM163.8 681.1h1.2v1.2h-1.2zM276.2 693.5h1.2v1.2h-1.2zM204.4 684.0h1.2v1.2h-1.2zM210.5 689.9h1.2v1.2h-1.2zM244.7 706.9h1.2v1.2h-1.2zM232.1 701.7h1.2v1.2h-1.2z" fill="#ffb4b4"/>
</g>
<defs><marker id="ah" markerWidth="8" markerHeight="8" refX="7" refY="4" orient="auto" markerUnits="userSpaceOnUse"><path d="M0,1 L8,4 L0,7 Z" fill="#000"/></marker></defs>
<line x1="131.8" y1="732.3" x2="131.8" y2="815.8" stroke="#555" stroke-width="1" stroke-dasharray="3,2"/>
<line x1="201.7" y1="732.3" x2="201.7" y2="815.8" stroke="#333" stroke-width="1" stroke-dasharray="3,2"/>
<line x1="118" y1="773.5" x2="212" y2="773.5" stroke="#1a1a1a" stroke-width="1.1" />
<polygon points="218.5,773.5 210.5,769.8 210.5,777.2" fill="#000"/>
<line x1="166.2" y1="825.3" x2="166.2" y2="731" stroke="#1a1a1a" stroke-width="1.1" />
<polygon points="166.2,725.5 162.5,733.5 169.9,733.5" fill="#000"/>
<line x1="166.2" y1="773.5" x2="146.1" y2="747.1" stroke="#1a1a1a" stroke-width="1.1" />
<line x1="166.2" y1="773.5" x2="136" y2="759.5" stroke="#1a1a1a" stroke-width="1.1" />
<line x1="166.2" y1="773.5" x2="143" y2="798" stroke="#1a1a1a" stroke-width="1.1" />
<polygon points="139.8,801.2 141.2,794.6 146.2,799.2" fill="#000"/>
<line x1="206.5" y1="800.7" x2="144" y2="800.7" stroke="#1a1a1a" stroke-width="1.1" />
<polygon points="139.8,800.7 147,797.5 147,803.9" fill="#000"/>
<line x1="166.2" y1="773.5" x2="202" y2="797" stroke="#1a1a1a" stroke-width="1" stroke-dasharray="3,2"/>
<polygon points="208,800.7 200.5,799.8 203.5,795.5" fill="#000"/>
<circle cx="166.2" cy="773.5" r="1.5" fill="#000"/>
<text x="153" y="751.5" font-size="11" style="font-family:'Liberation Serif',serif">k<tspan font-size="7.5" dy="2.5">1</tspan></text>
<text x="134.5" y="770.5" font-size="11" style="font-family:'Liberation Serif',serif">k<tspan font-size="7.5" dy="2.5">2</tspan></text>
<text x="140.5" y="789.5" font-size="11" style="font-family:'Liberation Serif',serif">k<tspan font-size="7.5" dy="2.5">3</tspan></text>
<text x="170.3" y="798.8" font-size="11" style="font-family:'Liberation Serif',serif">G</text>
<text x="155" y="732" font-size="11" font-style="italic" style="font-family:'Liberation Serif',serif">k<tspan font-size="7.5" dy="2.5">z</tspan></text>
<text x="221" y="777.5" font-size="11" font-style="italic" style="font-family:'Liberation Serif',serif">k<tspan font-size="7.5" dy="2.5">x</tspan></text>
<text x="130" y="838.6" font-size="12.3" textLength="70.5" lengthAdjust="spacing" style="font-family:'Liberation Serif',serif">k<tspan font-size="8" dy="2.5">1</tspan><tspan dy="-2.5"> = k</tspan><tspan font-size="8" dy="2.5">2</tspan><tspan dy="-2.5"> + k</tspan><tspan font-size="8" dy="2.5">3</tspan><tspan dy="-2.5"> + G</tspan></text>
<line x1="47.6" y1="612.4" x2="52.6" y2="612.4" stroke="#000" stroke-width="1.2" />
<text x="41.2" y="617.7" font-size="13.5" text-anchor="end">10<tspan font-size="9.5" dy="-6">1</tspan></text>
<line x1="47.6" y1="654.76" x2="50.6" y2="654.76" stroke="#000" stroke-width="1" />
<line x1="47.6" y1="644.09" x2="50.6" y2="644.09" stroke="#000" stroke-width="1" />
<line x1="47.6" y1="636.52" x2="50.6" y2="636.52" stroke="#000" stroke-width="1" />
<line x1="47.6" y1="630.64" x2="50.6" y2="630.64" stroke="#000" stroke-width="1" />
<line x1="47.6" y1="625.84" x2="50.6" y2="625.84" stroke="#000" stroke-width="1" />
<line x1="47.6" y1="621.79" x2="50.6" y2="621.79" stroke="#000" stroke-width="1" />
<line x1="47.6" y1="618.27" x2="50.6" y2="618.27" stroke="#000" stroke-width="1" />
<line x1="47.6" y1="615.17" x2="50.6" y2="615.17" stroke="#000" stroke-width="1" />
<line x1="47.6" y1="673" x2="52.6" y2="673" stroke="#000" stroke-width="1.2" />
<text x="41.2" y="678.3" font-size="13.5" text-anchor="end">10<tspan font-size="9.5" dy="-6">0</tspan></text>
<line x1="47.6" y1="715.36" x2="50.6" y2="715.36" stroke="#000" stroke-width="1" />
<line x1="47.6" y1="704.69" x2="50.6" y2="704.69" stroke="#000" stroke-width="1" />
<line x1="47.6" y1="697.12" x2="50.6" y2="697.12" stroke="#000" stroke-width="1" />
<line x1="47.6" y1="691.24" x2="50.6" y2="691.24" stroke="#000" stroke-width="1" />
<line x1="47.6" y1="686.44" x2="50.6" y2="686.44" stroke="#000" stroke-width="1" />
<line x1="47.6" y1="682.39" x2="50.6" y2="682.39" stroke="#000" stroke-width="1" />
<line x1="47.6" y1="678.87" x2="50.6" y2="678.87" stroke="#000" stroke-width="1" />
<line x1="47.6" y1="675.77" x2="50.6" y2="675.77" stroke="#000" stroke-width="1" />
<line x1="47.6" y1="733.6" x2="52.6" y2="733.6" stroke="#000" stroke-width="1.2" />
<text x="41.2" y="738.9" font-size="13.5" text-anchor="end">10<tspan font-size="9.5" dy="-6">-1</tspan></text>
<line x1="47.6" y1="775.96" x2="50.6" y2="775.96" stroke="#000" stroke-width="1" />
<line x1="47.6" y1="765.29" x2="50.6" y2="765.29" stroke="#000" stroke-width="1" />
<line x1="47.6" y1="757.72" x2="50.6" y2="757.72" stroke="#000" stroke-width="1" />
<line x1="47.6" y1="751.84" x2="50.6" y2="751.84" stroke="#000" stroke-width="1" />
<line x1="47.6" y1="747.04" x2="50.6" y2="747.04" stroke="#000" stroke-width="1" />
<line x1="47.6" y1="742.99" x2="50.6" y2="742.99" stroke="#000" stroke-width="1" />
<line x1="47.6" y1="739.47" x2="50.6" y2="739.47" stroke="#000" stroke-width="1" />
<line x1="47.6" y1="736.37" x2="50.6" y2="736.37" stroke="#000" stroke-width="1" />
<line x1="47.6" y1="794.2" x2="52.6" y2="794.2" stroke="#000" stroke-width="1.2" />
<text x="41.2" y="799.5" font-size="13.5" text-anchor="end">10<tspan font-size="9.5" dy="-6">-2</tspan></text>
<line x1="47.6" y1="836.56" x2="50.6" y2="836.56" stroke="#000" stroke-width="1" />
<line x1="47.6" y1="825.89" x2="50.6" y2="825.89" stroke="#000" stroke-width="1" />
<line x1="47.6" y1="818.32" x2="50.6" y2="818.32" stroke="#000" stroke-width="1" />
<line x1="47.6" y1="812.44" x2="50.6" y2="812.44" stroke="#000" stroke-width="1" />
<line x1="47.6" y1="807.64" x2="50.6" y2="807.64" stroke="#000" stroke-width="1" />
<line x1="47.6" y1="803.59" x2="50.6" y2="803.59" stroke="#000" stroke-width="1" />
<line x1="47.6" y1="800.07" x2="50.6" y2="800.07" stroke="#000" stroke-width="1" />
<line x1="47.6" y1="796.97" x2="50.6" y2="796.97" stroke="#000" stroke-width="1" />
<line x1="47.6" y1="854.8" x2="52.6" y2="854.8" stroke="#000" stroke-width="1.2" />
<text x="41.2" y="860.1" font-size="13.5" text-anchor="end">10<tspan font-size="9.5" dy="-6">-3</tspan></text>
<line x1="47.6" y1="854.8" x2="47.6" y2="849.8" stroke="#000" stroke-width="1.2" />
<text x="47.6" y="872.3" font-size="13" text-anchor="middle" >0</text>
<line x1="97.6" y1="854.8" x2="97.6" y2="849.8" stroke="#000" stroke-width="1.2" />
<text x="97.6" y="872.3" font-size="13" text-anchor="middle" >100</text>
<line x1="147.6" y1="854.8" x2="147.6" y2="849.8" stroke="#000" stroke-width="1.2" />
<text x="147.6" y="872.3" font-size="13" text-anchor="middle" >200</text>
<line x1="197.6" y1="854.8" x2="197.6" y2="849.8" stroke="#000" stroke-width="1.2" />
<text x="197.6" y="872.3" font-size="13" text-anchor="middle" >300</text>
<line x1="247.6" y1="854.8" x2="247.6" y2="849.8" stroke="#000" stroke-width="1.2" />
<text x="247.6" y="872.3" font-size="13" text-anchor="middle" >400</text>
<line x1="297.6" y1="854.8" x2="297.6" y2="849.8" stroke="#000" stroke-width="1.2" />
<text x="297.6" y="872.3" font-size="13" text-anchor="middle" >500</text>
<line x1="72.6" y1="854.8" x2="72.6" y2="851.8" stroke="#000" stroke-width="1.2" />
<line x1="122.6" y1="854.8" x2="122.6" y2="851.8" stroke="#000" stroke-width="1.2" />
<line x1="172.6" y1="854.8" x2="172.6" y2="851.8" stroke="#000" stroke-width="1.2" />
<line x1="222.6" y1="854.8" x2="222.6" y2="851.8" stroke="#000" stroke-width="1.2" />
<line x1="272.6" y1="854.8" x2="272.6" y2="851.8" stroke="#000" stroke-width="1.2" />
<line x1="322.6" y1="854.8" x2="322.6" y2="851.8" stroke="#000" stroke-width="1.2" />
<rect x="47.6" y="612.4" width="275" height="242.4" fill="none" stroke="#000" stroke-width="1.5"/>
<text x="100.9" y="897" font-size="15.5">Phonon frequency (cm<tspan font-size="10" dy="-6">-1</tspan><tspan dy="6">)</tspan></text>
<text transform="translate(12.5,732) rotate(-90)" font-size="14.8" text-anchor="middle">Umklapp processes scattering rates (ps<tspan font-size="10" dy="-6">-1</tspan><tspan dy="6">)</tspan></text>
<path d="M245.1 777.6l5.8 5.8m0-5.8l-5.8 5.8m2.9 -5.65v5.51m-2.75 -2.75h5.51" fill="none" stroke="#0000ff" stroke-width="0.9"/>
<text x="263.9" y="784.4" font-size="11" text-anchor="start" >Strain+0%</text>
<path d="M245.1 791.2l5.8 5.8m0-5.8l-5.8 5.8m2.9 -5.65v5.51m-2.75 -2.75h5.51" fill="none" stroke="#7a7aff" stroke-width="0.9"/>
<text x="263.9" y="798" font-size="11" text-anchor="start" >Strain+1%</text>
<path d="M245.1 804.9l5.8 5.8m0-5.8l-5.8 5.8m2.9 -5.65v5.51m-2.75 -2.75h5.51" fill="none" stroke="#808080" stroke-width="0.9"/>
<text x="263.9" y="811.7" font-size="11" text-anchor="start" >Strain+2%</text>
<path d="M245.1 818.4l5.8 5.8m0-5.8l-5.8 5.8m2.9 -5.65v5.51m-2.75 -2.75h5.51" fill="none" stroke="#ff8080" stroke-width="0.9"/>
<text x="263.9" y="825.2" font-size="11" text-anchor="start" >Strain+3%</text>
<path d="M245.1 831.9l5.8 5.8m0-5.8l-5.8 5.8m2.9 -5.65v5.51m-2.75 -2.75h5.51" fill="none" stroke="#ff0000" stroke-width="0.9"/>
<text x="263.9" y="838.7" font-size="11" text-anchor="start" >Strain+4%</text>
<text x="341.3" y="591" font-size="23" text-anchor="start" >F</text>
<defs><linearGradient id="g4" x1="0" y1="0" x2="1" y2="0"><stop offset="0" stop-color="#dcdcdc"/><stop offset="0.5" stop-color="#3e3e3e"/><stop offset="1" stop-color="#b4b4b4"/></linearGradient><linearGradient id="rc" x1="0" y1="0" x2="1" y2="0"><stop offset="0" stop-color="#f9b8b8"/><stop offset="0.5" stop-color="#e83434"/><stop offset="1" stop-color="#f8c4c4"/></linearGradient><linearGradient id="rd" x1="0" y1="0" x2="1" y2="0"><stop offset="0" stop-color="#b4ccf2"/><stop offset="0.5" stop-color="#2464de"/><stop offset="1" stop-color="#bcd2f4"/></linearGradient><linearGradient id="s3" x1="0" y1="0" x2="1" y2="0"><stop offset="0" stop-color="#b4e2c4"/><stop offset="0.5" stop-color="#34a464"/><stop offset="1" stop-color="#c4eAd4"/></linearGradient><linearGradient id="cb" x1="0" y1="0" x2="1" y2="0"><stop offset="0" stop-color="#e4d4f6"/><stop offset="0.5" stop-color="#a472e0"/><stop offset="1" stop-color="#ecdcf8"/></linearGradient></defs>
<rect x="397.3" y="838.1" width="9" height="17.9" fill="url(#g4)"/>
<rect x="406.3" y="801.8" width="9" height="54.2" fill="url(#rc)"/>
<rect x="415.3" y="778" width="9" height="78" fill="url(#rd)"/>
<rect x="415.3" y="736" width="9" height="37.6" fill="url(#rd)"/>
<rect x="424.3" y="778" width="9" height="78" fill="url(#s3)"/>
<rect x="424.3" y="667.3" width="9" height="106.3" fill="url(#s3)"/>
<rect x="433.3" y="778" width="9" height="78" fill="url(#cb)"/>
<rect x="433.3" y="666.1" width="9" height="107.5" fill="url(#cb)"/>
<text x="419.8" y="871.4" font-size="12.5" text-anchor="middle" >0%</text>
<rect x="452.8" y="838" width="9" height="18" fill="url(#g4)"/>
<rect x="461.8" y="801.2" width="9" height="54.8" fill="url(#rc)"/>
<rect x="470.8" y="778" width="9" height="78" fill="url(#rd)"/>
<rect x="470.8" y="718.8" width="9" height="54.8" fill="url(#rd)"/>
<rect x="479.8" y="778" width="9" height="78" fill="url(#s3)"/>
<rect x="479.8" y="660" width="9" height="113.6" fill="url(#s3)"/>
<rect x="488.8" y="778" width="9" height="78" fill="url(#cb)"/>
<rect x="488.8" y="658.2" width="9" height="115.4" fill="url(#cb)"/>
<text x="475.3" y="871.4" font-size="12.5" text-anchor="middle" >1%</text>
<rect x="508.3" y="838" width="9" height="18" fill="url(#g4)"/>
<rect x="517.3" y="799.8" width="9" height="56.2" fill="url(#rc)"/>
<rect x="526.3" y="778" width="9" height="78" fill="url(#rd)"/>
<rect x="526.3" y="716.7" width="9" height="56.9" fill="url(#rd)"/>
<rect x="535.3" y="778" width="9" height="78" fill="url(#s3)"/>
<rect x="535.3" y="661.7" width="9" height="111.9" fill="url(#s3)"/>
<rect x="544.3" y="778" width="9" height="78" fill="url(#cb)"/>
<rect x="544.3" y="662.1" width="9" height="111.5" fill="url(#cb)"/>
<text x="530.8" y="871.4" font-size="12.5" text-anchor="middle" >2%</text>
<rect x="563.8" y="836.9" width="9" height="19.1" fill="url(#g4)"/>
<rect x="572.8" y="797.3" width="9" height="58.7" fill="url(#rc)"/>
<rect x="581.8" y="778" width="9" height="78" fill="url(#rd)"/>
<rect x="581.8" y="731.1" width="9" height="42.5" fill="url(#rd)"/>
<rect x="590.8" y="778" width="9" height="78" fill="url(#s3)"/>
<rect x="590.8" y="651.6" width="9" height="122" fill="url(#s3)"/>
<rect x="599.8" y="778" width="9" height="78" fill="url(#cb)"/>
<rect x="599.8" y="652.6" width="9" height="121" fill="url(#cb)"/>
<text x="586.3" y="871.4" font-size="12.5" text-anchor="middle" >3%</text>
<rect x="619.3" y="836.2" width="9" height="19.8" fill="url(#g4)"/>
<rect x="628.3" y="796.3" width="9" height="59.7" fill="url(#rc)"/>
<rect x="637.3" y="778" width="9" height="78" fill="url(#rd)"/>
<rect x="637.3" y="729.3" width="9" height="44.3" fill="url(#rd)"/>
<rect x="646.3" y="778" width="9" height="78" fill="url(#s3)"/>
<rect x="646.3" y="646" width="9" height="127.6" fill="url(#s3)"/>
<rect x="655.3" y="778" width="9" height="78" fill="url(#cb)"/>
<rect x="655.3" y="643.9" width="9" height="129.7" fill="url(#cb)"/>
<text x="641.8" y="871.4" font-size="12.5" text-anchor="middle" >4%</text>
<polyline points="391.4,773 391.4,611.2 669.5,611.2 669.5,773" fill="none" stroke="#000" stroke-width="1.5"/>
<polyline points="391.4,778.5 391.4,856 669.5,856 669.5,778.5" fill="none" stroke="#000" stroke-width="1.5"/>
<line x1="386.4" y1="775.5" x2="396.4" y2="771.5" stroke="#000" stroke-width="1.3"/>
<line x1="386.4" y1="780" x2="396.4" y2="776" stroke="#000" stroke-width="1.3"/>
<line x1="664.5" y1="775.5" x2="674.5" y2="771.5" stroke="#000" stroke-width="1.3"/>
<line x1="664.5" y1="780" x2="674.5" y2="776" stroke="#000" stroke-width="1.3"/>
<text x="384" y="777.8" font-size="12.5" text-anchor="end" >0.004</text>
<line x1="391.4" y1="727.1" x2="396.4" y2="727.1" stroke="#000" stroke-width="1.2" />
<text x="384" y="731.6" font-size="12.5" text-anchor="end" >0.005</text>
<line x1="391.4" y1="680.9" x2="396.4" y2="680.9" stroke="#000" stroke-width="1.2" />
<text x="384" y="685.4" font-size="12.5" text-anchor="end" >0.006</text>
<line x1="391.4" y1="634.7" x2="396.4" y2="634.7" stroke="#000" stroke-width="1.2" />
<text x="384" y="639.2" font-size="12.5" text-anchor="end" >0.007</text>
<line x1="391.4" y1="750.2" x2="394.4" y2="750.2" stroke="#000" stroke-width="1.2" />
<line x1="391.4" y1="704" x2="394.4" y2="704" stroke="#000" stroke-width="1.2" />
<line x1="391.4" y1="657.8" x2="394.4" y2="657.8" stroke="#000" stroke-width="1.2" />
<text x="384" y="860.5" font-size="12.5" text-anchor="end" >0.000</text>
<line x1="391.4" y1="809.6" x2="396.4" y2="809.6" stroke="#000" stroke-width="1.2" />
<text x="384" y="814.1" font-size="12.5" text-anchor="end" >0.001</text>
<line x1="391.4" y1="832.8" x2="394.4" y2="832.8" stroke="#000" stroke-width="1.2" />
<line x1="391.4" y1="786.4" x2="394.4" y2="786.4" stroke="#000" stroke-width="1.2" />
<text x="376.6" y="895.5" font-size="15.4" text-anchor="start" >Three- and four-phonon scattering processes</text>
<text transform="translate(344.5,731) rotate(-90)" font-size="15" text-anchor="middle">Total phase space</text>
<rect x="396.4" y="617.5" width="22.2" height="10" fill="url(#g4)"/>
<text x="421.9" y="625.8" font-size="10.6" text-anchor="start" >splitting(4ph)</text>
<rect x="485.3" y="617.5" width="22.2" height="10" fill="url(#rc)"/>
<text x="510.8" y="625.8" font-size="10.6" text-anchor="start" >recombination</text>
<rect x="580.3" y="617.5" width="22.2" height="10" fill="url(#rd)"/>
<text x="605.8" y="625.8" font-size="10.6" text-anchor="start" >redistribution</text>
<rect x="445.1" y="630.3" width="22.2" height="10" fill="url(#s3)"/>
<text x="470.6" y="638.6" font-size="10.6" text-anchor="start" >splitting(3ph)</text>
<rect x="534.9" y="630.3" width="22.2" height="10" fill="url(#cb)"/>
<text x="560.4" y="638.6" font-size="10.6" text-anchor="start" >combination</text>
</svg>
</body></html>
